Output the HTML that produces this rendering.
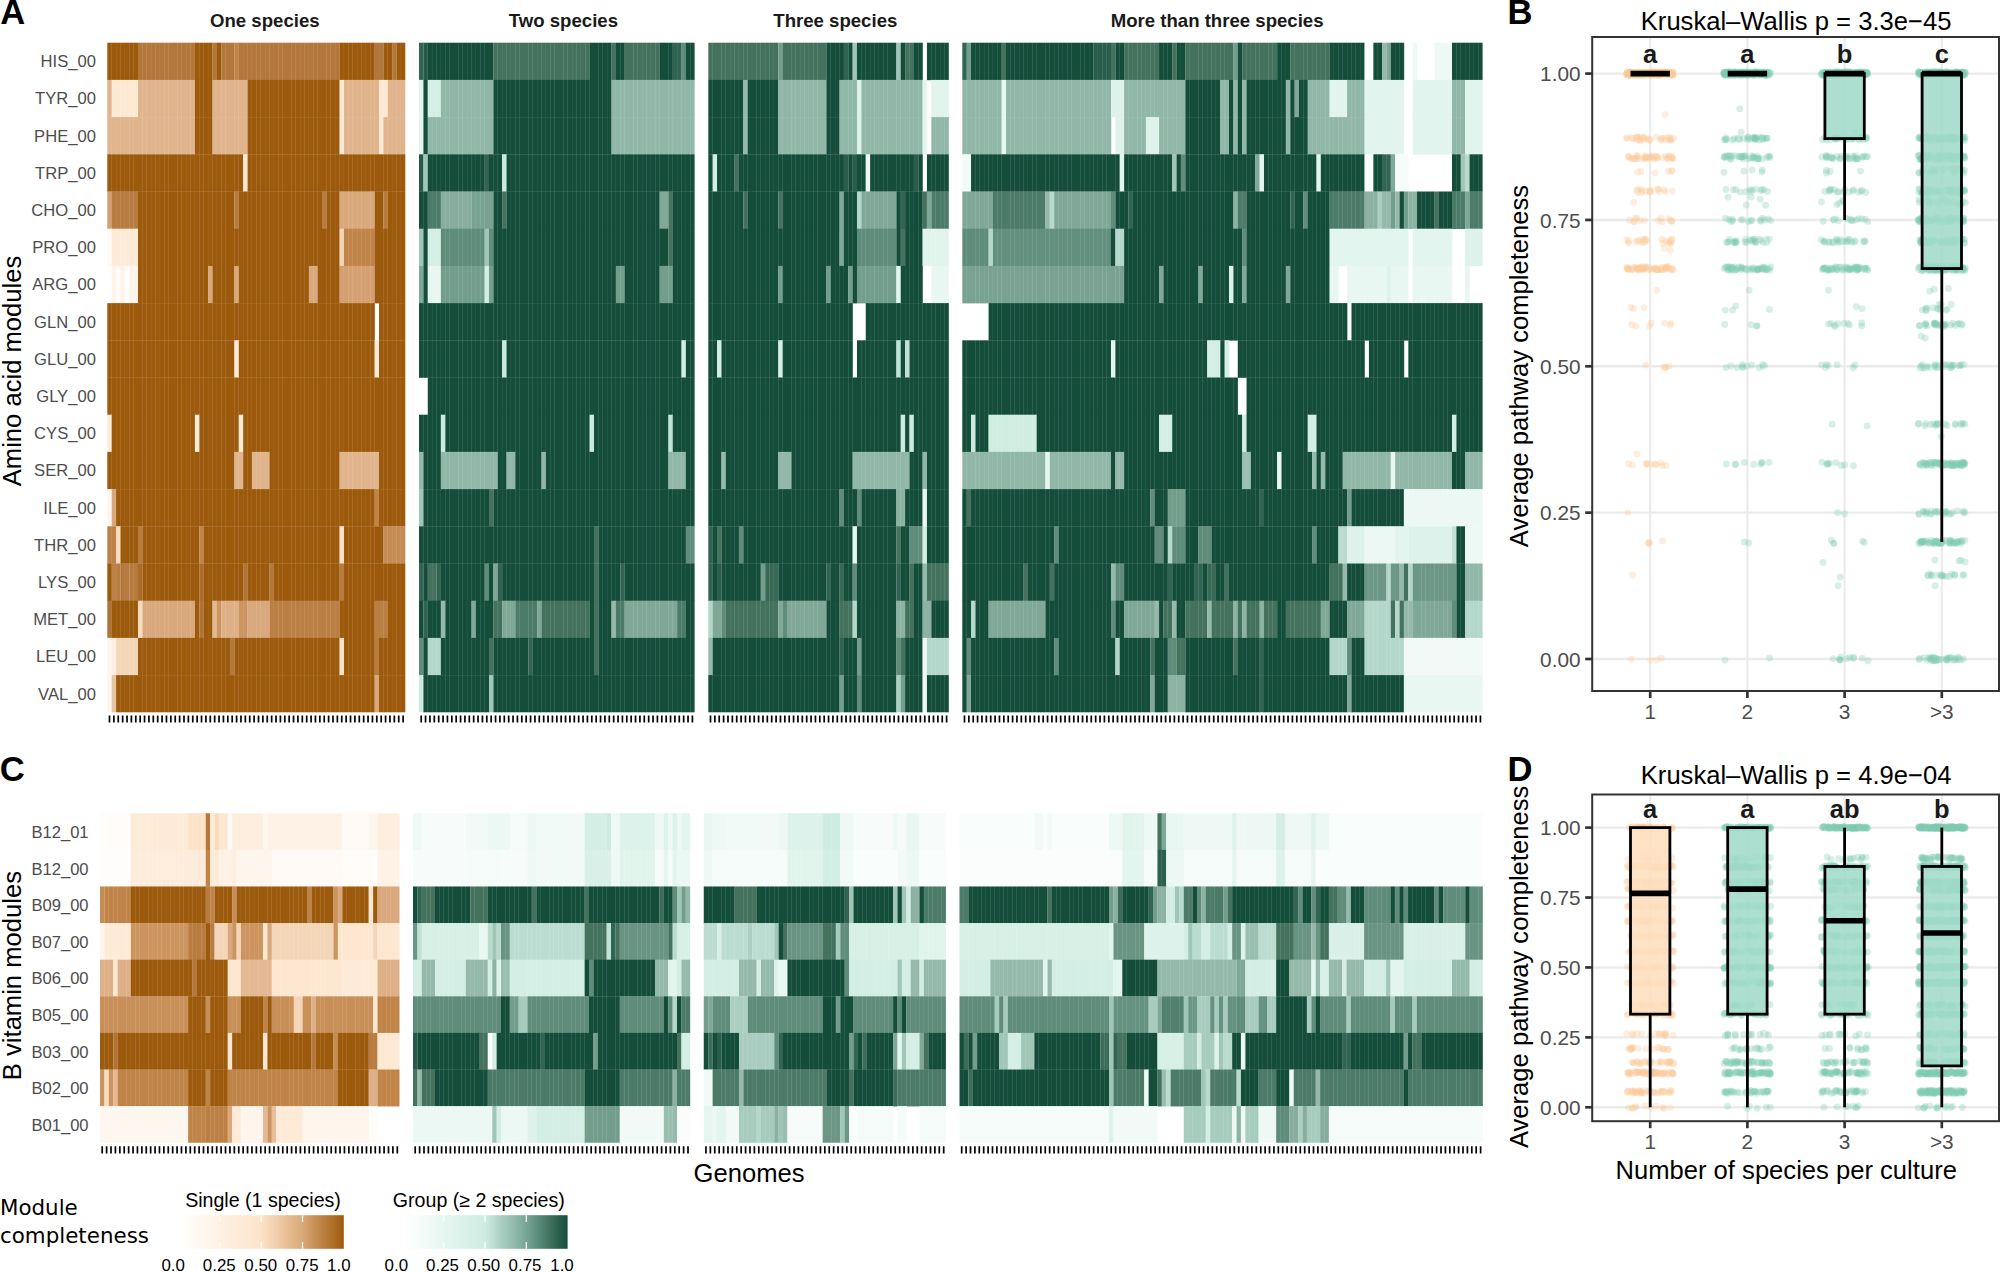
<!DOCTYPE html>
<html><head><meta charset="utf-8"><title>Figure</title>
<style>html,body{margin:0;padding:0;background:#fff;overflow:hidden}svg{display:block}text{font-family:"Liberation Sans",Arial,Helvetica,sans-serif}</style>
</head><body>
<svg width="2000" height="1272" viewBox="0 0 2000 1272">
<rect width="2000" height="1272" fill="#fff"/>
<g shape-rendering="auto">
<rect x="107.3" y="42.7" width="30.98" height="37.5" fill="#9C5A0C"/>
<rect x="137.98" y="42.7" width="57.27" height="37.5" fill="#B4773B"/>
<rect x="194.95" y="42.7" width="17.83" height="37.5" fill="#9C5A0C"/>
<rect x="212.48" y="42.7" width="4.68" height="37.5" fill="#B4773B"/>
<rect x="216.86" y="42.7" width="4.68" height="37.5" fill="#9C5A0C"/>
<rect x="221.24" y="42.7" width="13.45" height="37.5" fill="#B4773B"/>
<rect x="234.39" y="42.7" width="4.68" height="37.5" fill="#C08448"/>
<rect x="238.77" y="42.7" width="101.09" height="37.5" fill="#B4773B"/>
<rect x="339.56" y="42.7" width="35.36" height="37.5" fill="#9C5A0C"/>
<rect x="374.62" y="42.7" width="9.06" height="37.5" fill="#B4773B"/>
<rect x="383.39" y="42.7" width="9.06" height="37.5" fill="#9C5A0C"/>
<rect x="392.15" y="42.7" width="4.68" height="37.5" fill="#B4773B"/>
<rect x="396.54" y="42.7" width="8.76" height="37.5" fill="#9C5A0C"/>
<rect x="107.3" y="79.9" width="4.68" height="37.5" fill="#E0B48C"/>
<rect x="111.68" y="79.9" width="26.59" height="37.5" fill="#FDE9D3"/>
<rect x="137.98" y="79.9" width="57.27" height="37.5" fill="#E0B48C"/>
<rect x="194.95" y="79.9" width="17.83" height="37.5" fill="#9C5A0C"/>
<rect x="212.48" y="79.9" width="35.36" height="37.5" fill="#E0B48C"/>
<rect x="247.54" y="79.9" width="92.33" height="37.5" fill="#9C5A0C"/>
<rect x="339.56" y="79.9" width="4.68" height="37.5" fill="#FDE9D3"/>
<rect x="343.95" y="79.9" width="35.36" height="37.5" fill="#E0B48C"/>
<rect x="379.01" y="79.9" width="9.06" height="37.5" fill="#FDE9D3"/>
<rect x="387.77" y="79.9" width="17.53" height="37.5" fill="#E0B48C"/>
<rect x="107.3" y="117.1" width="87.95" height="37.5" fill="#E0B48C"/>
<rect x="194.95" y="117.1" width="17.83" height="37.5" fill="#9C5A0C"/>
<rect x="212.48" y="117.1" width="35.36" height="37.5" fill="#E0B48C"/>
<rect x="247.54" y="117.1" width="92.33" height="37.5" fill="#9C5A0C"/>
<rect x="339.56" y="117.1" width="4.68" height="37.5" fill="#FDE9D3"/>
<rect x="343.95" y="117.1" width="35.36" height="37.5" fill="#E0B48C"/>
<rect x="379.01" y="117.1" width="4.68" height="37.5" fill="#FDE9D3"/>
<rect x="383.39" y="117.1" width="21.91" height="37.5" fill="#E0B48C"/>
<rect x="107.3" y="154.3" width="136.15" height="37.5" fill="#9C5A0C"/>
<rect x="243.15" y="154.3" width="4.68" height="37.5" fill="#FDE9D3"/>
<rect x="247.54" y="154.3" width="157.76" height="37.5" fill="#9C5A0C"/>
<rect x="107.3" y="191.5" width="4.68" height="37.5" fill="#D4A071"/>
<rect x="111.68" y="191.5" width="26.59" height="37.5" fill="#B87C40"/>
<rect x="137.98" y="191.5" width="96.71" height="37.5" fill="#9C5A0C"/>
<rect x="234.39" y="191.5" width="4.68" height="37.5" fill="#B87C40"/>
<rect x="238.77" y="191.5" width="83.56" height="37.5" fill="#9C5A0C"/>
<rect x="322.04" y="191.5" width="4.68" height="37.5" fill="#B87C40"/>
<rect x="326.42" y="191.5" width="13.45" height="37.5" fill="#9C5A0C"/>
<rect x="339.56" y="191.5" width="35.36" height="37.5" fill="#D9A87C"/>
<rect x="374.62" y="191.5" width="9.06" height="37.5" fill="#9C5A0C"/>
<rect x="383.39" y="191.5" width="4.68" height="37.5" fill="#B87C40"/>
<rect x="387.77" y="191.5" width="17.53" height="37.5" fill="#9C5A0C"/>
<rect x="107.3" y="228.7" width="4.68" height="37.5" fill="#FFFAF5"/>
<rect x="111.68" y="228.7" width="26.59" height="37.5" fill="#FDEBD8"/>
<rect x="137.98" y="228.7" width="201.89" height="37.5" fill="#9C5A0C"/>
<rect x="339.56" y="228.7" width="4.68" height="37.5" fill="#F3D5B8"/>
<rect x="343.95" y="228.7" width="30.98" height="37.5" fill="#C08448"/>
<rect x="374.62" y="228.7" width="30.68" height="37.5" fill="#9C5A0C"/>
<rect x="111.68" y="265.9" width="4.68" height="37.5" fill="#FEF4EB"/>
<rect x="116.06" y="265.9" width="4.68" height="37.5" fill="#FFFDFB"/>
<rect x="120.45" y="265.9" width="4.68" height="37.5" fill="#FEF4EB"/>
<rect x="124.83" y="265.9" width="4.68" height="37.5" fill="#FFFDFB"/>
<rect x="129.21" y="265.9" width="9.06" height="37.5" fill="#FEF4EB"/>
<rect x="137.98" y="265.9" width="70.42" height="37.5" fill="#9C5A0C"/>
<rect x="208.09" y="265.9" width="4.68" height="37.5" fill="#D9A87C"/>
<rect x="212.48" y="265.9" width="22.21" height="37.5" fill="#9C5A0C"/>
<rect x="234.39" y="265.9" width="4.68" height="37.5" fill="#D9A87C"/>
<rect x="238.77" y="265.9" width="70.42" height="37.5" fill="#9C5A0C"/>
<rect x="308.89" y="265.9" width="9.06" height="37.5" fill="#D9A87C"/>
<rect x="317.65" y="265.9" width="22.21" height="37.5" fill="#9C5A0C"/>
<rect x="339.56" y="265.9" width="35.36" height="37.5" fill="#D4A071"/>
<rect x="374.62" y="265.9" width="30.68" height="37.5" fill="#9C5A0C"/>
<rect x="107.3" y="303.1" width="267.62" height="37.5" fill="#9C5A0C"/>
<rect x="379.01" y="303.1" width="26.29" height="37.5" fill="#9C5A0C"/>
<rect x="107.3" y="340.3" width="127.39" height="37.5" fill="#9C5A0C"/>
<rect x="234.39" y="340.3" width="4.68" height="37.5" fill="#FDEBD8"/>
<rect x="238.77" y="340.3" width="136.15" height="37.5" fill="#9C5A0C"/>
<rect x="374.62" y="340.3" width="4.68" height="37.5" fill="#FDEBD8"/>
<rect x="379.01" y="340.3" width="26.29" height="37.5" fill="#9C5A0C"/>
<rect x="107.3" y="377.5" width="298" height="37.5" fill="#9C5A0C"/>
<rect x="107.3" y="414.7" width="4.68" height="37.5" fill="#FDEBD8"/>
<rect x="111.68" y="414.7" width="83.56" height="37.5" fill="#9C5A0C"/>
<rect x="194.95" y="414.7" width="4.68" height="37.5" fill="#FDEBD8"/>
<rect x="199.33" y="414.7" width="39.74" height="37.5" fill="#9C5A0C"/>
<rect x="238.77" y="414.7" width="4.68" height="37.5" fill="#FDEBD8"/>
<rect x="243.15" y="414.7" width="162.15" height="37.5" fill="#9C5A0C"/>
<rect x="107.3" y="451.9" width="127.39" height="37.5" fill="#9C5A0C"/>
<rect x="234.39" y="451.9" width="9.06" height="37.5" fill="#E0B48C"/>
<rect x="243.15" y="451.9" width="9.06" height="37.5" fill="#9C5A0C"/>
<rect x="251.92" y="451.9" width="17.83" height="37.5" fill="#E0B48C"/>
<rect x="269.45" y="451.9" width="70.42" height="37.5" fill="#9C5A0C"/>
<rect x="339.56" y="451.9" width="39.74" height="37.5" fill="#E0B48C"/>
<rect x="379.01" y="451.9" width="26.29" height="37.5" fill="#9C5A0C"/>
<rect x="107.3" y="489.1" width="4.68" height="37.5" fill="#FEF5EC"/>
<rect x="111.68" y="489.1" width="4.68" height="37.5" fill="#D9A87C"/>
<rect x="116.06" y="489.1" width="258.86" height="37.5" fill="#9C5A0C"/>
<rect x="374.62" y="489.1" width="4.68" height="37.5" fill="#C08448"/>
<rect x="379.01" y="489.1" width="26.29" height="37.5" fill="#9C5A0C"/>
<rect x="107.3" y="526.3" width="9.06" height="37.5" fill="#BD8145"/>
<rect x="116.06" y="526.3" width="4.68" height="37.5" fill="#F8DCC0"/>
<rect x="120.45" y="526.3" width="17.83" height="37.5" fill="#9C5A0C"/>
<rect x="137.98" y="526.3" width="4.68" height="37.5" fill="#B87C40"/>
<rect x="142.36" y="526.3" width="57.27" height="37.5" fill="#9C5A0C"/>
<rect x="199.33" y="526.3" width="4.68" height="37.5" fill="#C08448"/>
<rect x="203.71" y="526.3" width="136.15" height="37.5" fill="#9C5A0C"/>
<rect x="339.56" y="526.3" width="4.68" height="37.5" fill="#FCE3C8"/>
<rect x="343.95" y="526.3" width="39.74" height="37.5" fill="#9C5A0C"/>
<rect x="383.39" y="526.3" width="21.91" height="37.5" fill="#C68C55"/>
<rect x="107.3" y="563.5" width="4.68" height="37.5" fill="#9C5A0C"/>
<rect x="111.68" y="563.5" width="4.68" height="37.5" fill="#BD8145"/>
<rect x="116.06" y="563.5" width="4.68" height="37.5" fill="#B87C40"/>
<rect x="120.45" y="563.5" width="4.68" height="37.5" fill="#B5783C"/>
<rect x="124.83" y="563.5" width="4.68" height="37.5" fill="#B87C40"/>
<rect x="129.21" y="563.5" width="9.06" height="37.5" fill="#B67A3E"/>
<rect x="137.98" y="563.5" width="4.68" height="37.5" fill="#AB6C2A"/>
<rect x="142.36" y="563.5" width="57.27" height="37.5" fill="#9C5A0C"/>
<rect x="199.33" y="563.5" width="4.68" height="37.5" fill="#AB6C2A"/>
<rect x="203.71" y="563.5" width="39.74" height="37.5" fill="#9C5A0C"/>
<rect x="243.15" y="563.5" width="4.68" height="37.5" fill="#B17335"/>
<rect x="247.54" y="563.5" width="22.21" height="37.5" fill="#9C5A0C"/>
<rect x="269.45" y="563.5" width="4.68" height="37.5" fill="#B5783C"/>
<rect x="273.83" y="563.5" width="66.04" height="37.5" fill="#9C5A0C"/>
<rect x="339.56" y="563.5" width="4.68" height="37.5" fill="#B87C40"/>
<rect x="343.95" y="563.5" width="61.35" height="37.5" fill="#9C5A0C"/>
<rect x="107.3" y="600.7" width="4.68" height="37.5" fill="#B17335"/>
<rect x="111.68" y="600.7" width="26.59" height="37.5" fill="#9C5A0C"/>
<rect x="137.98" y="600.7" width="4.68" height="37.5" fill="#F8DCC0"/>
<rect x="142.36" y="600.7" width="52.89" height="37.5" fill="#D9A87C"/>
<rect x="194.95" y="600.7" width="4.68" height="37.5" fill="#9C5A0C"/>
<rect x="199.33" y="600.7" width="4.68" height="37.5" fill="#B17335"/>
<rect x="203.71" y="600.7" width="9.06" height="37.5" fill="#9C5A0C"/>
<rect x="212.48" y="600.7" width="4.68" height="37.5" fill="#E3B892"/>
<rect x="216.86" y="600.7" width="4.68" height="37.5" fill="#CC9560"/>
<rect x="221.24" y="600.7" width="17.83" height="37.5" fill="#DEB087"/>
<rect x="238.77" y="600.7" width="9.06" height="37.5" fill="#CC9560"/>
<rect x="247.54" y="600.7" width="22.21" height="37.5" fill="#D9A87C"/>
<rect x="269.45" y="600.7" width="70.42" height="37.5" fill="#BB7F43"/>
<rect x="339.56" y="600.7" width="35.36" height="37.5" fill="#9C5A0C"/>
<rect x="374.62" y="600.7" width="13.45" height="37.5" fill="#BB7F43"/>
<rect x="387.77" y="600.7" width="17.53" height="37.5" fill="#9C5A0C"/>
<rect x="107.3" y="637.9" width="4.68" height="37.5" fill="#FEF5EC"/>
<rect x="111.68" y="637.9" width="4.68" height="37.5" fill="#FEEEDF"/>
<rect x="116.06" y="637.9" width="22.21" height="37.5" fill="#F3D5B8"/>
<rect x="137.98" y="637.9" width="92.33" height="37.5" fill="#9C5A0C"/>
<rect x="230.01" y="637.9" width="4.68" height="37.5" fill="#B5783C"/>
<rect x="234.39" y="637.9" width="105.48" height="37.5" fill="#9C5A0C"/>
<rect x="339.56" y="637.9" width="4.68" height="37.5" fill="#FCE3C8"/>
<rect x="343.95" y="637.9" width="30.98" height="37.5" fill="#9C5A0C"/>
<rect x="374.62" y="637.9" width="4.68" height="37.5" fill="#B87C40"/>
<rect x="379.01" y="637.9" width="26.29" height="37.5" fill="#9C5A0C"/>
<rect x="107.3" y="675.1" width="4.68" height="37.2" fill="#FEF5EC"/>
<rect x="111.68" y="675.1" width="4.68" height="37.2" fill="#E8C4A0"/>
<rect x="116.06" y="675.1" width="258.86" height="37.2" fill="#9C5A0C"/>
<rect x="374.62" y="675.1" width="4.68" height="37.2" fill="#D9A87C"/>
<rect x="379.01" y="675.1" width="26.29" height="37.2" fill="#9C5A0C"/>
<rect x="419" y="42.7" width="4.67" height="37.5" fill="#316452"/>
<rect x="423.37" y="42.7" width="4.67" height="37.5" fill="#255A48"/>
<rect x="427.75" y="42.7" width="65.92" height="37.5" fill="#154D3B"/>
<rect x="493.37" y="42.7" width="96.54" height="37.5" fill="#44725F"/>
<rect x="589.61" y="42.7" width="22.17" height="37.5" fill="#154D3B"/>
<rect x="611.48" y="42.7" width="4.67" height="37.5" fill="#44725F"/>
<rect x="615.86" y="42.7" width="9.05" height="37.5" fill="#154D3B"/>
<rect x="624.61" y="42.7" width="35.3" height="37.5" fill="#44725F"/>
<rect x="659.6" y="42.7" width="13.42" height="37.5" fill="#154D3B"/>
<rect x="672.73" y="42.7" width="9.05" height="37.5" fill="#316452"/>
<rect x="681.48" y="42.7" width="4.67" height="37.5" fill="#5F8C7B"/>
<rect x="685.85" y="42.7" width="8.75" height="37.5" fill="#154D3B"/>
<rect x="419" y="79.9" width="4.67" height="37.5" fill="#E2F5EE"/>
<rect x="423.37" y="79.9" width="4.67" height="37.5" fill="#154D3B"/>
<rect x="427.75" y="79.9" width="13.42" height="37.5" fill="#D3EEE4"/>
<rect x="440.87" y="79.9" width="52.8" height="37.5" fill="#91B7A8"/>
<rect x="493.37" y="79.9" width="118.41" height="37.5" fill="#154D3B"/>
<rect x="611.48" y="79.9" width="83.12" height="37.5" fill="#91B7A8"/>
<rect x="419" y="117.1" width="4.67" height="37.5" fill="#E2F5EE"/>
<rect x="423.37" y="117.1" width="4.67" height="37.5" fill="#154D3B"/>
<rect x="427.75" y="117.1" width="65.92" height="37.5" fill="#91B7A8"/>
<rect x="493.37" y="117.1" width="118.41" height="37.5" fill="#154D3B"/>
<rect x="611.48" y="117.1" width="83.12" height="37.5" fill="#91B7A8"/>
<rect x="419" y="154.3" width="4.67" height="37.5" fill="#255A48"/>
<rect x="423.37" y="154.3" width="4.67" height="37.5" fill="#A0C6B8"/>
<rect x="427.75" y="154.3" width="57.17" height="37.5" fill="#154D3B"/>
<rect x="484.62" y="154.3" width="4.67" height="37.5" fill="#316452"/>
<rect x="488.99" y="154.3" width="13.42" height="37.5" fill="#154D3B"/>
<rect x="502.12" y="154.3" width="4.67" height="37.5" fill="#CCEBE0"/>
<rect x="506.49" y="154.3" width="188.11" height="37.5" fill="#154D3B"/>
<rect x="419" y="191.5" width="9.05" height="37.5" fill="#154D3B"/>
<rect x="427.75" y="191.5" width="13.42" height="37.5" fill="#4D7B69"/>
<rect x="440.87" y="191.5" width="30.92" height="37.5" fill="#86AD9D"/>
<rect x="471.5" y="191.5" width="22.17" height="37.5" fill="#7AA292"/>
<rect x="493.37" y="191.5" width="9.05" height="37.5" fill="#154D3B"/>
<rect x="502.12" y="191.5" width="4.67" height="37.5" fill="#44725F"/>
<rect x="506.49" y="191.5" width="153.41" height="37.5" fill="#154D3B"/>
<rect x="659.6" y="191.5" width="9.05" height="37.5" fill="#80A898"/>
<rect x="668.35" y="191.5" width="4.67" height="37.5" fill="#44725F"/>
<rect x="672.73" y="191.5" width="21.87" height="37.5" fill="#154D3B"/>
<rect x="419" y="228.7" width="4.67" height="37.5" fill="#A0C6B8"/>
<rect x="423.37" y="228.7" width="4.67" height="37.5" fill="#154D3B"/>
<rect x="427.75" y="228.7" width="13.42" height="37.5" fill="#D3EEE4"/>
<rect x="440.87" y="228.7" width="44.05" height="37.5" fill="#5F8C7B"/>
<rect x="484.62" y="228.7" width="4.67" height="37.5" fill="#A0C6B8"/>
<rect x="488.99" y="228.7" width="4.67" height="37.5" fill="#5F8C7B"/>
<rect x="493.37" y="228.7" width="175.28" height="37.5" fill="#154D3B"/>
<rect x="668.35" y="228.7" width="4.67" height="37.5" fill="#44725F"/>
<rect x="672.73" y="228.7" width="21.87" height="37.5" fill="#154D3B"/>
<rect x="419" y="265.9" width="4.67" height="37.5" fill="#80A898"/>
<rect x="423.37" y="265.9" width="4.67" height="37.5" fill="#154D3B"/>
<rect x="427.75" y="265.9" width="13.42" height="37.5" fill="#E8F7F1"/>
<rect x="440.87" y="265.9" width="44.05" height="37.5" fill="#739D8C"/>
<rect x="484.62" y="265.9" width="4.67" height="37.5" fill="#D3EEE4"/>
<rect x="488.99" y="265.9" width="4.67" height="37.5" fill="#739D8C"/>
<rect x="493.37" y="265.9" width="122.79" height="37.5" fill="#154D3B"/>
<rect x="615.86" y="265.9" width="9.05" height="37.5" fill="#739D8C"/>
<rect x="624.61" y="265.9" width="35.3" height="37.5" fill="#154D3B"/>
<rect x="659.6" y="265.9" width="13.42" height="37.5" fill="#739D8C"/>
<rect x="672.73" y="265.9" width="21.87" height="37.5" fill="#154D3B"/>
<rect x="419" y="303.1" width="275.6" height="37.5" fill="#154D3B"/>
<rect x="419" y="340.3" width="83.42" height="37.5" fill="#154D3B"/>
<rect x="502.12" y="340.3" width="4.67" height="37.5" fill="#CCEBE0"/>
<rect x="506.49" y="340.3" width="175.28" height="37.5" fill="#154D3B"/>
<rect x="681.48" y="340.3" width="4.67" height="37.5" fill="#D3EEE4"/>
<rect x="685.85" y="340.3" width="8.75" height="37.5" fill="#154D3B"/>
<rect x="427.75" y="377.5" width="266.85" height="37.5" fill="#154D3B"/>
<rect x="419" y="414.7" width="22.17" height="37.5" fill="#154D3B"/>
<rect x="440.87" y="414.7" width="4.67" height="37.5" fill="#CCEBE0"/>
<rect x="445.25" y="414.7" width="144.66" height="37.5" fill="#154D3B"/>
<rect x="589.61" y="414.7" width="4.67" height="37.5" fill="#CCEBE0"/>
<rect x="593.98" y="414.7" width="74.67" height="37.5" fill="#154D3B"/>
<rect x="668.35" y="414.7" width="4.67" height="37.5" fill="#C0E1D5"/>
<rect x="672.73" y="414.7" width="21.87" height="37.5" fill="#154D3B"/>
<rect x="419" y="451.9" width="4.67" height="37.5" fill="#95BAAC"/>
<rect x="423.37" y="451.9" width="17.8" height="37.5" fill="#154D3B"/>
<rect x="440.87" y="451.9" width="57.17" height="37.5" fill="#91B7A8"/>
<rect x="497.74" y="451.9" width="9.05" height="37.5" fill="#154D3B"/>
<rect x="506.49" y="451.9" width="9.05" height="37.5" fill="#91B7A8"/>
<rect x="515.24" y="451.9" width="26.55" height="37.5" fill="#154D3B"/>
<rect x="541.49" y="451.9" width="4.67" height="37.5" fill="#91B7A8"/>
<rect x="545.86" y="451.9" width="122.79" height="37.5" fill="#154D3B"/>
<rect x="668.35" y="451.9" width="17.8" height="37.5" fill="#91B7A8"/>
<rect x="685.85" y="451.9" width="8.75" height="37.5" fill="#154D3B"/>
<rect x="419" y="489.1" width="4.67" height="37.5" fill="#A0C6B8"/>
<rect x="423.37" y="489.1" width="65.92" height="37.5" fill="#154D3B"/>
<rect x="488.99" y="489.1" width="4.67" height="37.5" fill="#44725F"/>
<rect x="493.37" y="489.1" width="201.23" height="37.5" fill="#154D3B"/>
<rect x="419" y="526.3" width="175.28" height="37.5" fill="#154D3B"/>
<rect x="593.98" y="526.3" width="4.67" height="37.5" fill="#44725F"/>
<rect x="598.36" y="526.3" width="87.79" height="37.5" fill="#154D3B"/>
<rect x="685.85" y="526.3" width="8.75" height="37.5" fill="#5F8C7B"/>
<rect x="419" y="563.5" width="4.67" height="37.5" fill="#316452"/>
<rect x="423.37" y="563.5" width="4.67" height="37.5" fill="#154D3B"/>
<rect x="427.75" y="563.5" width="9.05" height="37.5" fill="#44725F"/>
<rect x="436.5" y="563.5" width="4.67" height="37.5" fill="#316452"/>
<rect x="440.87" y="563.5" width="44.05" height="37.5" fill="#154D3B"/>
<rect x="484.62" y="563.5" width="4.67" height="37.5" fill="#5F8C7B"/>
<rect x="488.99" y="563.5" width="4.67" height="37.5" fill="#154D3B"/>
<rect x="493.37" y="563.5" width="4.67" height="37.5" fill="#80A898"/>
<rect x="497.74" y="563.5" width="4.67" height="37.5" fill="#316452"/>
<rect x="502.12" y="563.5" width="92.17" height="37.5" fill="#154D3B"/>
<rect x="593.98" y="563.5" width="4.67" height="37.5" fill="#44725F"/>
<rect x="598.36" y="563.5" width="22.17" height="37.5" fill="#154D3B"/>
<rect x="620.23" y="563.5" width="4.67" height="37.5" fill="#316452"/>
<rect x="624.61" y="563.5" width="69.99" height="37.5" fill="#154D3B"/>
<rect x="419" y="600.7" width="4.67" height="37.5" fill="#154D3B"/>
<rect x="423.37" y="600.7" width="4.67" height="37.5" fill="#316452"/>
<rect x="427.75" y="600.7" width="13.42" height="37.5" fill="#154D3B"/>
<rect x="440.87" y="600.7" width="4.67" height="37.5" fill="#95BAAC"/>
<rect x="445.25" y="600.7" width="26.55" height="37.5" fill="#154D3B"/>
<rect x="471.5" y="600.7" width="4.67" height="37.5" fill="#80A898"/>
<rect x="475.87" y="600.7" width="17.8" height="37.5" fill="#154D3B"/>
<rect x="493.37" y="600.7" width="9.05" height="37.5" fill="#44725F"/>
<rect x="502.12" y="600.7" width="13.42" height="37.5" fill="#80A898"/>
<rect x="515.24" y="600.7" width="22.17" height="37.5" fill="#4D7B69"/>
<rect x="537.11" y="600.7" width="4.67" height="37.5" fill="#80A898"/>
<rect x="541.49" y="600.7" width="48.42" height="37.5" fill="#44725F"/>
<rect x="589.61" y="600.7" width="4.67" height="37.5" fill="#154D3B"/>
<rect x="593.98" y="600.7" width="4.67" height="37.5" fill="#44725F"/>
<rect x="598.36" y="600.7" width="13.42" height="37.5" fill="#154D3B"/>
<rect x="611.48" y="600.7" width="4.67" height="37.5" fill="#95BAAC"/>
<rect x="615.86" y="600.7" width="9.05" height="37.5" fill="#4D7B69"/>
<rect x="624.61" y="600.7" width="52.8" height="37.5" fill="#80A898"/>
<rect x="677.1" y="600.7" width="9.05" height="37.5" fill="#4D7B69"/>
<rect x="685.85" y="600.7" width="8.75" height="37.5" fill="#154D3B"/>
<rect x="419" y="637.9" width="4.67" height="37.5" fill="#5F8C7B"/>
<rect x="423.37" y="637.9" width="4.67" height="37.5" fill="#154D3B"/>
<rect x="427.75" y="637.9" width="13.42" height="37.5" fill="#B3D7CA"/>
<rect x="440.87" y="637.9" width="48.42" height="37.5" fill="#154D3B"/>
<rect x="488.99" y="637.9" width="4.67" height="37.5" fill="#44725F"/>
<rect x="493.37" y="637.9" width="35.3" height="37.5" fill="#154D3B"/>
<rect x="528.37" y="637.9" width="4.67" height="37.5" fill="#316452"/>
<rect x="532.74" y="637.9" width="61.54" height="37.5" fill="#154D3B"/>
<rect x="593.98" y="637.9" width="4.67" height="37.5" fill="#44725F"/>
<rect x="598.36" y="637.9" width="96.24" height="37.5" fill="#154D3B"/>
<rect x="419" y="675.1" width="4.67" height="37.2" fill="#CCEBE0"/>
<rect x="423.37" y="675.1" width="65.92" height="37.2" fill="#154D3B"/>
<rect x="488.99" y="675.1" width="4.67" height="37.2" fill="#A0C6B8"/>
<rect x="493.37" y="675.1" width="201.23" height="37.2" fill="#154D3B"/>
<rect x="708.3" y="42.7" width="70.26" height="37.5" fill="#44725F"/>
<rect x="778.26" y="42.7" width="4.67" height="37.5" fill="#739D8C"/>
<rect x="782.64" y="42.7" width="44.03" height="37.5" fill="#44725F"/>
<rect x="826.36" y="42.7" width="17.79" height="37.5" fill="#154D3B"/>
<rect x="843.85" y="42.7" width="4.67" height="37.5" fill="#316452"/>
<rect x="848.23" y="42.7" width="4.67" height="37.5" fill="#154D3B"/>
<rect x="852.6" y="42.7" width="4.67" height="37.5" fill="#A0C6B8"/>
<rect x="856.97" y="42.7" width="39.65" height="37.5" fill="#154D3B"/>
<rect x="896.33" y="42.7" width="4.67" height="37.5" fill="#A0C6B8"/>
<rect x="900.7" y="42.7" width="4.67" height="37.5" fill="#154D3B"/>
<rect x="905.07" y="42.7" width="9.05" height="37.5" fill="#44725F"/>
<rect x="913.82" y="42.7" width="9.05" height="37.5" fill="#154D3B"/>
<rect x="926.94" y="42.7" width="21.86" height="37.5" fill="#154D3B"/>
<rect x="708.3" y="79.9" width="35.28" height="37.5" fill="#154D3B"/>
<rect x="743.28" y="79.9" width="4.67" height="37.5" fill="#95BAAC"/>
<rect x="747.65" y="79.9" width="30.91" height="37.5" fill="#154D3B"/>
<rect x="778.26" y="79.9" width="48.4" height="37.5" fill="#91B7A8"/>
<rect x="826.36" y="79.9" width="13.42" height="37.5" fill="#154D3B"/>
<rect x="839.48" y="79.9" width="17.79" height="37.5" fill="#91B7A8"/>
<rect x="856.97" y="79.9" width="4.67" height="37.5" fill="#DCF2EA"/>
<rect x="861.35" y="79.9" width="61.52" height="37.5" fill="#91B7A8"/>
<rect x="922.56" y="79.9" width="4.67" height="37.5" fill="#E2F5EE"/>
<rect x="931.31" y="79.9" width="17.49" height="37.5" fill="#E0F4EC"/>
<rect x="708.3" y="117.1" width="35.28" height="37.5" fill="#154D3B"/>
<rect x="743.28" y="117.1" width="4.67" height="37.5" fill="#95BAAC"/>
<rect x="747.65" y="117.1" width="30.91" height="37.5" fill="#154D3B"/>
<rect x="778.26" y="117.1" width="48.4" height="37.5" fill="#91B7A8"/>
<rect x="826.36" y="117.1" width="13.42" height="37.5" fill="#154D3B"/>
<rect x="839.48" y="117.1" width="17.79" height="37.5" fill="#91B7A8"/>
<rect x="856.97" y="117.1" width="4.67" height="37.5" fill="#DCF2EA"/>
<rect x="861.35" y="117.1" width="61.52" height="37.5" fill="#91B7A8"/>
<rect x="922.56" y="117.1" width="4.67" height="37.5" fill="#E2F5EE"/>
<rect x="931.31" y="117.1" width="17.49" height="37.5" fill="#91B7A8"/>
<rect x="708.3" y="154.3" width="4.67" height="37.5" fill="#154D3B"/>
<rect x="712.67" y="154.3" width="4.67" height="37.5" fill="#D3EEE4"/>
<rect x="717.05" y="154.3" width="17.79" height="37.5" fill="#154D3B"/>
<rect x="734.54" y="154.3" width="4.67" height="37.5" fill="#44725F"/>
<rect x="738.91" y="154.3" width="105.25" height="37.5" fill="#154D3B"/>
<rect x="843.85" y="154.3" width="4.67" height="37.5" fill="#2A5E4C"/>
<rect x="848.23" y="154.3" width="4.67" height="37.5" fill="#154D3B"/>
<rect x="852.6" y="154.3" width="4.67" height="37.5" fill="#2A5E4C"/>
<rect x="856.97" y="154.3" width="9.05" height="37.5" fill="#154D3B"/>
<rect x="865.72" y="154.3" width="4.67" height="37.5" fill="#EEF9F5"/>
<rect x="870.09" y="154.3" width="44.03" height="37.5" fill="#154D3B"/>
<rect x="913.82" y="154.3" width="4.67" height="37.5" fill="#2A5E4C"/>
<rect x="918.19" y="154.3" width="4.67" height="37.5" fill="#154D3B"/>
<rect x="926.94" y="154.3" width="21.86" height="37.5" fill="#154D3B"/>
<rect x="708.3" y="191.5" width="35.28" height="37.5" fill="#154D3B"/>
<rect x="743.28" y="191.5" width="4.67" height="37.5" fill="#44725F"/>
<rect x="747.65" y="191.5" width="30.91" height="37.5" fill="#154D3B"/>
<rect x="778.26" y="191.5" width="4.67" height="37.5" fill="#44725F"/>
<rect x="782.64" y="191.5" width="57.15" height="37.5" fill="#154D3B"/>
<rect x="839.48" y="191.5" width="4.67" height="37.5" fill="#80A898"/>
<rect x="843.85" y="191.5" width="13.42" height="37.5" fill="#154D3B"/>
<rect x="856.97" y="191.5" width="4.67" height="37.5" fill="#B3D7CA"/>
<rect x="861.35" y="191.5" width="35.28" height="37.5" fill="#80A898"/>
<rect x="896.33" y="191.5" width="4.67" height="37.5" fill="#154D3B"/>
<rect x="900.7" y="191.5" width="4.67" height="37.5" fill="#316452"/>
<rect x="905.07" y="191.5" width="17.79" height="37.5" fill="#154D3B"/>
<rect x="922.56" y="191.5" width="4.67" height="37.5" fill="#44725F"/>
<rect x="926.94" y="191.5" width="4.67" height="37.5" fill="#80A898"/>
<rect x="931.31" y="191.5" width="17.49" height="37.5" fill="#4D7B69"/>
<rect x="708.3" y="228.7" width="131.48" height="37.5" fill="#154D3B"/>
<rect x="839.48" y="228.7" width="4.67" height="37.5" fill="#80A898"/>
<rect x="843.85" y="228.7" width="13.42" height="37.5" fill="#154D3B"/>
<rect x="856.97" y="228.7" width="39.65" height="37.5" fill="#5F8C7B"/>
<rect x="896.33" y="228.7" width="4.67" height="37.5" fill="#154D3B"/>
<rect x="900.7" y="228.7" width="4.67" height="37.5" fill="#44725F"/>
<rect x="905.07" y="228.7" width="17.79" height="37.5" fill="#154D3B"/>
<rect x="922.56" y="228.7" width="26.24" height="37.5" fill="#E0F4EC"/>
<rect x="708.3" y="265.9" width="70.26" height="37.5" fill="#154D3B"/>
<rect x="778.26" y="265.9" width="4.67" height="37.5" fill="#739D8C"/>
<rect x="782.64" y="265.9" width="44.03" height="37.5" fill="#154D3B"/>
<rect x="826.36" y="265.9" width="4.67" height="37.5" fill="#739D8C"/>
<rect x="830.74" y="265.9" width="17.79" height="37.5" fill="#154D3B"/>
<rect x="848.23" y="265.9" width="4.67" height="37.5" fill="#739D8C"/>
<rect x="852.6" y="265.9" width="4.67" height="37.5" fill="#154D3B"/>
<rect x="856.97" y="265.9" width="39.65" height="37.5" fill="#739D8C"/>
<rect x="896.33" y="265.9" width="4.67" height="37.5" fill="#E2F5EE"/>
<rect x="900.7" y="265.9" width="22.16" height="37.5" fill="#154D3B"/>
<rect x="931.31" y="265.9" width="17.49" height="37.5" fill="#E8F7F1"/>
<rect x="708.3" y="303.1" width="144.6" height="37.5" fill="#154D3B"/>
<rect x="865.72" y="303.1" width="83.08" height="37.5" fill="#154D3B"/>
<rect x="708.3" y="340.3" width="9.05" height="37.5" fill="#154D3B"/>
<rect x="717.05" y="340.3" width="4.67" height="37.5" fill="#D3EEE4"/>
<rect x="721.42" y="340.3" width="57.15" height="37.5" fill="#154D3B"/>
<rect x="778.26" y="340.3" width="4.67" height="37.5" fill="#D3EEE4"/>
<rect x="782.64" y="340.3" width="70.26" height="37.5" fill="#154D3B"/>
<rect x="856.97" y="340.3" width="39.65" height="37.5" fill="#154D3B"/>
<rect x="896.33" y="340.3" width="4.67" height="37.5" fill="#C0E1D5"/>
<rect x="900.7" y="340.3" width="4.67" height="37.5" fill="#154D3B"/>
<rect x="905.07" y="340.3" width="4.67" height="37.5" fill="#C0E1D5"/>
<rect x="909.45" y="340.3" width="39.35" height="37.5" fill="#154D3B"/>
<rect x="708.3" y="377.5" width="240.5" height="37.5" fill="#154D3B"/>
<rect x="708.3" y="414.7" width="192.7" height="37.5" fill="#154D3B"/>
<rect x="900.7" y="414.7" width="4.67" height="37.5" fill="#CCEBE0"/>
<rect x="905.07" y="414.7" width="4.67" height="37.5" fill="#154D3B"/>
<rect x="909.45" y="414.7" width="4.67" height="37.5" fill="#CCEBE0"/>
<rect x="913.82" y="414.7" width="34.98" height="37.5" fill="#154D3B"/>
<rect x="708.3" y="451.9" width="13.42" height="37.5" fill="#154D3B"/>
<rect x="721.42" y="451.9" width="4.67" height="37.5" fill="#95BAAC"/>
<rect x="725.79" y="451.9" width="52.77" height="37.5" fill="#154D3B"/>
<rect x="778.26" y="451.9" width="13.42" height="37.5" fill="#91B7A8"/>
<rect x="791.38" y="451.9" width="61.52" height="37.5" fill="#154D3B"/>
<rect x="852.6" y="451.9" width="57.15" height="37.5" fill="#91B7A8"/>
<rect x="909.45" y="451.9" width="13.42" height="37.5" fill="#154D3B"/>
<rect x="922.56" y="451.9" width="4.67" height="37.5" fill="#91B7A8"/>
<rect x="926.94" y="451.9" width="21.86" height="37.5" fill="#154D3B"/>
<rect x="708.3" y="489.1" width="131.48" height="37.5" fill="#154D3B"/>
<rect x="839.48" y="489.1" width="4.67" height="37.5" fill="#5F8C7B"/>
<rect x="843.85" y="489.1" width="13.42" height="37.5" fill="#154D3B"/>
<rect x="856.97" y="489.1" width="4.67" height="37.5" fill="#5F8C7B"/>
<rect x="861.35" y="489.1" width="35.28" height="37.5" fill="#154D3B"/>
<rect x="896.33" y="489.1" width="9.05" height="37.5" fill="#8BB2A3"/>
<rect x="905.07" y="489.1" width="17.79" height="37.5" fill="#154D3B"/>
<rect x="922.56" y="489.1" width="4.67" height="37.5" fill="#E8F7F1"/>
<rect x="926.94" y="489.1" width="21.86" height="37.5" fill="#154D3B"/>
<rect x="708.3" y="526.3" width="4.67" height="37.5" fill="#316452"/>
<rect x="712.67" y="526.3" width="4.67" height="37.5" fill="#154D3B"/>
<rect x="717.05" y="526.3" width="4.67" height="37.5" fill="#44725F"/>
<rect x="721.42" y="526.3" width="17.79" height="37.5" fill="#154D3B"/>
<rect x="738.91" y="526.3" width="4.67" height="37.5" fill="#5F8C7B"/>
<rect x="743.28" y="526.3" width="109.62" height="37.5" fill="#154D3B"/>
<rect x="852.6" y="526.3" width="4.67" height="37.5" fill="#E8F7F1"/>
<rect x="856.97" y="526.3" width="39.65" height="37.5" fill="#154D3B"/>
<rect x="896.33" y="526.3" width="4.67" height="37.5" fill="#44725F"/>
<rect x="900.7" y="526.3" width="9.05" height="37.5" fill="#154D3B"/>
<rect x="909.45" y="526.3" width="13.42" height="37.5" fill="#5F8C7B"/>
<rect x="922.56" y="526.3" width="4.67" height="37.5" fill="#D3EEE4"/>
<rect x="926.94" y="526.3" width="21.86" height="37.5" fill="#154D3B"/>
<rect x="708.3" y="563.5" width="4.67" height="37.5" fill="#316452"/>
<rect x="712.67" y="563.5" width="4.67" height="37.5" fill="#154D3B"/>
<rect x="717.05" y="563.5" width="4.67" height="37.5" fill="#2A5E4C"/>
<rect x="721.42" y="563.5" width="39.65" height="37.5" fill="#154D3B"/>
<rect x="760.77" y="563.5" width="4.67" height="37.5" fill="#739D8C"/>
<rect x="765.15" y="563.5" width="13.42" height="37.5" fill="#396A57"/>
<rect x="778.26" y="563.5" width="48.4" height="37.5" fill="#154D3B"/>
<rect x="826.36" y="563.5" width="4.67" height="37.5" fill="#316452"/>
<rect x="830.74" y="563.5" width="9.05" height="37.5" fill="#154D3B"/>
<rect x="839.48" y="563.5" width="4.67" height="37.5" fill="#396A57"/>
<rect x="843.85" y="563.5" width="9.05" height="37.5" fill="#154D3B"/>
<rect x="852.6" y="563.5" width="4.67" height="37.5" fill="#5F8C7B"/>
<rect x="856.97" y="563.5" width="39.65" height="37.5" fill="#154D3B"/>
<rect x="896.33" y="563.5" width="4.67" height="37.5" fill="#316452"/>
<rect x="900.7" y="563.5" width="9.05" height="37.5" fill="#154D3B"/>
<rect x="909.45" y="563.5" width="4.67" height="37.5" fill="#44725F"/>
<rect x="913.82" y="563.5" width="9.05" height="37.5" fill="#154D3B"/>
<rect x="922.56" y="563.5" width="4.67" height="37.5" fill="#95BAAC"/>
<rect x="926.94" y="563.5" width="21.86" height="37.5" fill="#44725F"/>
<rect x="708.3" y="600.7" width="4.67" height="37.5" fill="#B3D7CA"/>
<rect x="712.67" y="600.7" width="9.05" height="37.5" fill="#80A898"/>
<rect x="721.42" y="600.7" width="4.67" height="37.5" fill="#5F8C7B"/>
<rect x="725.79" y="600.7" width="52.77" height="37.5" fill="#44725F"/>
<rect x="778.26" y="600.7" width="4.67" height="37.5" fill="#80A898"/>
<rect x="782.64" y="600.7" width="4.67" height="37.5" fill="#5F8C7B"/>
<rect x="787.01" y="600.7" width="39.65" height="37.5" fill="#80A898"/>
<rect x="826.36" y="600.7" width="13.42" height="37.5" fill="#154D3B"/>
<rect x="839.48" y="600.7" width="13.42" height="37.5" fill="#44725F"/>
<rect x="852.6" y="600.7" width="4.67" height="37.5" fill="#B3D7CA"/>
<rect x="856.97" y="600.7" width="39.65" height="37.5" fill="#154D3B"/>
<rect x="896.33" y="600.7" width="9.05" height="37.5" fill="#8BB2A3"/>
<rect x="905.07" y="600.7" width="9.05" height="37.5" fill="#44725F"/>
<rect x="913.82" y="600.7" width="9.05" height="37.5" fill="#154D3B"/>
<rect x="922.56" y="600.7" width="9.05" height="37.5" fill="#8BB2A3"/>
<rect x="931.31" y="600.7" width="17.49" height="37.5" fill="#154D3B"/>
<rect x="708.3" y="637.9" width="4.67" height="37.5" fill="#95BAAC"/>
<rect x="712.67" y="637.9" width="127.11" height="37.5" fill="#154D3B"/>
<rect x="839.48" y="637.9" width="4.67" height="37.5" fill="#316452"/>
<rect x="843.85" y="637.9" width="13.42" height="37.5" fill="#154D3B"/>
<rect x="856.97" y="637.9" width="4.67" height="37.5" fill="#739D8C"/>
<rect x="861.35" y="637.9" width="35.28" height="37.5" fill="#154D3B"/>
<rect x="896.33" y="637.9" width="4.67" height="37.5" fill="#5F8C7B"/>
<rect x="900.7" y="637.9" width="4.67" height="37.5" fill="#44725F"/>
<rect x="905.07" y="637.9" width="17.79" height="37.5" fill="#154D3B"/>
<rect x="922.56" y="637.9" width="4.67" height="37.5" fill="#EEF9F5"/>
<rect x="926.94" y="637.9" width="21.86" height="37.5" fill="#B3D7CA"/>
<rect x="708.3" y="675.1" width="131.48" height="37.2" fill="#154D3B"/>
<rect x="839.48" y="675.1" width="4.67" height="37.2" fill="#739D8C"/>
<rect x="843.85" y="675.1" width="13.42" height="37.2" fill="#154D3B"/>
<rect x="856.97" y="675.1" width="4.67" height="37.2" fill="#5F8C7B"/>
<rect x="861.35" y="675.1" width="35.28" height="37.2" fill="#154D3B"/>
<rect x="896.33" y="675.1" width="4.67" height="37.2" fill="#ABD0C2"/>
<rect x="900.7" y="675.1" width="4.67" height="37.2" fill="#739D8C"/>
<rect x="905.07" y="675.1" width="17.79" height="37.2" fill="#154D3B"/>
<rect x="922.56" y="675.1" width="4.67" height="37.2" fill="#EEF9F5"/>
<rect x="926.94" y="675.1" width="21.86" height="37.2" fill="#154D3B"/>
<rect x="962.3" y="42.7" width="4.67" height="37.5" fill="#316452"/>
<rect x="966.67" y="42.7" width="4.67" height="37.5" fill="#739D8C"/>
<rect x="971.04" y="42.7" width="30.91" height="37.5" fill="#154D3B"/>
<rect x="1001.65" y="42.7" width="4.67" height="37.5" fill="#44725F"/>
<rect x="1006.02" y="42.7" width="87.75" height="37.5" fill="#154D3B"/>
<rect x="1093.47" y="42.7" width="17.79" height="37.5" fill="#2A5E4C"/>
<rect x="1110.96" y="42.7" width="4.67" height="37.5" fill="#44725F"/>
<rect x="1115.33" y="42.7" width="9.04" height="37.5" fill="#154D3B"/>
<rect x="1124.07" y="42.7" width="35.28" height="37.5" fill="#44725F"/>
<rect x="1159.05" y="42.7" width="13.42" height="37.5" fill="#154D3B"/>
<rect x="1172.17" y="42.7" width="4.67" height="37.5" fill="#44725F"/>
<rect x="1176.54" y="42.7" width="9.04" height="37.5" fill="#154D3B"/>
<rect x="1185.29" y="42.7" width="48.39" height="37.5" fill="#44725F"/>
<rect x="1233.38" y="42.7" width="4.67" height="37.5" fill="#739D8C"/>
<rect x="1237.75" y="42.7" width="4.67" height="37.5" fill="#154D3B"/>
<rect x="1242.13" y="42.7" width="35.28" height="37.5" fill="#44725F"/>
<rect x="1277.1" y="42.7" width="13.42" height="37.5" fill="#154D3B"/>
<rect x="1290.22" y="42.7" width="39.65" height="37.5" fill="#44725F"/>
<rect x="1329.57" y="42.7" width="35.28" height="37.5" fill="#154D3B"/>
<rect x="1364.55" y="42.7" width="9.04" height="37.5" fill="#F9FDFB"/>
<rect x="1373.29" y="42.7" width="9.04" height="37.5" fill="#154D3B"/>
<rect x="1382.04" y="42.7" width="4.67" height="37.5" fill="#95BAAC"/>
<rect x="1386.41" y="42.7" width="4.67" height="37.5" fill="#80A898"/>
<rect x="1390.78" y="42.7" width="13.42" height="37.5" fill="#154D3B"/>
<rect x="1412.64" y="42.7" width="4.67" height="37.5" fill="#EEF9F5"/>
<rect x="1434.51" y="42.7" width="17.79" height="37.5" fill="#EEF9F5"/>
<rect x="1451.99" y="42.7" width="30.61" height="37.5" fill="#154D3B"/>
<rect x="962.3" y="79.9" width="39.65" height="37.5" fill="#91B7A8"/>
<rect x="1001.65" y="79.9" width="4.67" height="37.5" fill="#E8F7F1"/>
<rect x="1006.02" y="79.9" width="105.23" height="37.5" fill="#91B7A8"/>
<rect x="1110.96" y="79.9" width="13.42" height="37.5" fill="#DCF2EA"/>
<rect x="1124.07" y="79.9" width="61.51" height="37.5" fill="#91B7A8"/>
<rect x="1185.29" y="79.9" width="35.28" height="37.5" fill="#154D3B"/>
<rect x="1220.26" y="79.9" width="9.04" height="37.5" fill="#91B7A8"/>
<rect x="1229.01" y="79.9" width="4.67" height="37.5" fill="#154D3B"/>
<rect x="1233.38" y="79.9" width="4.67" height="37.5" fill="#91B7A8"/>
<rect x="1237.75" y="79.9" width="4.67" height="37.5" fill="#154D3B"/>
<rect x="1242.13" y="79.9" width="4.67" height="37.5" fill="#91B7A8"/>
<rect x="1246.5" y="79.9" width="39.65" height="37.5" fill="#154D3B"/>
<rect x="1285.85" y="79.9" width="4.67" height="37.5" fill="#91B7A8"/>
<rect x="1290.22" y="79.9" width="4.67" height="37.5" fill="#154D3B"/>
<rect x="1294.59" y="79.9" width="4.67" height="37.5" fill="#80A898"/>
<rect x="1298.96" y="79.9" width="9.04" height="37.5" fill="#154D3B"/>
<rect x="1307.71" y="79.9" width="22.16" height="37.5" fill="#91B7A8"/>
<rect x="1329.57" y="79.9" width="17.79" height="37.5" fill="#E1F4ED"/>
<rect x="1347.06" y="79.9" width="17.79" height="37.5" fill="#91B7A8"/>
<rect x="1364.55" y="79.9" width="39.65" height="37.5" fill="#E1F4ED"/>
<rect x="1412.64" y="79.9" width="39.65" height="37.5" fill="#E1F4ED"/>
<rect x="1451.99" y="79.9" width="13.42" height="37.5" fill="#91B7A8"/>
<rect x="1465.11" y="79.9" width="17.49" height="37.5" fill="#E1F4ED"/>
<rect x="962.3" y="117.1" width="39.65" height="37.5" fill="#91B7A8"/>
<rect x="1001.65" y="117.1" width="4.67" height="37.5" fill="#E8F7F1"/>
<rect x="1006.02" y="117.1" width="105.23" height="37.5" fill="#91B7A8"/>
<rect x="1115.33" y="117.1" width="9.04" height="37.5" fill="#DCF2EA"/>
<rect x="1124.07" y="117.1" width="22.16" height="37.5" fill="#91B7A8"/>
<rect x="1145.94" y="117.1" width="13.42" height="37.5" fill="#DCF2EA"/>
<rect x="1159.05" y="117.1" width="26.53" height="37.5" fill="#91B7A8"/>
<rect x="1185.29" y="117.1" width="35.28" height="37.5" fill="#154D3B"/>
<rect x="1220.26" y="117.1" width="9.04" height="37.5" fill="#91B7A8"/>
<rect x="1229.01" y="117.1" width="4.67" height="37.5" fill="#154D3B"/>
<rect x="1233.38" y="117.1" width="4.67" height="37.5" fill="#91B7A8"/>
<rect x="1237.75" y="117.1" width="4.67" height="37.5" fill="#154D3B"/>
<rect x="1242.13" y="117.1" width="4.67" height="37.5" fill="#91B7A8"/>
<rect x="1246.5" y="117.1" width="39.65" height="37.5" fill="#154D3B"/>
<rect x="1285.85" y="117.1" width="4.67" height="37.5" fill="#91B7A8"/>
<rect x="1290.22" y="117.1" width="17.79" height="37.5" fill="#154D3B"/>
<rect x="1307.71" y="117.1" width="57.14" height="37.5" fill="#91B7A8"/>
<rect x="1364.55" y="117.1" width="39.65" height="37.5" fill="#E1F4ED"/>
<rect x="1412.64" y="117.1" width="39.65" height="37.5" fill="#E1F4ED"/>
<rect x="1451.99" y="117.1" width="13.42" height="37.5" fill="#91B7A8"/>
<rect x="1465.11" y="117.1" width="17.49" height="37.5" fill="#E1F4ED"/>
<rect x="962.3" y="154.3" width="9.04" height="37.5" fill="#F1FAF7"/>
<rect x="971.04" y="154.3" width="148.96" height="37.5" fill="#154D3B"/>
<rect x="1119.7" y="154.3" width="4.67" height="37.5" fill="#E2F5EE"/>
<rect x="1124.07" y="154.3" width="48.39" height="37.5" fill="#154D3B"/>
<rect x="1172.17" y="154.3" width="4.67" height="37.5" fill="#A0C6B8"/>
<rect x="1176.54" y="154.3" width="4.67" height="37.5" fill="#154D3B"/>
<rect x="1180.91" y="154.3" width="4.67" height="37.5" fill="#5F8C7B"/>
<rect x="1185.29" y="154.3" width="70.26" height="37.5" fill="#154D3B"/>
<rect x="1255.24" y="154.3" width="4.67" height="37.5" fill="#80A898"/>
<rect x="1259.61" y="154.3" width="4.67" height="37.5" fill="#E2F5EE"/>
<rect x="1263.99" y="154.3" width="52.77" height="37.5" fill="#154D3B"/>
<rect x="1316.45" y="154.3" width="4.67" height="37.5" fill="#E2F5EE"/>
<rect x="1320.83" y="154.3" width="44.02" height="37.5" fill="#154D3B"/>
<rect x="1364.55" y="154.3" width="9.04" height="37.5" fill="#F9FDFB"/>
<rect x="1373.29" y="154.3" width="9.04" height="37.5" fill="#154D3B"/>
<rect x="1382.04" y="154.3" width="9.04" height="37.5" fill="#316452"/>
<rect x="1390.78" y="154.3" width="4.67" height="37.5" fill="#80A898"/>
<rect x="1395.15" y="154.3" width="13.42" height="37.5" fill="#F5FBF9"/>
<rect x="1451.99" y="154.3" width="9.04" height="37.5" fill="#154D3B"/>
<rect x="1460.74" y="154.3" width="4.67" height="37.5" fill="#A0C6B8"/>
<rect x="1465.11" y="154.3" width="4.67" height="37.5" fill="#B8DBCE"/>
<rect x="1469.48" y="154.3" width="13.12" height="37.5" fill="#154D3B"/>
<rect x="962.3" y="191.5" width="30.91" height="37.5" fill="#80A898"/>
<rect x="992.91" y="191.5" width="52.77" height="37.5" fill="#4D7B69"/>
<rect x="1045.37" y="191.5" width="4.67" height="37.5" fill="#95BAAC"/>
<rect x="1049.75" y="191.5" width="4.67" height="37.5" fill="#B8DBCE"/>
<rect x="1054.12" y="191.5" width="57.14" height="37.5" fill="#80A898"/>
<rect x="1110.96" y="191.5" width="4.67" height="37.5" fill="#5F8C7B"/>
<rect x="1115.33" y="191.5" width="13.42" height="37.5" fill="#154D3B"/>
<rect x="1128.45" y="191.5" width="4.67" height="37.5" fill="#316452"/>
<rect x="1132.82" y="191.5" width="100.86" height="37.5" fill="#154D3B"/>
<rect x="1233.38" y="191.5" width="4.67" height="37.5" fill="#8BB2A3"/>
<rect x="1237.75" y="191.5" width="9.04" height="37.5" fill="#4D7B69"/>
<rect x="1246.5" y="191.5" width="44.02" height="37.5" fill="#154D3B"/>
<rect x="1290.22" y="191.5" width="4.67" height="37.5" fill="#316452"/>
<rect x="1294.59" y="191.5" width="9.04" height="37.5" fill="#154D3B"/>
<rect x="1303.34" y="191.5" width="4.67" height="37.5" fill="#5F8C7B"/>
<rect x="1307.71" y="191.5" width="22.16" height="37.5" fill="#154D3B"/>
<rect x="1329.57" y="191.5" width="35.28" height="37.5" fill="#4D7B69"/>
<rect x="1364.55" y="191.5" width="13.42" height="37.5" fill="#8BB2A3"/>
<rect x="1377.67" y="191.5" width="4.67" height="37.5" fill="#ABD0C2"/>
<rect x="1382.04" y="191.5" width="9.04" height="37.5" fill="#95BAAC"/>
<rect x="1390.78" y="191.5" width="4.67" height="37.5" fill="#739D8C"/>
<rect x="1395.15" y="191.5" width="4.67" height="37.5" fill="#95BAAC"/>
<rect x="1399.53" y="191.5" width="4.67" height="37.5" fill="#154D3B"/>
<rect x="1403.9" y="191.5" width="4.67" height="37.5" fill="#739D8C"/>
<rect x="1408.27" y="191.5" width="9.04" height="37.5" fill="#8BB2A3"/>
<rect x="1417.02" y="191.5" width="17.79" height="37.5" fill="#154D3B"/>
<rect x="1434.51" y="191.5" width="4.67" height="37.5" fill="#44725F"/>
<rect x="1438.88" y="191.5" width="13.42" height="37.5" fill="#154D3B"/>
<rect x="1451.99" y="191.5" width="13.42" height="37.5" fill="#4D7B69"/>
<rect x="1465.11" y="191.5" width="4.67" height="37.5" fill="#80A898"/>
<rect x="1469.48" y="191.5" width="13.12" height="37.5" fill="#4D7B69"/>
<rect x="962.3" y="228.7" width="26.53" height="37.5" fill="#5F8C7B"/>
<rect x="988.53" y="228.7" width="4.67" height="37.5" fill="#B3D7CA"/>
<rect x="992.91" y="228.7" width="118.35" height="37.5" fill="#628F7E"/>
<rect x="1110.96" y="228.7" width="4.67" height="37.5" fill="#154D3B"/>
<rect x="1115.33" y="228.7" width="9.04" height="37.5" fill="#B3D7CA"/>
<rect x="1124.07" y="228.7" width="118.35" height="37.5" fill="#154D3B"/>
<rect x="1242.13" y="228.7" width="4.67" height="37.5" fill="#5F8C7B"/>
<rect x="1246.5" y="228.7" width="83.37" height="37.5" fill="#154D3B"/>
<rect x="1329.57" y="228.7" width="79" height="37.5" fill="#E2F5EE"/>
<rect x="1412.64" y="228.7" width="39.65" height="37.5" fill="#E2F5EE"/>
<rect x="1465.11" y="228.7" width="17.49" height="37.5" fill="#DCF2EA"/>
<rect x="962.3" y="265.9" width="162.07" height="37.5" fill="#7AA292"/>
<rect x="1124.07" y="265.9" width="35.28" height="37.5" fill="#154D3B"/>
<rect x="1159.05" y="265.9" width="4.67" height="37.5" fill="#80A898"/>
<rect x="1163.42" y="265.9" width="35.28" height="37.5" fill="#154D3B"/>
<rect x="1198.4" y="265.9" width="4.67" height="37.5" fill="#80A898"/>
<rect x="1202.77" y="265.9" width="26.53" height="37.5" fill="#154D3B"/>
<rect x="1229.01" y="265.9" width="4.67" height="37.5" fill="#DCF2EA"/>
<rect x="1233.38" y="265.9" width="9.04" height="37.5" fill="#154D3B"/>
<rect x="1242.13" y="265.9" width="4.67" height="37.5" fill="#80A898"/>
<rect x="1246.5" y="265.9" width="39.65" height="37.5" fill="#154D3B"/>
<rect x="1285.85" y="265.9" width="4.67" height="37.5" fill="#80A898"/>
<rect x="1290.22" y="265.9" width="39.65" height="37.5" fill="#154D3B"/>
<rect x="1329.57" y="265.9" width="9.04" height="37.5" fill="#E8F7F1"/>
<rect x="1347.06" y="265.9" width="39.65" height="37.5" fill="#E8F7F1"/>
<rect x="1386.41" y="265.9" width="4.67" height="37.5" fill="#DCF2EA"/>
<rect x="1390.78" y="265.9" width="17.79" height="37.5" fill="#E8F7F1"/>
<rect x="1412.64" y="265.9" width="39.65" height="37.5" fill="#E8F7F1"/>
<rect x="1465.11" y="265.9" width="4.67" height="37.5" fill="#E8F7F1"/>
<rect x="988.53" y="303.1" width="358.83" height="37.5" fill="#154D3B"/>
<rect x="1351.43" y="303.1" width="131.17" height="37.5" fill="#154D3B"/>
<rect x="962.3" y="340.3" width="148.96" height="37.5" fill="#154D3B"/>
<rect x="1110.96" y="340.3" width="4.67" height="37.5" fill="#E2F5EE"/>
<rect x="1115.33" y="340.3" width="92.12" height="37.5" fill="#154D3B"/>
<rect x="1207.15" y="340.3" width="13.42" height="37.5" fill="#D3EEE4"/>
<rect x="1220.26" y="340.3" width="4.67" height="37.5" fill="#154D3B"/>
<rect x="1224.64" y="340.3" width="4.67" height="37.5" fill="#D3EEE4"/>
<rect x="1237.75" y="340.3" width="127.1" height="37.5" fill="#154D3B"/>
<rect x="1368.92" y="340.3" width="35.28" height="37.5" fill="#154D3B"/>
<rect x="1408.27" y="340.3" width="74.33" height="37.5" fill="#154D3B"/>
<rect x="962.3" y="377.5" width="275.75" height="37.5" fill="#154D3B"/>
<rect x="1246.5" y="377.5" width="236.1" height="37.5" fill="#154D3B"/>
<rect x="962.3" y="414.7" width="9.04" height="37.5" fill="#154D3B"/>
<rect x="971.04" y="414.7" width="4.67" height="37.5" fill="#CCEBE0"/>
<rect x="975.42" y="414.7" width="13.42" height="37.5" fill="#154D3B"/>
<rect x="988.53" y="414.7" width="48.39" height="37.5" fill="#D0EDE2"/>
<rect x="1036.63" y="414.7" width="122.72" height="37.5" fill="#154D3B"/>
<rect x="1159.05" y="414.7" width="13.42" height="37.5" fill="#D3EEE4"/>
<rect x="1172.17" y="414.7" width="70.26" height="37.5" fill="#154D3B"/>
<rect x="1242.13" y="414.7" width="4.67" height="37.5" fill="#D3EEE4"/>
<rect x="1246.5" y="414.7" width="61.51" height="37.5" fill="#154D3B"/>
<rect x="1307.71" y="414.7" width="9.04" height="37.5" fill="#D3EEE4"/>
<rect x="1316.45" y="414.7" width="135.84" height="37.5" fill="#154D3B"/>
<rect x="1451.99" y="414.7" width="4.67" height="37.5" fill="#D3EEE4"/>
<rect x="1456.37" y="414.7" width="26.23" height="37.5" fill="#154D3B"/>
<rect x="962.3" y="451.9" width="83.37" height="37.5" fill="#91B7A8"/>
<rect x="1045.37" y="451.9" width="4.67" height="37.5" fill="#E8F7F1"/>
<rect x="1049.75" y="451.9" width="61.51" height="37.5" fill="#91B7A8"/>
<rect x="1110.96" y="451.9" width="4.67" height="37.5" fill="#154D3B"/>
<rect x="1115.33" y="451.9" width="9.04" height="37.5" fill="#95BAAC"/>
<rect x="1124.07" y="451.9" width="118.35" height="37.5" fill="#154D3B"/>
<rect x="1242.13" y="451.9" width="9.04" height="37.5" fill="#9ABFB1"/>
<rect x="1250.87" y="451.9" width="26.53" height="37.5" fill="#154D3B"/>
<rect x="1277.1" y="451.9" width="4.67" height="37.5" fill="#E8F7F1"/>
<rect x="1281.48" y="451.9" width="30.91" height="37.5" fill="#154D3B"/>
<rect x="1312.08" y="451.9" width="4.67" height="37.5" fill="#95BAAC"/>
<rect x="1316.45" y="451.9" width="4.67" height="37.5" fill="#154D3B"/>
<rect x="1320.83" y="451.9" width="4.67" height="37.5" fill="#95BAAC"/>
<rect x="1325.2" y="451.9" width="17.79" height="37.5" fill="#154D3B"/>
<rect x="1342.69" y="451.9" width="48.39" height="37.5" fill="#91B7A8"/>
<rect x="1390.78" y="451.9" width="4.67" height="37.5" fill="#E8F7F1"/>
<rect x="1395.15" y="451.9" width="57.14" height="37.5" fill="#91B7A8"/>
<rect x="1451.99" y="451.9" width="13.42" height="37.5" fill="#154D3B"/>
<rect x="1465.11" y="451.9" width="17.49" height="37.5" fill="#91B7A8"/>
<rect x="962.3" y="489.1" width="4.67" height="37.5" fill="#154D3B"/>
<rect x="966.67" y="489.1" width="4.67" height="37.5" fill="#44725F"/>
<rect x="971.04" y="489.1" width="179.56" height="37.5" fill="#154D3B"/>
<rect x="1150.31" y="489.1" width="4.67" height="37.5" fill="#5F8C7B"/>
<rect x="1154.68" y="489.1" width="13.42" height="37.5" fill="#154D3B"/>
<rect x="1167.8" y="489.1" width="17.79" height="37.5" fill="#739D8C"/>
<rect x="1185.29" y="489.1" width="74.63" height="37.5" fill="#154D3B"/>
<rect x="1259.61" y="489.1" width="4.67" height="37.5" fill="#316452"/>
<rect x="1263.99" y="489.1" width="83.37" height="37.5" fill="#154D3B"/>
<rect x="1347.06" y="489.1" width="4.67" height="37.5" fill="#739D8C"/>
<rect x="1351.43" y="489.1" width="52.77" height="37.5" fill="#154D3B"/>
<rect x="1403.9" y="489.1" width="78.7" height="37.5" fill="#ECF8F3"/>
<rect x="962.3" y="526.3" width="92.12" height="37.5" fill="#154D3B"/>
<rect x="1054.12" y="526.3" width="4.67" height="37.5" fill="#5F8C7B"/>
<rect x="1058.49" y="526.3" width="96.49" height="37.5" fill="#154D3B"/>
<rect x="1154.68" y="526.3" width="9.04" height="37.5" fill="#5F8C7B"/>
<rect x="1163.42" y="526.3" width="4.67" height="37.5" fill="#154D3B"/>
<rect x="1167.8" y="526.3" width="4.67" height="37.5" fill="#B3D7CA"/>
<rect x="1172.17" y="526.3" width="13.42" height="37.5" fill="#5F8C7B"/>
<rect x="1185.29" y="526.3" width="13.42" height="37.5" fill="#154D3B"/>
<rect x="1198.4" y="526.3" width="13.42" height="37.5" fill="#5F8C7B"/>
<rect x="1211.52" y="526.3" width="100.86" height="37.5" fill="#154D3B"/>
<rect x="1312.08" y="526.3" width="4.67" height="37.5" fill="#5F8C7B"/>
<rect x="1316.45" y="526.3" width="22.16" height="37.5" fill="#154D3B"/>
<rect x="1338.32" y="526.3" width="9.04" height="37.5" fill="#B8DBCE"/>
<rect x="1347.06" y="526.3" width="17.79" height="37.5" fill="#DCF2EA"/>
<rect x="1364.55" y="526.3" width="30.91" height="37.5" fill="#ECF8F3"/>
<rect x="1395.15" y="526.3" width="13.42" height="37.5" fill="#E2F5EE"/>
<rect x="1408.27" y="526.3" width="44.02" height="37.5" fill="#DCF2EA"/>
<rect x="1451.99" y="526.3" width="4.67" height="37.5" fill="#C0E1D5"/>
<rect x="1456.37" y="526.3" width="9.04" height="37.5" fill="#154D3B"/>
<rect x="1465.11" y="526.3" width="17.49" height="37.5" fill="#EEF9F5"/>
<rect x="962.3" y="563.5" width="61.51" height="37.5" fill="#154D3B"/>
<rect x="1023.51" y="563.5" width="4.67" height="37.5" fill="#44725F"/>
<rect x="1027.88" y="563.5" width="22.16" height="37.5" fill="#154D3B"/>
<rect x="1049.75" y="563.5" width="4.67" height="37.5" fill="#44725F"/>
<rect x="1054.12" y="563.5" width="57.14" height="37.5" fill="#154D3B"/>
<rect x="1110.96" y="563.5" width="4.67" height="37.5" fill="#95BAAC"/>
<rect x="1115.33" y="563.5" width="9.04" height="37.5" fill="#5F8C7B"/>
<rect x="1124.07" y="563.5" width="44.02" height="37.5" fill="#154D3B"/>
<rect x="1167.8" y="563.5" width="4.67" height="37.5" fill="#316452"/>
<rect x="1172.17" y="563.5" width="22.16" height="37.5" fill="#154D3B"/>
<rect x="1194.03" y="563.5" width="9.04" height="37.5" fill="#316452"/>
<rect x="1202.77" y="563.5" width="4.67" height="37.5" fill="#154D3B"/>
<rect x="1207.15" y="563.5" width="9.04" height="37.5" fill="#396A57"/>
<rect x="1215.89" y="563.5" width="9.04" height="37.5" fill="#154D3B"/>
<rect x="1224.64" y="563.5" width="4.67" height="37.5" fill="#44725F"/>
<rect x="1229.01" y="563.5" width="100.86" height="37.5" fill="#154D3B"/>
<rect x="1329.57" y="563.5" width="13.42" height="37.5" fill="#44725F"/>
<rect x="1342.69" y="563.5" width="4.67" height="37.5" fill="#95BAAC"/>
<rect x="1347.06" y="563.5" width="17.79" height="37.5" fill="#154D3B"/>
<rect x="1364.55" y="563.5" width="22.16" height="37.5" fill="#6C9786"/>
<rect x="1386.41" y="563.5" width="4.67" height="37.5" fill="#B3D7CA"/>
<rect x="1390.78" y="563.5" width="9.04" height="37.5" fill="#6C9786"/>
<rect x="1399.53" y="563.5" width="4.67" height="37.5" fill="#95BAAC"/>
<rect x="1403.9" y="563.5" width="4.67" height="37.5" fill="#44725F"/>
<rect x="1408.27" y="563.5" width="4.67" height="37.5" fill="#B3D7CA"/>
<rect x="1412.64" y="563.5" width="44.02" height="37.5" fill="#6C9786"/>
<rect x="1456.37" y="563.5" width="9.04" height="37.5" fill="#154D3B"/>
<rect x="1465.11" y="563.5" width="17.49" height="37.5" fill="#91B7A8"/>
<rect x="962.3" y="600.7" width="9.04" height="37.5" fill="#154D3B"/>
<rect x="971.04" y="600.7" width="4.67" height="37.5" fill="#B3D7CA"/>
<rect x="975.42" y="600.7" width="13.42" height="37.5" fill="#154D3B"/>
<rect x="988.53" y="600.7" width="57.14" height="37.5" fill="#80A898"/>
<rect x="1045.37" y="600.7" width="65.88" height="37.5" fill="#154D3B"/>
<rect x="1110.96" y="600.7" width="4.67" height="37.5" fill="#5F8C7B"/>
<rect x="1115.33" y="600.7" width="9.04" height="37.5" fill="#154D3B"/>
<rect x="1124.07" y="600.7" width="30.91" height="37.5" fill="#80A898"/>
<rect x="1154.68" y="600.7" width="4.67" height="37.5" fill="#95BAAC"/>
<rect x="1159.05" y="600.7" width="4.67" height="37.5" fill="#154D3B"/>
<rect x="1163.42" y="600.7" width="9.04" height="37.5" fill="#44725F"/>
<rect x="1172.17" y="600.7" width="4.67" height="37.5" fill="#95BAAC"/>
<rect x="1176.54" y="600.7" width="9.04" height="37.5" fill="#154D3B"/>
<rect x="1185.29" y="600.7" width="22.16" height="37.5" fill="#44725F"/>
<rect x="1207.15" y="600.7" width="4.67" height="37.5" fill="#95BAAC"/>
<rect x="1211.52" y="600.7" width="22.16" height="37.5" fill="#44725F"/>
<rect x="1233.38" y="600.7" width="4.67" height="37.5" fill="#8BB2A3"/>
<rect x="1237.75" y="600.7" width="4.67" height="37.5" fill="#44725F"/>
<rect x="1242.13" y="600.7" width="4.67" height="37.5" fill="#8BB2A3"/>
<rect x="1246.5" y="600.7" width="13.42" height="37.5" fill="#44725F"/>
<rect x="1259.61" y="600.7" width="4.67" height="37.5" fill="#8BB2A3"/>
<rect x="1263.99" y="600.7" width="13.42" height="37.5" fill="#44725F"/>
<rect x="1277.1" y="600.7" width="9.04" height="37.5" fill="#154D3B"/>
<rect x="1285.85" y="600.7" width="35.28" height="37.5" fill="#44725F"/>
<rect x="1320.83" y="600.7" width="9.04" height="37.5" fill="#80A898"/>
<rect x="1329.57" y="600.7" width="17.79" height="37.5" fill="#154D3B"/>
<rect x="1347.06" y="600.7" width="17.79" height="37.5" fill="#80A898"/>
<rect x="1364.55" y="600.7" width="26.53" height="37.5" fill="#B3D7CA"/>
<rect x="1390.78" y="600.7" width="4.67" height="37.5" fill="#44725F"/>
<rect x="1395.15" y="600.7" width="4.67" height="37.5" fill="#B3D7CA"/>
<rect x="1399.53" y="600.7" width="4.67" height="37.5" fill="#44725F"/>
<rect x="1403.9" y="600.7" width="9.04" height="37.5" fill="#95BAAC"/>
<rect x="1412.64" y="600.7" width="39.65" height="37.5" fill="#80A898"/>
<rect x="1451.99" y="600.7" width="4.67" height="37.5" fill="#5F8C7B"/>
<rect x="1456.37" y="600.7" width="9.04" height="37.5" fill="#154D3B"/>
<rect x="1465.11" y="600.7" width="17.49" height="37.5" fill="#B3D7CA"/>
<rect x="962.3" y="637.9" width="4.67" height="37.5" fill="#154D3B"/>
<rect x="966.67" y="637.9" width="4.67" height="37.5" fill="#5F8C7B"/>
<rect x="971.04" y="637.9" width="83.37" height="37.5" fill="#154D3B"/>
<rect x="1054.12" y="637.9" width="4.67" height="37.5" fill="#5F8C7B"/>
<rect x="1058.49" y="637.9" width="57.14" height="37.5" fill="#154D3B"/>
<rect x="1115.33" y="637.9" width="4.67" height="37.5" fill="#B3D7CA"/>
<rect x="1119.7" y="637.9" width="30.91" height="37.5" fill="#154D3B"/>
<rect x="1150.31" y="637.9" width="4.67" height="37.5" fill="#44725F"/>
<rect x="1154.68" y="637.9" width="13.42" height="37.5" fill="#154D3B"/>
<rect x="1167.8" y="637.9" width="9.04" height="37.5" fill="#5F8C7B"/>
<rect x="1176.54" y="637.9" width="9.04" height="37.5" fill="#44725F"/>
<rect x="1185.29" y="637.9" width="48.39" height="37.5" fill="#154D3B"/>
<rect x="1233.38" y="637.9" width="4.67" height="37.5" fill="#44725F"/>
<rect x="1237.75" y="637.9" width="22.16" height="37.5" fill="#154D3B"/>
<rect x="1259.61" y="637.9" width="4.67" height="37.5" fill="#316452"/>
<rect x="1263.99" y="637.9" width="65.88" height="37.5" fill="#154D3B"/>
<rect x="1329.57" y="637.9" width="17.79" height="37.5" fill="#B3D7CA"/>
<rect x="1347.06" y="637.9" width="4.67" height="37.5" fill="#5F8C7B"/>
<rect x="1351.43" y="637.9" width="13.42" height="37.5" fill="#154D3B"/>
<rect x="1364.55" y="637.9" width="39.65" height="37.5" fill="#B3D7CA"/>
<rect x="1403.9" y="637.9" width="78.7" height="37.5" fill="#F2FAF7"/>
<rect x="962.3" y="675.1" width="4.67" height="37.2" fill="#154D3B"/>
<rect x="966.67" y="675.1" width="4.67" height="37.2" fill="#80A898"/>
<rect x="971.04" y="675.1" width="179.56" height="37.2" fill="#154D3B"/>
<rect x="1150.31" y="675.1" width="4.67" height="37.2" fill="#80A898"/>
<rect x="1154.68" y="675.1" width="13.42" height="37.2" fill="#154D3B"/>
<rect x="1167.8" y="675.1" width="17.79" height="37.2" fill="#8BB2A3"/>
<rect x="1185.29" y="675.1" width="74.63" height="37.2" fill="#154D3B"/>
<rect x="1259.61" y="675.1" width="4.67" height="37.2" fill="#316452"/>
<rect x="1263.99" y="675.1" width="83.37" height="37.2" fill="#154D3B"/>
<rect x="1347.06" y="675.1" width="4.67" height="37.2" fill="#80A898"/>
<rect x="1351.43" y="675.1" width="52.77" height="37.2" fill="#154D3B"/>
<rect x="1403.9" y="675.1" width="78.7" height="37.2" fill="#E8F7F1"/>
<rect x="100" y="813.25" width="31.13" height="36.91" fill="#FFFCF9"/>
<rect x="130.83" y="813.25" width="57.56" height="36.91" fill="#FDEBD8"/>
<rect x="188.09" y="813.25" width="17.92" height="36.91" fill="#FCE3C8"/>
<rect x="205.71" y="813.25" width="4.7" height="36.91" fill="#B5783C"/>
<rect x="210.11" y="813.25" width="4.7" height="36.91" fill="#FDEBD8"/>
<rect x="214.51" y="813.25" width="4.7" height="36.91" fill="#F8DCC0"/>
<rect x="218.92" y="813.25" width="9.11" height="36.91" fill="#FDE7D0"/>
<rect x="227.73" y="813.25" width="4.7" height="36.91" fill="#FFFAF5"/>
<rect x="232.13" y="813.25" width="31.13" height="36.91" fill="#FEEEDF"/>
<rect x="262.96" y="813.25" width="4.7" height="36.91" fill="#FEF5EC"/>
<rect x="267.37" y="813.25" width="75.17" height="36.91" fill="#FEF2E6"/>
<rect x="342.24" y="813.25" width="26.73" height="36.91" fill="#FFFAF5"/>
<rect x="368.67" y="813.25" width="9.11" height="36.91" fill="#FEF5EC"/>
<rect x="377.48" y="813.25" width="22.02" height="36.91" fill="#FEEEDF"/>
<rect x="100" y="849.86" width="31.13" height="36.91" fill="#FFFDFB"/>
<rect x="130.83" y="849.86" width="75.17" height="36.91" fill="#FDECDB"/>
<rect x="205.71" y="849.86" width="4.7" height="36.91" fill="#C08448"/>
<rect x="210.11" y="849.86" width="9.11" height="36.91" fill="#FDEBD8"/>
<rect x="218.92" y="849.86" width="13.51" height="36.91" fill="#FEF2E6"/>
<rect x="232.13" y="849.86" width="4.7" height="36.91" fill="#FEEEDF"/>
<rect x="236.54" y="849.86" width="35.54" height="36.91" fill="#FEF5EC"/>
<rect x="271.77" y="849.86" width="70.77" height="36.91" fill="#FFFAF5"/>
<rect x="342.24" y="849.86" width="35.54" height="36.91" fill="#FFFCF9"/>
<rect x="377.48" y="849.86" width="22.02" height="36.91" fill="#FEF2E6"/>
<rect x="100" y="886.47" width="4.7" height="36.91" fill="#C68C55"/>
<rect x="104.4" y="886.47" width="26.73" height="36.91" fill="#C08448"/>
<rect x="130.83" y="886.47" width="75.17" height="36.91" fill="#9C5A0C"/>
<rect x="205.71" y="886.47" width="4.7" height="36.91" fill="#B87C40"/>
<rect x="210.11" y="886.47" width="4.7" height="36.91" fill="#C08448"/>
<rect x="214.51" y="886.47" width="17.92" height="36.91" fill="#9C5A0C"/>
<rect x="232.13" y="886.47" width="4.7" height="36.91" fill="#C68C55"/>
<rect x="236.54" y="886.47" width="70.77" height="36.91" fill="#9C5A0C"/>
<rect x="307.01" y="886.47" width="4.7" height="36.91" fill="#C08448"/>
<rect x="311.41" y="886.47" width="22.32" height="36.91" fill="#9C5A0C"/>
<rect x="333.43" y="886.47" width="4.7" height="36.91" fill="#CC9560"/>
<rect x="337.84" y="886.47" width="4.7" height="36.91" fill="#D9A87C"/>
<rect x="342.24" y="886.47" width="26.73" height="36.91" fill="#9C5A0C"/>
<rect x="368.67" y="886.47" width="4.7" height="36.91" fill="#FDE7D0"/>
<rect x="373.07" y="886.47" width="4.7" height="36.91" fill="#9C5A0C"/>
<rect x="377.48" y="886.47" width="22.02" height="36.91" fill="#D9A87C"/>
<rect x="100" y="923.08" width="4.7" height="36.91" fill="#FEF5EC"/>
<rect x="104.4" y="923.08" width="26.73" height="36.91" fill="#FDEBD8"/>
<rect x="130.83" y="923.08" width="57.56" height="36.91" fill="#CC9560"/>
<rect x="188.09" y="923.08" width="17.92" height="36.91" fill="#B87C40"/>
<rect x="205.71" y="923.08" width="4.7" height="36.91" fill="#9C5A0C"/>
<rect x="210.11" y="923.08" width="4.7" height="36.91" fill="#B87C40"/>
<rect x="214.51" y="923.08" width="13.51" height="36.91" fill="#F3D5B8"/>
<rect x="227.73" y="923.08" width="4.7" height="36.91" fill="#D9A87C"/>
<rect x="232.13" y="923.08" width="4.7" height="36.91" fill="#CC9560"/>
<rect x="236.54" y="923.08" width="4.7" height="36.91" fill="#F3D5B8"/>
<rect x="240.94" y="923.08" width="22.32" height="36.91" fill="#CC9560"/>
<rect x="262.96" y="923.08" width="4.7" height="36.91" fill="#FDE7D0"/>
<rect x="267.37" y="923.08" width="4.7" height="36.91" fill="#D9A87C"/>
<rect x="271.77" y="923.08" width="61.96" height="36.91" fill="#F3D5B8"/>
<rect x="333.43" y="923.08" width="4.7" height="36.91" fill="#CC9560"/>
<rect x="337.84" y="923.08" width="35.54" height="36.91" fill="#FDE7D0"/>
<rect x="373.07" y="923.08" width="4.7" height="36.91" fill="#F3D5B8"/>
<rect x="377.48" y="923.08" width="22.02" height="36.91" fill="#FDE7D0"/>
<rect x="100" y="959.69" width="13.51" height="36.91" fill="#DEB087"/>
<rect x="113.21" y="959.69" width="4.7" height="36.91" fill="#FDE7D0"/>
<rect x="117.62" y="959.69" width="13.51" height="36.91" fill="#DEB087"/>
<rect x="130.83" y="959.69" width="61.96" height="36.91" fill="#9C5A0C"/>
<rect x="192.49" y="959.69" width="4.7" height="36.91" fill="#B5783C"/>
<rect x="196.9" y="959.69" width="31.13" height="36.91" fill="#9C5A0C"/>
<rect x="227.73" y="959.69" width="13.51" height="36.91" fill="#FDE7D0"/>
<rect x="240.94" y="959.69" width="31.13" height="36.91" fill="#E3B892"/>
<rect x="271.77" y="959.69" width="70.77" height="36.91" fill="#FDE7D0"/>
<rect x="342.24" y="959.69" width="35.54" height="36.91" fill="#FDEBD8"/>
<rect x="377.48" y="959.69" width="22.02" height="36.91" fill="#DEB087"/>
<rect x="100" y="996.3" width="88.39" height="36.91" fill="#C88F59"/>
<rect x="188.09" y="996.3" width="17.92" height="36.91" fill="#9C5A0C"/>
<rect x="205.71" y="996.3" width="4.7" height="36.91" fill="#C88F59"/>
<rect x="210.11" y="996.3" width="17.92" height="36.91" fill="#9C5A0C"/>
<rect x="227.73" y="996.3" width="13.51" height="36.91" fill="#C88F59"/>
<rect x="240.94" y="996.3" width="22.32" height="36.91" fill="#9C5A0C"/>
<rect x="262.96" y="996.3" width="4.7" height="36.91" fill="#C08448"/>
<rect x="267.37" y="996.3" width="4.7" height="36.91" fill="#9C5A0C"/>
<rect x="271.77" y="996.3" width="22.32" height="36.91" fill="#C88F59"/>
<rect x="293.79" y="996.3" width="9.11" height="36.91" fill="#F3D5B8"/>
<rect x="302.6" y="996.3" width="9.11" height="36.91" fill="#C88F59"/>
<rect x="311.41" y="996.3" width="4.7" height="36.91" fill="#DEB087"/>
<rect x="315.82" y="996.3" width="57.56" height="36.91" fill="#C88F59"/>
<rect x="373.07" y="996.3" width="4.7" height="36.91" fill="#FDE7D0"/>
<rect x="377.48" y="996.3" width="22.02" height="36.91" fill="#C08448"/>
<rect x="100" y="1032.91" width="13.51" height="36.91" fill="#9C5A0C"/>
<rect x="113.21" y="1032.91" width="4.7" height="36.91" fill="#B17335"/>
<rect x="117.62" y="1032.91" width="110.41" height="36.91" fill="#9C5A0C"/>
<rect x="227.73" y="1032.91" width="4.7" height="36.91" fill="#FDE7D0"/>
<rect x="232.13" y="1032.91" width="31.13" height="36.91" fill="#9C5A0C"/>
<rect x="262.96" y="1032.91" width="4.7" height="36.91" fill="#FDE7D0"/>
<rect x="267.37" y="1032.91" width="44.34" height="36.91" fill="#9C5A0C"/>
<rect x="311.41" y="1032.91" width="4.7" height="36.91" fill="#B5783C"/>
<rect x="315.82" y="1032.91" width="17.92" height="36.91" fill="#9C5A0C"/>
<rect x="333.43" y="1032.91" width="4.7" height="36.91" fill="#C68C55"/>
<rect x="337.84" y="1032.91" width="31.13" height="36.91" fill="#9C5A0C"/>
<rect x="368.67" y="1032.91" width="9.11" height="36.91" fill="#B87C40"/>
<rect x="377.48" y="1032.91" width="22.02" height="36.91" fill="#FDE9D3"/>
<rect x="100" y="1069.52" width="4.7" height="36.91" fill="#CC9560"/>
<rect x="104.4" y="1069.52" width="4.7" height="36.91" fill="#F8DCC0"/>
<rect x="108.81" y="1069.52" width="4.7" height="36.91" fill="#CC9560"/>
<rect x="113.21" y="1069.52" width="4.7" height="36.91" fill="#E3B892"/>
<rect x="117.62" y="1069.52" width="70.77" height="36.91" fill="#C08448"/>
<rect x="188.09" y="1069.52" width="17.92" height="36.91" fill="#9C5A0C"/>
<rect x="205.71" y="1069.52" width="4.7" height="36.91" fill="#C08448"/>
<rect x="210.11" y="1069.52" width="17.92" height="36.91" fill="#9C5A0C"/>
<rect x="227.73" y="1069.52" width="110.41" height="36.91" fill="#C08448"/>
<rect x="337.84" y="1069.52" width="31.13" height="36.91" fill="#9C5A0C"/>
<rect x="368.67" y="1069.52" width="9.11" height="36.91" fill="#DEB087"/>
<rect x="377.48" y="1069.52" width="22.02" height="36.91" fill="#C08448"/>
<rect x="100" y="1106.13" width="88.39" height="36.61" fill="#FEF7F0"/>
<rect x="188.09" y="1106.13" width="17.92" height="36.61" fill="#C08448"/>
<rect x="205.71" y="1106.13" width="4.7" height="36.61" fill="#BB7F43"/>
<rect x="210.11" y="1106.13" width="17.92" height="36.61" fill="#BD8145"/>
<rect x="227.73" y="1106.13" width="4.7" height="36.61" fill="#D9A87C"/>
<rect x="232.13" y="1106.13" width="9.11" height="36.61" fill="#FDEBD8"/>
<rect x="240.94" y="1106.13" width="22.32" height="36.61" fill="#FEF5EC"/>
<rect x="262.96" y="1106.13" width="4.7" height="36.61" fill="#E3B892"/>
<rect x="267.37" y="1106.13" width="4.7" height="36.61" fill="#CC9560"/>
<rect x="271.77" y="1106.13" width="4.7" height="36.61" fill="#E6BF9A"/>
<rect x="276.18" y="1106.13" width="26.73" height="36.61" fill="#FDEBD8"/>
<rect x="302.6" y="1106.13" width="66.37" height="36.61" fill="#FEF5EC"/>
<rect x="368.67" y="1106.13" width="9.11" height="36.61" fill="#FFFCF9"/>
<rect x="413" y="813.25" width="9.1" height="36.91" fill="#EEF9F5"/>
<rect x="421.8" y="813.25" width="44.3" height="36.91" fill="#F7FCFA"/>
<rect x="465.8" y="813.25" width="22.3" height="36.91" fill="#F1FAF7"/>
<rect x="487.8" y="813.25" width="22.3" height="36.91" fill="#ECF8F3"/>
<rect x="509.8" y="813.25" width="17.9" height="36.91" fill="#F4FBF8"/>
<rect x="527.4" y="813.25" width="9.1" height="36.91" fill="#ECF8F3"/>
<rect x="536.2" y="813.25" width="48.7" height="36.91" fill="#F1FAF7"/>
<rect x="584.6" y="813.25" width="22.3" height="36.91" fill="#D3EEE4"/>
<rect x="606.6" y="813.25" width="4.7" height="36.91" fill="#CCEBE0"/>
<rect x="611" y="813.25" width="9.1" height="36.91" fill="#EEF9F5"/>
<rect x="619.8" y="813.25" width="35.5" height="36.91" fill="#DCF2EA"/>
<rect x="655" y="813.25" width="9.1" height="36.91" fill="#EEF9F5"/>
<rect x="663.8" y="813.25" width="4.7" height="36.91" fill="#DCF2EA"/>
<rect x="668.2" y="813.25" width="4.7" height="36.91" fill="#EEF9F5"/>
<rect x="672.6" y="813.25" width="4.7" height="36.91" fill="#DCF2EA"/>
<rect x="677" y="813.25" width="4.7" height="36.91" fill="#EEF9F5"/>
<rect x="681.4" y="813.25" width="8.8" height="36.91" fill="#E2F5EE"/>
<rect x="413" y="849.86" width="53.1" height="36.91" fill="#F7FCFA"/>
<rect x="465.8" y="849.86" width="35.5" height="36.91" fill="#F4FBF8"/>
<rect x="501" y="849.86" width="26.7" height="36.91" fill="#F7FCFA"/>
<rect x="527.4" y="849.86" width="9.1" height="36.91" fill="#EEF9F5"/>
<rect x="536.2" y="849.86" width="48.7" height="36.91" fill="#F1FAF7"/>
<rect x="584.6" y="849.86" width="26.7" height="36.91" fill="#D8F0E8"/>
<rect x="611" y="849.86" width="9.1" height="36.91" fill="#EEF9F5"/>
<rect x="619.8" y="849.86" width="35.5" height="36.91" fill="#E0F4EC"/>
<rect x="655" y="849.86" width="9.1" height="36.91" fill="#F5FBF9"/>
<rect x="663.8" y="849.86" width="4.7" height="36.91" fill="#E2F5EE"/>
<rect x="668.2" y="849.86" width="4.7" height="36.91" fill="#F5FBF9"/>
<rect x="672.6" y="849.86" width="4.7" height="36.91" fill="#E2F5EE"/>
<rect x="677" y="849.86" width="13.2" height="36.91" fill="#ECF8F3"/>
<rect x="413" y="886.47" width="4.7" height="36.91" fill="#154D3B"/>
<rect x="417.4" y="886.47" width="4.7" height="36.91" fill="#316452"/>
<rect x="421.8" y="886.47" width="13.5" height="36.91" fill="#44725F"/>
<rect x="435" y="886.47" width="35.5" height="36.91" fill="#154D3B"/>
<rect x="470.2" y="886.47" width="17.9" height="36.91" fill="#44725F"/>
<rect x="487.8" y="886.47" width="44.3" height="36.91" fill="#154D3B"/>
<rect x="531.8" y="886.47" width="4.7" height="36.91" fill="#44725F"/>
<rect x="536.2" y="886.47" width="48.7" height="36.91" fill="#154D3B"/>
<rect x="584.6" y="886.47" width="4.7" height="36.91" fill="#44725F"/>
<rect x="589" y="886.47" width="70.7" height="36.91" fill="#154D3B"/>
<rect x="659.4" y="886.47" width="4.7" height="36.91" fill="#3C6C5A"/>
<rect x="663.8" y="886.47" width="9.1" height="36.91" fill="#154D3B"/>
<rect x="672.6" y="886.47" width="4.7" height="36.91" fill="#5F8C7B"/>
<rect x="677" y="886.47" width="4.7" height="36.91" fill="#A0C6B8"/>
<rect x="681.4" y="886.47" width="4.7" height="36.91" fill="#739D8C"/>
<rect x="685.8" y="886.47" width="4.4" height="36.91" fill="#95BAAC"/>
<rect x="413" y="923.08" width="4.7" height="36.91" fill="#6C9786"/>
<rect x="417.4" y="923.08" width="4.7" height="36.91" fill="#C0E1D5"/>
<rect x="421.8" y="923.08" width="57.5" height="36.91" fill="#D7F0E6"/>
<rect x="479" y="923.08" width="9.1" height="36.91" fill="#E8F7F1"/>
<rect x="487.8" y="923.08" width="4.7" height="36.91" fill="#B8DBCE"/>
<rect x="492.2" y="923.08" width="4.7" height="36.91" fill="#A0C6B8"/>
<rect x="496.6" y="923.08" width="4.7" height="36.91" fill="#B8DBCE"/>
<rect x="501" y="923.08" width="9.1" height="36.91" fill="#699484"/>
<rect x="509.8" y="923.08" width="75.1" height="36.91" fill="#BBDDD1"/>
<rect x="584.6" y="923.08" width="22.3" height="36.91" fill="#44725F"/>
<rect x="606.6" y="923.08" width="4.7" height="36.91" fill="#C0E1D5"/>
<rect x="611" y="923.08" width="4.7" height="36.91" fill="#316452"/>
<rect x="615.4" y="923.08" width="4.7" height="36.91" fill="#44725F"/>
<rect x="619.8" y="923.08" width="48.7" height="36.91" fill="#699484"/>
<rect x="668.2" y="923.08" width="4.7" height="36.91" fill="#44725F"/>
<rect x="672.6" y="923.08" width="4.7" height="36.91" fill="#BBDDD1"/>
<rect x="677" y="923.08" width="13.2" height="36.91" fill="#D7F0E6"/>
<rect x="413" y="959.69" width="9.1" height="36.91" fill="#D3EEE4"/>
<rect x="421.8" y="959.69" width="13.5" height="36.91" fill="#95BAAC"/>
<rect x="435" y="959.69" width="31.1" height="36.91" fill="#D3EEE4"/>
<rect x="465.8" y="959.69" width="22.3" height="36.91" fill="#95BAAC"/>
<rect x="487.8" y="959.69" width="4.7" height="36.91" fill="#D3EEE4"/>
<rect x="492.2" y="959.69" width="4.7" height="36.91" fill="#8BB2A3"/>
<rect x="496.6" y="959.69" width="4.7" height="36.91" fill="#DCF2EA"/>
<rect x="501" y="959.69" width="9.1" height="36.91" fill="#9ABFB1"/>
<rect x="509.8" y="959.69" width="75.1" height="36.91" fill="#D3EEE4"/>
<rect x="584.6" y="959.69" width="4.7" height="36.91" fill="#154D3B"/>
<rect x="589" y="959.69" width="4.7" height="36.91" fill="#5F8C7B"/>
<rect x="593.4" y="959.69" width="61.9" height="36.91" fill="#154D3B"/>
<rect x="655" y="959.69" width="13.5" height="36.91" fill="#95BAAC"/>
<rect x="668.2" y="959.69" width="9.1" height="36.91" fill="#E2F5EE"/>
<rect x="677" y="959.69" width="4.7" height="36.91" fill="#D3EEE4"/>
<rect x="681.4" y="959.69" width="8.8" height="36.91" fill="#95BAAC"/>
<rect x="413" y="996.3" width="88.3" height="36.91" fill="#5F8C7B"/>
<rect x="501" y="996.3" width="9.1" height="36.91" fill="#154D3B"/>
<rect x="509.8" y="996.3" width="9.1" height="36.91" fill="#739D8C"/>
<rect x="518.6" y="996.3" width="9.1" height="36.91" fill="#A6CCBE"/>
<rect x="527.4" y="996.3" width="61.9" height="36.91" fill="#5F8C7B"/>
<rect x="589" y="996.3" width="31.1" height="36.91" fill="#154D3B"/>
<rect x="619.8" y="996.3" width="44.3" height="36.91" fill="#5F8C7B"/>
<rect x="663.8" y="996.3" width="4.7" height="36.91" fill="#154D3B"/>
<rect x="668.2" y="996.3" width="4.7" height="36.91" fill="#5F8C7B"/>
<rect x="672.6" y="996.3" width="4.7" height="36.91" fill="#B3D7CA"/>
<rect x="677" y="996.3" width="4.7" height="36.91" fill="#154D3B"/>
<rect x="681.4" y="996.3" width="8.8" height="36.91" fill="#4D7B69"/>
<rect x="413" y="1032.91" width="4.7" height="36.91" fill="#255A48"/>
<rect x="417.4" y="1032.91" width="61.9" height="36.91" fill="#154D3B"/>
<rect x="479" y="1032.91" width="9.1" height="36.91" fill="#44725F"/>
<rect x="487.8" y="1032.91" width="4.7" height="36.91" fill="#FBFDFD"/>
<rect x="492.2" y="1032.91" width="4.7" height="36.91" fill="#D3EEE4"/>
<rect x="496.6" y="1032.91" width="44.3" height="36.91" fill="#154D3B"/>
<rect x="540.6" y="1032.91" width="4.7" height="36.91" fill="#316452"/>
<rect x="545" y="1032.91" width="48.7" height="36.91" fill="#154D3B"/>
<rect x="593.4" y="1032.91" width="4.7" height="36.91" fill="#739D8C"/>
<rect x="597.8" y="1032.91" width="79.5" height="36.91" fill="#154D3B"/>
<rect x="677" y="1032.91" width="4.7" height="36.91" fill="#44725F"/>
<rect x="681.4" y="1032.91" width="8.8" height="36.91" fill="#D3EEE4"/>
<rect x="413" y="1069.52" width="4.7" height="36.91" fill="#44725F"/>
<rect x="417.4" y="1069.52" width="4.7" height="36.91" fill="#95BAAC"/>
<rect x="421.8" y="1069.52" width="13.5" height="36.91" fill="#44725F"/>
<rect x="435" y="1069.52" width="53.1" height="36.91" fill="#154D3B"/>
<rect x="487.8" y="1069.52" width="97.1" height="36.91" fill="#4D7B69"/>
<rect x="584.6" y="1069.52" width="35.5" height="36.91" fill="#154D3B"/>
<rect x="619.8" y="1069.52" width="53.1" height="36.91" fill="#4D7B69"/>
<rect x="672.6" y="1069.52" width="4.7" height="36.91" fill="#8BB2A3"/>
<rect x="677" y="1069.52" width="13.2" height="36.91" fill="#4D7B69"/>
<rect x="413" y="1106.13" width="79.5" height="36.61" fill="#ECF8F3"/>
<rect x="492.2" y="1106.13" width="4.7" height="36.61" fill="#A0C6B8"/>
<rect x="496.6" y="1106.13" width="4.7" height="36.61" fill="#D3EEE4"/>
<rect x="501" y="1106.13" width="26.7" height="36.61" fill="#ECF8F3"/>
<rect x="527.4" y="1106.13" width="9.1" height="36.61" fill="#DCF2EA"/>
<rect x="536.2" y="1106.13" width="48.7" height="36.61" fill="#D3EEE4"/>
<rect x="584.6" y="1106.13" width="35.5" height="36.61" fill="#739D8C"/>
<rect x="619.8" y="1106.13" width="44.3" height="36.61" fill="#F1FAF7"/>
<rect x="663.8" y="1106.13" width="9.1" height="36.61" fill="#9ABFB1"/>
<rect x="672.6" y="1106.13" width="4.7" height="36.61" fill="#95BAAC"/>
<rect x="677" y="1106.13" width="13.2" height="36.61" fill="#FBFDFD"/>
<rect x="703.75" y="813.25" width="9.11" height="36.91" fill="#E8F7F1"/>
<rect x="712.56" y="813.25" width="13.51" height="36.91" fill="#EEF9F5"/>
<rect x="725.76" y="813.25" width="53.13" height="36.91" fill="#F1FAF7"/>
<rect x="778.6" y="813.25" width="9.11" height="36.91" fill="#ECF8F3"/>
<rect x="787.4" y="813.25" width="35.52" height="36.91" fill="#DCF2EA"/>
<rect x="822.62" y="813.25" width="17.91" height="36.91" fill="#CFECE2"/>
<rect x="840.23" y="813.25" width="13.51" height="36.91" fill="#EEF9F5"/>
<rect x="853.44" y="813.25" width="39.92" height="36.91" fill="#F7FCFA"/>
<rect x="893.07" y="813.25" width="4.7" height="36.91" fill="#EEF9F5"/>
<rect x="897.47" y="813.25" width="9.11" height="36.91" fill="#F4FBF8"/>
<rect x="906.28" y="813.25" width="13.51" height="36.91" fill="#E8F7F1"/>
<rect x="919.48" y="813.25" width="26.42" height="36.91" fill="#F7FCFA"/>
<rect x="703.75" y="849.86" width="9.11" height="36.91" fill="#EEF9F5"/>
<rect x="712.56" y="849.86" width="75.15" height="36.91" fill="#F5FBF9"/>
<rect x="787.4" y="849.86" width="35.52" height="36.91" fill="#E0F4EC"/>
<rect x="822.62" y="849.86" width="17.91" height="36.91" fill="#D3EEE4"/>
<rect x="840.23" y="849.86" width="13.51" height="36.91" fill="#F1FAF7"/>
<rect x="853.44" y="849.86" width="44.33" height="36.91" fill="#F9FDFB"/>
<rect x="897.47" y="849.86" width="9.11" height="36.91" fill="#F1FAF7"/>
<rect x="906.28" y="849.86" width="13.51" height="36.91" fill="#ECF8F3"/>
<rect x="919.48" y="849.86" width="26.42" height="36.91" fill="#F9FDFB"/>
<rect x="703.75" y="886.47" width="31.12" height="36.91" fill="#154D3B"/>
<rect x="734.57" y="886.47" width="22.31" height="36.91" fill="#44725F"/>
<rect x="756.58" y="886.47" width="88.35" height="36.91" fill="#154D3B"/>
<rect x="844.64" y="886.47" width="4.7" height="36.91" fill="#316452"/>
<rect x="849.04" y="886.47" width="4.7" height="36.91" fill="#A0C6B8"/>
<rect x="853.44" y="886.47" width="39.92" height="36.91" fill="#154D3B"/>
<rect x="893.07" y="886.47" width="4.7" height="36.91" fill="#A0C6B8"/>
<rect x="897.47" y="886.47" width="4.7" height="36.91" fill="#154D3B"/>
<rect x="901.87" y="886.47" width="4.7" height="36.91" fill="#A0C6B8"/>
<rect x="906.28" y="886.47" width="4.7" height="36.91" fill="#D3EEE4"/>
<rect x="910.68" y="886.47" width="9.11" height="36.91" fill="#8BB2A3"/>
<rect x="919.48" y="886.47" width="4.7" height="36.91" fill="#154D3B"/>
<rect x="923.89" y="886.47" width="22.01" height="36.91" fill="#4D7B69"/>
<rect x="703.75" y="923.08" width="13.51" height="36.91" fill="#BBDDD1"/>
<rect x="716.96" y="923.08" width="4.7" height="36.91" fill="#D7F0E6"/>
<rect x="721.36" y="923.08" width="26.72" height="36.91" fill="#BBDDD1"/>
<rect x="747.78" y="923.08" width="4.7" height="36.91" fill="#ABD0C2"/>
<rect x="752.18" y="923.08" width="22.31" height="36.91" fill="#BBDDD1"/>
<rect x="774.19" y="923.08" width="4.7" height="36.91" fill="#A0C6B8"/>
<rect x="778.6" y="923.08" width="4.7" height="36.91" fill="#154D3B"/>
<rect x="783" y="923.08" width="4.7" height="36.91" fill="#44725F"/>
<rect x="787.4" y="923.08" width="35.52" height="36.91" fill="#699484"/>
<rect x="822.62" y="923.08" width="13.51" height="36.91" fill="#44725F"/>
<rect x="835.83" y="923.08" width="4.7" height="36.91" fill="#A6CCBE"/>
<rect x="840.23" y="923.08" width="9.11" height="36.91" fill="#5F8C7B"/>
<rect x="849.04" y="923.08" width="70.74" height="36.91" fill="#D7F0E6"/>
<rect x="919.48" y="923.08" width="26.42" height="36.91" fill="#E0F4EC"/>
<rect x="703.75" y="959.69" width="35.52" height="36.91" fill="#D3EEE4"/>
<rect x="738.97" y="959.69" width="17.91" height="36.91" fill="#95BAAC"/>
<rect x="756.58" y="959.69" width="4.7" height="36.91" fill="#D3EEE4"/>
<rect x="760.99" y="959.69" width="13.51" height="36.91" fill="#95BAAC"/>
<rect x="774.19" y="959.69" width="4.7" height="36.91" fill="#DCF2EA"/>
<rect x="778.6" y="959.69" width="9.11" height="36.91" fill="#E8F7F1"/>
<rect x="787.4" y="959.69" width="57.54" height="36.91" fill="#154D3B"/>
<rect x="844.64" y="959.69" width="4.7" height="36.91" fill="#5F8C7B"/>
<rect x="849.04" y="959.69" width="48.73" height="36.91" fill="#D3EEE4"/>
<rect x="897.47" y="959.69" width="4.7" height="36.91" fill="#A0C6B8"/>
<rect x="901.87" y="959.69" width="9.11" height="36.91" fill="#D3EEE4"/>
<rect x="910.68" y="959.69" width="9.11" height="36.91" fill="#95BAAC"/>
<rect x="919.48" y="959.69" width="4.7" height="36.91" fill="#D3EEE4"/>
<rect x="923.89" y="959.69" width="22.01" height="36.91" fill="#95BAAC"/>
<rect x="703.75" y="996.3" width="4.7" height="36.91" fill="#739D8C"/>
<rect x="708.15" y="996.3" width="4.7" height="36.91" fill="#80A898"/>
<rect x="712.56" y="996.3" width="17.91" height="36.91" fill="#5F8C7B"/>
<rect x="730.17" y="996.3" width="17.91" height="36.91" fill="#ABD0C2"/>
<rect x="747.78" y="996.3" width="75.15" height="36.91" fill="#5F8C7B"/>
<rect x="822.62" y="996.3" width="13.51" height="36.91" fill="#154D3B"/>
<rect x="835.83" y="996.3" width="4.7" height="36.91" fill="#739D8C"/>
<rect x="840.23" y="996.3" width="13.51" height="36.91" fill="#154D3B"/>
<rect x="853.44" y="996.3" width="39.92" height="36.91" fill="#5F8C7B"/>
<rect x="893.07" y="996.3" width="4.7" height="36.91" fill="#154D3B"/>
<rect x="897.47" y="996.3" width="4.7" height="36.91" fill="#5F8C7B"/>
<rect x="901.87" y="996.3" width="4.7" height="36.91" fill="#154D3B"/>
<rect x="906.28" y="996.3" width="39.62" height="36.91" fill="#5F8C7B"/>
<rect x="703.75" y="1032.91" width="4.7" height="36.91" fill="#154D3B"/>
<rect x="708.15" y="1032.91" width="4.7" height="36.91" fill="#3C6C5A"/>
<rect x="712.56" y="1032.91" width="4.7" height="36.91" fill="#154D3B"/>
<rect x="716.96" y="1032.91" width="4.7" height="36.91" fill="#2A5E4C"/>
<rect x="721.36" y="1032.91" width="17.91" height="36.91" fill="#154D3B"/>
<rect x="738.97" y="1032.91" width="35.52" height="36.91" fill="#A8CDC0"/>
<rect x="774.19" y="1032.91" width="4.7" height="36.91" fill="#5F8C7B"/>
<rect x="778.6" y="1032.91" width="4.7" height="36.91" fill="#316452"/>
<rect x="783" y="1032.91" width="66.34" height="36.91" fill="#154D3B"/>
<rect x="849.04" y="1032.91" width="4.7" height="36.91" fill="#739D8C"/>
<rect x="853.44" y="1032.91" width="4.7" height="36.91" fill="#316452"/>
<rect x="857.85" y="1032.91" width="4.7" height="36.91" fill="#154D3B"/>
<rect x="862.25" y="1032.91" width="4.7" height="36.91" fill="#3C6C5A"/>
<rect x="866.65" y="1032.91" width="26.72" height="36.91" fill="#154D3B"/>
<rect x="893.07" y="1032.91" width="4.7" height="36.91" fill="#80A898"/>
<rect x="897.47" y="1032.91" width="4.7" height="36.91" fill="#E2F5EE"/>
<rect x="901.87" y="1032.91" width="4.7" height="36.91" fill="#A0C6B8"/>
<rect x="906.28" y="1032.91" width="13.51" height="36.91" fill="#D3EEE4"/>
<rect x="919.48" y="1032.91" width="4.7" height="36.91" fill="#80A898"/>
<rect x="923.89" y="1032.91" width="4.7" height="36.91" fill="#44725F"/>
<rect x="928.29" y="1032.91" width="17.61" height="36.91" fill="#154D3B"/>
<rect x="703.75" y="1069.52" width="9.11" height="36.91" fill="#F1FAF7"/>
<rect x="712.56" y="1069.52" width="26.72" height="36.91" fill="#4D7B69"/>
<rect x="738.97" y="1069.52" width="4.7" height="36.91" fill="#95BAAC"/>
<rect x="743.37" y="1069.52" width="83.95" height="36.91" fill="#4D7B69"/>
<rect x="827.03" y="1069.52" width="22.31" height="36.91" fill="#154D3B"/>
<rect x="849.04" y="1069.52" width="4.7" height="36.91" fill="#44725F"/>
<rect x="853.44" y="1069.52" width="39.92" height="36.91" fill="#154D3B"/>
<rect x="893.07" y="1069.52" width="4.7" height="36.91" fill="#3C6C5A"/>
<rect x="897.47" y="1069.52" width="48.43" height="36.91" fill="#4D7B69"/>
<rect x="703.75" y="1106.13" width="9.11" height="36.61" fill="#E4F6EF"/>
<rect x="712.56" y="1106.13" width="4.7" height="36.61" fill="#ECF8F3"/>
<rect x="716.96" y="1106.13" width="9.11" height="36.61" fill="#E2F5EE"/>
<rect x="725.76" y="1106.13" width="13.51" height="36.61" fill="#F1FAF7"/>
<rect x="738.97" y="1106.13" width="17.91" height="36.61" fill="#A6CCBE"/>
<rect x="756.58" y="1106.13" width="4.7" height="36.61" fill="#B5D8CC"/>
<rect x="760.99" y="1106.13" width="13.51" height="36.61" fill="#A6CCBE"/>
<rect x="774.19" y="1106.13" width="4.7" height="36.61" fill="#8BB2A3"/>
<rect x="778.6" y="1106.13" width="4.7" height="36.61" fill="#A0C6B8"/>
<rect x="783" y="1106.13" width="4.7" height="36.61" fill="#9ABFB1"/>
<rect x="787.4" y="1106.13" width="35.52" height="36.61" fill="#F5FBF9"/>
<rect x="822.62" y="1106.13" width="17.91" height="36.61" fill="#6C9786"/>
<rect x="840.23" y="1106.13" width="4.7" height="36.61" fill="#A0C6B8"/>
<rect x="844.64" y="1106.13" width="4.7" height="36.61" fill="#6C9786"/>
<rect x="849.04" y="1106.13" width="9.11" height="36.61" fill="#F9FDFB"/>
<rect x="857.85" y="1106.13" width="35.52" height="36.61" fill="#F4FBF8"/>
<rect x="897.47" y="1106.13" width="9.11" height="36.61" fill="#F4FBF8"/>
<rect x="919.48" y="1106.13" width="26.42" height="36.61" fill="#F4FBF8"/>
<rect x="959.5" y="813.25" width="75.06" height="36.91" fill="#F9FDFB"/>
<rect x="1034.26" y="813.25" width="9.09" height="36.91" fill="#F1FAF7"/>
<rect x="1043.05" y="813.25" width="4.7" height="36.91" fill="#F9FDFB"/>
<rect x="1047.45" y="813.25" width="4.7" height="36.91" fill="#F1FAF7"/>
<rect x="1051.85" y="813.25" width="57.47" height="36.91" fill="#F9FDFB"/>
<rect x="1109.01" y="813.25" width="13.49" height="36.91" fill="#EEF9F5"/>
<rect x="1122.21" y="813.25" width="22.29" height="36.91" fill="#E0F4EC"/>
<rect x="1144.19" y="813.25" width="13.49" height="36.91" fill="#EEF9F5"/>
<rect x="1157.39" y="813.25" width="4.7" height="36.91" fill="#44725F"/>
<rect x="1161.78" y="813.25" width="4.7" height="36.91" fill="#80A898"/>
<rect x="1166.18" y="813.25" width="17.89" height="36.91" fill="#E8F7F1"/>
<rect x="1183.77" y="813.25" width="48.67" height="36.91" fill="#EEF9F5"/>
<rect x="1232.14" y="813.25" width="4.7" height="36.91" fill="#DCF2EA"/>
<rect x="1236.54" y="813.25" width="9.09" height="36.91" fill="#EEF9F5"/>
<rect x="1245.34" y="813.25" width="31.08" height="36.91" fill="#ECF8F3"/>
<rect x="1276.12" y="813.25" width="9.09" height="36.91" fill="#D3EEE4"/>
<rect x="1284.91" y="813.25" width="26.68" height="36.91" fill="#EEF9F5"/>
<rect x="1311.3" y="813.25" width="4.7" height="36.91" fill="#DCF2EA"/>
<rect x="1315.7" y="813.25" width="13.49" height="36.91" fill="#ECF8F3"/>
<rect x="1328.89" y="813.25" width="153.91" height="36.91" fill="#F9FDFB"/>
<rect x="959.5" y="849.86" width="163.01" height="36.91" fill="#FBFDFD"/>
<rect x="1122.21" y="849.86" width="22.29" height="36.91" fill="#E2F5EE"/>
<rect x="1144.19" y="849.86" width="13.49" height="36.91" fill="#F5FBF9"/>
<rect x="1157.39" y="849.86" width="9.09" height="36.91" fill="#2C604E"/>
<rect x="1166.18" y="849.86" width="17.89" height="36.91" fill="#ECF8F3"/>
<rect x="1183.77" y="849.86" width="48.67" height="36.91" fill="#F5FBF9"/>
<rect x="1232.14" y="849.86" width="4.7" height="36.91" fill="#E2F5EE"/>
<rect x="1236.54" y="849.86" width="39.88" height="36.91" fill="#F5FBF9"/>
<rect x="1276.12" y="849.86" width="9.09" height="36.91" fill="#DCF2EA"/>
<rect x="1284.91" y="849.86" width="26.68" height="36.91" fill="#F5FBF9"/>
<rect x="1311.3" y="849.86" width="4.7" height="36.91" fill="#E2F5EE"/>
<rect x="1315.7" y="849.86" width="167.1" height="36.91" fill="#F9FDFB"/>
<rect x="959.5" y="886.47" width="9.09" height="36.91" fill="#4D7B69"/>
<rect x="968.29" y="886.47" width="79.45" height="36.91" fill="#154D3B"/>
<rect x="1047.45" y="886.47" width="4.7" height="36.91" fill="#44725F"/>
<rect x="1051.85" y="886.47" width="57.47" height="36.91" fill="#154D3B"/>
<rect x="1109.01" y="886.47" width="4.7" height="36.91" fill="#739D8C"/>
<rect x="1113.41" y="886.47" width="4.7" height="36.91" fill="#8BB2A3"/>
<rect x="1117.81" y="886.47" width="4.7" height="36.91" fill="#3C6C5A"/>
<rect x="1122.21" y="886.47" width="26.68" height="36.91" fill="#154D3B"/>
<rect x="1148.59" y="886.47" width="4.7" height="36.91" fill="#316452"/>
<rect x="1152.99" y="886.47" width="4.7" height="36.91" fill="#739D8C"/>
<rect x="1157.39" y="886.47" width="9.09" height="36.91" fill="#8BB2A3"/>
<rect x="1166.18" y="886.47" width="9.09" height="36.91" fill="#D3EEE4"/>
<rect x="1174.98" y="886.47" width="4.7" height="36.91" fill="#A0C6B8"/>
<rect x="1179.37" y="886.47" width="4.7" height="36.91" fill="#B8DBCE"/>
<rect x="1183.77" y="886.47" width="9.09" height="36.91" fill="#4D7B69"/>
<rect x="1192.57" y="886.47" width="4.7" height="36.91" fill="#154D3B"/>
<rect x="1196.96" y="886.47" width="4.7" height="36.91" fill="#5F8C7B"/>
<rect x="1201.36" y="886.47" width="4.7" height="36.91" fill="#8BB2A3"/>
<rect x="1205.76" y="886.47" width="17.89" height="36.91" fill="#4D7B69"/>
<rect x="1223.35" y="886.47" width="4.7" height="36.91" fill="#739D8C"/>
<rect x="1227.75" y="886.47" width="4.7" height="36.91" fill="#44725F"/>
<rect x="1232.14" y="886.47" width="61.86" height="36.91" fill="#154D3B"/>
<rect x="1293.71" y="886.47" width="4.7" height="36.91" fill="#316452"/>
<rect x="1298.11" y="886.47" width="4.7" height="36.91" fill="#5F8C7B"/>
<rect x="1302.5" y="886.47" width="9.09" height="36.91" fill="#154D3B"/>
<rect x="1311.3" y="886.47" width="4.7" height="36.91" fill="#5F8C7B"/>
<rect x="1315.7" y="886.47" width="4.7" height="36.91" fill="#316452"/>
<rect x="1320.09" y="886.47" width="9.09" height="36.91" fill="#154D3B"/>
<rect x="1328.89" y="886.47" width="9.09" height="36.91" fill="#44725F"/>
<rect x="1337.68" y="886.47" width="9.09" height="36.91" fill="#5F8C7B"/>
<rect x="1346.48" y="886.47" width="4.7" height="36.91" fill="#95BAAC"/>
<rect x="1350.88" y="886.47" width="13.49" height="36.91" fill="#154D3B"/>
<rect x="1364.07" y="886.47" width="26.68" height="36.91" fill="#5F8C7B"/>
<rect x="1390.45" y="886.47" width="4.7" height="36.91" fill="#154D3B"/>
<rect x="1394.85" y="886.47" width="4.7" height="36.91" fill="#5F8C7B"/>
<rect x="1399.25" y="886.47" width="4.7" height="36.91" fill="#154D3B"/>
<rect x="1403.65" y="886.47" width="4.7" height="36.91" fill="#5F8C7B"/>
<rect x="1408.04" y="886.47" width="26.68" height="36.91" fill="#154D3B"/>
<rect x="1434.43" y="886.47" width="4.7" height="36.91" fill="#5F8C7B"/>
<rect x="1438.83" y="886.47" width="4.7" height="36.91" fill="#154D3B"/>
<rect x="1443.22" y="886.47" width="22.29" height="36.91" fill="#5F8C7B"/>
<rect x="1465.21" y="886.47" width="4.7" height="36.91" fill="#154D3B"/>
<rect x="1469.61" y="886.47" width="13.19" height="36.91" fill="#5F8C7B"/>
<rect x="959.5" y="923.08" width="149.81" height="36.91" fill="#D7F0E6"/>
<rect x="1109.01" y="923.08" width="4.7" height="36.91" fill="#E2F5EE"/>
<rect x="1113.41" y="923.08" width="31.08" height="36.91" fill="#699484"/>
<rect x="1144.19" y="923.08" width="39.88" height="36.91" fill="#DCF2EA"/>
<rect x="1183.77" y="923.08" width="4.7" height="36.91" fill="#D3EEE4"/>
<rect x="1188.17" y="923.08" width="4.7" height="36.91" fill="#A0C6B8"/>
<rect x="1192.57" y="923.08" width="9.09" height="36.91" fill="#BBDDD1"/>
<rect x="1201.36" y="923.08" width="9.09" height="36.91" fill="#D3EEE4"/>
<rect x="1210.16" y="923.08" width="17.89" height="36.91" fill="#BBDDD1"/>
<rect x="1227.75" y="923.08" width="4.7" height="36.91" fill="#D3EEE4"/>
<rect x="1232.14" y="923.08" width="9.09" height="36.91" fill="#699484"/>
<rect x="1240.94" y="923.08" width="4.7" height="36.91" fill="#DCF2EA"/>
<rect x="1245.34" y="923.08" width="13.49" height="36.91" fill="#9ABFB1"/>
<rect x="1258.53" y="923.08" width="17.89" height="36.91" fill="#BBDDD1"/>
<rect x="1276.12" y="923.08" width="17.89" height="36.91" fill="#44725F"/>
<rect x="1293.71" y="923.08" width="17.89" height="36.91" fill="#699484"/>
<rect x="1311.3" y="923.08" width="4.7" height="36.91" fill="#95BAAC"/>
<rect x="1315.7" y="923.08" width="4.7" height="36.91" fill="#699484"/>
<rect x="1320.09" y="923.08" width="9.09" height="36.91" fill="#44725F"/>
<rect x="1328.89" y="923.08" width="35.48" height="36.91" fill="#D8F0E8"/>
<rect x="1364.07" y="923.08" width="39.88" height="36.91" fill="#699484"/>
<rect x="1403.65" y="923.08" width="61.86" height="36.91" fill="#D8F0E8"/>
<rect x="1465.21" y="923.08" width="17.59" height="36.91" fill="#699484"/>
<rect x="959.5" y="959.69" width="31.08" height="36.91" fill="#D3EEE4"/>
<rect x="990.28" y="959.69" width="53.07" height="36.91" fill="#95BAAC"/>
<rect x="1043.05" y="959.69" width="4.7" height="36.91" fill="#E2F5EE"/>
<rect x="1047.45" y="959.69" width="4.7" height="36.91" fill="#95BAAC"/>
<rect x="1051.85" y="959.69" width="61.86" height="36.91" fill="#D3EEE4"/>
<rect x="1113.41" y="959.69" width="9.09" height="36.91" fill="#E2F5EE"/>
<rect x="1122.21" y="959.69" width="35.48" height="36.91" fill="#154D3B"/>
<rect x="1157.39" y="959.69" width="79.45" height="36.91" fill="#95BAAC"/>
<rect x="1236.54" y="959.69" width="9.09" height="36.91" fill="#80A898"/>
<rect x="1245.34" y="959.69" width="31.08" height="36.91" fill="#D3EEE4"/>
<rect x="1276.12" y="959.69" width="13.49" height="36.91" fill="#154D3B"/>
<rect x="1289.31" y="959.69" width="22.29" height="36.91" fill="#95BAAC"/>
<rect x="1311.3" y="959.69" width="4.7" height="36.91" fill="#E2F5EE"/>
<rect x="1315.7" y="959.69" width="4.7" height="36.91" fill="#95BAAC"/>
<rect x="1320.09" y="959.69" width="9.09" height="36.91" fill="#D8F0E8"/>
<rect x="1328.89" y="959.69" width="13.49" height="36.91" fill="#95BAAC"/>
<rect x="1342.08" y="959.69" width="4.7" height="36.91" fill="#D3EEE4"/>
<rect x="1346.48" y="959.69" width="17.89" height="36.91" fill="#95BAAC"/>
<rect x="1364.07" y="959.69" width="22.29" height="36.91" fill="#D3EEE4"/>
<rect x="1386.06" y="959.69" width="4.7" height="36.91" fill="#A0C6B8"/>
<rect x="1390.45" y="959.69" width="13.49" height="36.91" fill="#E2F5EE"/>
<rect x="1403.65" y="959.69" width="48.67" height="36.91" fill="#D3EEE4"/>
<rect x="1452.02" y="959.69" width="17.89" height="36.91" fill="#95BAAC"/>
<rect x="1469.61" y="959.69" width="13.19" height="36.91" fill="#D3EEE4"/>
<rect x="959.5" y="996.3" width="35.48" height="36.91" fill="#5F8C7B"/>
<rect x="994.68" y="996.3" width="4.7" height="36.91" fill="#A6CCBE"/>
<rect x="999.08" y="996.3" width="4.7" height="36.91" fill="#5F8C7B"/>
<rect x="1003.47" y="996.3" width="4.7" height="36.91" fill="#A6CCBE"/>
<rect x="1007.87" y="996.3" width="101.44" height="36.91" fill="#5F8C7B"/>
<rect x="1109.01" y="996.3" width="4.7" height="36.91" fill="#A0C6B8"/>
<rect x="1113.41" y="996.3" width="35.48" height="36.91" fill="#669281"/>
<rect x="1148.59" y="996.3" width="9.09" height="36.91" fill="#A8CDC0"/>
<rect x="1157.39" y="996.3" width="4.7" height="36.91" fill="#80A898"/>
<rect x="1161.78" y="996.3" width="22.29" height="36.91" fill="#53816F"/>
<rect x="1183.77" y="996.3" width="4.7" height="36.91" fill="#A0C6B8"/>
<rect x="1188.17" y="996.3" width="9.09" height="36.91" fill="#6C9786"/>
<rect x="1196.96" y="996.3" width="13.49" height="36.91" fill="#A8CDC0"/>
<rect x="1210.16" y="996.3" width="4.7" height="36.91" fill="#669281"/>
<rect x="1214.55" y="996.3" width="4.7" height="36.91" fill="#A8CDC0"/>
<rect x="1218.95" y="996.3" width="4.7" height="36.91" fill="#669281"/>
<rect x="1223.35" y="996.3" width="4.7" height="36.91" fill="#A8CDC0"/>
<rect x="1227.75" y="996.3" width="9.09" height="36.91" fill="#669281"/>
<rect x="1236.54" y="996.3" width="9.09" height="36.91" fill="#5F8C7B"/>
<rect x="1245.34" y="996.3" width="13.49" height="36.91" fill="#A8CDC0"/>
<rect x="1258.53" y="996.3" width="9.09" height="36.91" fill="#669281"/>
<rect x="1267.32" y="996.3" width="9.09" height="36.91" fill="#A8CDC0"/>
<rect x="1276.12" y="996.3" width="31.08" height="36.91" fill="#154D3B"/>
<rect x="1306.9" y="996.3" width="4.7" height="36.91" fill="#A8CDC0"/>
<rect x="1311.3" y="996.3" width="4.7" height="36.91" fill="#5F8C7B"/>
<rect x="1315.7" y="996.3" width="4.7" height="36.91" fill="#154D3B"/>
<rect x="1320.09" y="996.3" width="26.68" height="36.91" fill="#5F8C7B"/>
<rect x="1346.48" y="996.3" width="4.7" height="36.91" fill="#A6CCBE"/>
<rect x="1350.88" y="996.3" width="39.88" height="36.91" fill="#5F8C7B"/>
<rect x="1390.45" y="996.3" width="4.7" height="36.91" fill="#A6CCBE"/>
<rect x="1394.85" y="996.3" width="17.89" height="36.91" fill="#5F8C7B"/>
<rect x="1412.44" y="996.3" width="4.7" height="36.91" fill="#A6CCBE"/>
<rect x="1416.84" y="996.3" width="65.96" height="36.91" fill="#5F8C7B"/>
<rect x="959.5" y="1032.91" width="4.7" height="36.91" fill="#154D3B"/>
<rect x="963.9" y="1032.91" width="4.7" height="36.91" fill="#3C6C5A"/>
<rect x="968.29" y="1032.91" width="4.7" height="36.91" fill="#154D3B"/>
<rect x="972.69" y="1032.91" width="4.7" height="36.91" fill="#739D8C"/>
<rect x="977.09" y="1032.91" width="22.29" height="36.91" fill="#154D3B"/>
<rect x="999.08" y="1032.91" width="9.09" height="36.91" fill="#A0C6B8"/>
<rect x="1007.87" y="1032.91" width="13.49" height="36.91" fill="#D3EEE4"/>
<rect x="1021.06" y="1032.91" width="13.49" height="36.91" fill="#A0C6B8"/>
<rect x="1034.26" y="1032.91" width="66.26" height="36.91" fill="#154D3B"/>
<rect x="1100.22" y="1032.91" width="9.09" height="36.91" fill="#3C6C5A"/>
<rect x="1109.01" y="1032.91" width="4.7" height="36.91" fill="#A0C6B8"/>
<rect x="1113.41" y="1032.91" width="4.7" height="36.91" fill="#316452"/>
<rect x="1117.81" y="1032.91" width="9.09" height="36.91" fill="#44725F"/>
<rect x="1126.6" y="1032.91" width="31.08" height="36.91" fill="#154D3B"/>
<rect x="1157.39" y="1032.91" width="26.68" height="36.91" fill="#D7F0E6"/>
<rect x="1183.77" y="1032.91" width="13.49" height="36.91" fill="#A6CCBE"/>
<rect x="1196.96" y="1032.91" width="4.7" height="36.91" fill="#D3EEE4"/>
<rect x="1201.36" y="1032.91" width="13.49" height="36.91" fill="#A6CCBE"/>
<rect x="1214.55" y="1032.91" width="4.7" height="36.91" fill="#DCF2EA"/>
<rect x="1218.95" y="1032.91" width="4.7" height="36.91" fill="#A0C6B8"/>
<rect x="1223.35" y="1032.91" width="9.09" height="36.91" fill="#B8DBCE"/>
<rect x="1232.14" y="1032.91" width="9.09" height="36.91" fill="#154D3B"/>
<rect x="1240.94" y="1032.91" width="4.7" height="36.91" fill="#E8F7F1"/>
<rect x="1245.34" y="1032.91" width="97.04" height="36.91" fill="#154D3B"/>
<rect x="1342.08" y="1032.91" width="9.09" height="36.91" fill="#316452"/>
<rect x="1350.88" y="1032.91" width="53.07" height="36.91" fill="#154D3B"/>
<rect x="1403.65" y="1032.91" width="4.7" height="36.91" fill="#739D8C"/>
<rect x="1408.04" y="1032.91" width="4.7" height="36.91" fill="#154D3B"/>
<rect x="1412.44" y="1032.91" width="9.09" height="36.91" fill="#44725F"/>
<rect x="1421.24" y="1032.91" width="61.56" height="36.91" fill="#154D3B"/>
<rect x="959.5" y="1069.52" width="9.09" height="36.91" fill="#154D3B"/>
<rect x="968.29" y="1069.52" width="4.7" height="36.91" fill="#3C6C5A"/>
<rect x="972.69" y="1069.52" width="136.62" height="36.91" fill="#154D3B"/>
<rect x="1109.01" y="1069.52" width="4.7" height="36.91" fill="#A0C6B8"/>
<rect x="1113.41" y="1069.52" width="31.08" height="36.91" fill="#4D7B69"/>
<rect x="1144.19" y="1069.52" width="4.7" height="36.91" fill="#EEF9F5"/>
<rect x="1148.59" y="1069.52" width="9.09" height="36.91" fill="#154D3B"/>
<rect x="1157.39" y="1069.52" width="4.7" height="36.91" fill="#44725F"/>
<rect x="1161.78" y="1069.52" width="4.7" height="36.91" fill="#9ABFB1"/>
<rect x="1166.18" y="1069.52" width="4.7" height="36.91" fill="#B8DBCE"/>
<rect x="1170.58" y="1069.52" width="31.08" height="36.91" fill="#4D7B69"/>
<rect x="1201.36" y="1069.52" width="4.7" height="36.91" fill="#A0C6B8"/>
<rect x="1205.76" y="1069.52" width="4.7" height="36.91" fill="#B8DBCE"/>
<rect x="1210.16" y="1069.52" width="26.68" height="36.91" fill="#4D7B69"/>
<rect x="1236.54" y="1069.52" width="4.7" height="36.91" fill="#B8DBCE"/>
<rect x="1240.94" y="1069.52" width="17.89" height="36.91" fill="#154D3B"/>
<rect x="1258.53" y="1069.52" width="17.89" height="36.91" fill="#4D7B69"/>
<rect x="1276.12" y="1069.52" width="13.49" height="36.91" fill="#154D3B"/>
<rect x="1289.31" y="1069.52" width="4.7" height="36.91" fill="#EEF9F5"/>
<rect x="1293.71" y="1069.52" width="22.29" height="36.91" fill="#4D7B69"/>
<rect x="1315.7" y="1069.52" width="4.7" height="36.91" fill="#95BAAC"/>
<rect x="1320.09" y="1069.52" width="83.85" height="36.91" fill="#4D7B69"/>
<rect x="1403.65" y="1069.52" width="4.7" height="36.91" fill="#154D3B"/>
<rect x="1408.04" y="1069.52" width="74.76" height="36.91" fill="#4D7B69"/>
<rect x="959.5" y="1106.13" width="149.81" height="36.61" fill="#F4FBF8"/>
<rect x="1109.01" y="1106.13" width="4.7" height="36.61" fill="#DCF2EA"/>
<rect x="1113.41" y="1106.13" width="44.27" height="36.61" fill="#F2FAF7"/>
<rect x="1183.77" y="1106.13" width="22.29" height="36.61" fill="#A6CCBE"/>
<rect x="1205.76" y="1106.13" width="4.7" height="36.61" fill="#D3EEE4"/>
<rect x="1210.16" y="1106.13" width="22.29" height="36.61" fill="#A6CCBE"/>
<rect x="1232.14" y="1106.13" width="4.7" height="36.61" fill="#ECF8F3"/>
<rect x="1236.54" y="1106.13" width="4.7" height="36.61" fill="#8BB2A3"/>
<rect x="1240.94" y="1106.13" width="4.7" height="36.61" fill="#EEF9F5"/>
<rect x="1245.34" y="1106.13" width="13.49" height="36.61" fill="#A6CCBE"/>
<rect x="1258.53" y="1106.13" width="17.89" height="36.61" fill="#EEF9F5"/>
<rect x="1276.12" y="1106.13" width="13.49" height="36.61" fill="#5F8C7B"/>
<rect x="1289.31" y="1106.13" width="9.09" height="36.61" fill="#86AD9D"/>
<rect x="1298.11" y="1106.13" width="4.7" height="36.61" fill="#ABD0C2"/>
<rect x="1302.5" y="1106.13" width="4.7" height="36.61" fill="#86AD9D"/>
<rect x="1306.9" y="1106.13" width="13.49" height="36.61" fill="#A6CCBE"/>
<rect x="1320.09" y="1106.13" width="9.09" height="36.61" fill="#86AD9D"/>
<rect x="1328.89" y="1106.13" width="153.91" height="36.61" fill="#F5FBF9"/>
</g>
<path d="M116 42.7v669.6M124 42.7v669.6M151 42.7v669.6M159 42.7v669.6M186 42.7v669.6M194 42.7v669.6M208 42.7v669.6M216 42.7v669.6M243 42.7v669.6M251 42.7v669.6M265 42.7v669.6M273 42.7v669.6M300 42.7v669.6M308 42.7v669.6M335 42.7v669.6M343 42.7v669.6M357 42.7v669.6M365 42.7v669.6M392 42.7v669.6M400 42.7v669.6M432 42.7v669.6M440 42.7v669.6M467 42.7v669.6M475 42.7v669.6M502 42.7v669.6M510 42.7v669.6M537 42.7v669.6M545 42.7v669.6M572 42.7v669.6M580 42.7v669.6M607 42.7v669.6M615 42.7v669.6M642 42.7v669.6M650 42.7v669.6M677 42.7v669.6M685 42.7v669.6M730 42.7v669.6M738 42.7v669.6M765 42.7v669.6M773 42.7v669.6M800 42.7v669.6M808 42.7v669.6M835 42.7v669.6M843 42.7v669.6M870 42.7v669.6M878 42.7v669.6M905 42.7v669.6M913 42.7v669.6M926 42.7v669.6M940 42.7v669.6M984 42.7v669.6M992 42.7v669.6M1019 42.7v669.6M1027 42.7v669.6M1054 42.7v669.6M1062 42.7v669.6M1089 42.7v669.6M1097 42.7v669.6M1124 42.7v669.6M1132 42.7v669.6M1145 42.7v669.6M1172 42.7v669.6M1180 42.7v669.6M1207 42.7v669.6M1215 42.7v669.6M1242 42.7v669.6M1250 42.7v669.6M1277 42.7v669.6M1285 42.7v669.6M1312 42.7v669.6M1320 42.7v669.6M1333 42.7v669.6M1347 42.7v669.6M1360 42.7v669.6M1368 42.7v669.6M1395 42.7v669.6M1403 42.7v669.6M1430 42.7v669.6M1438 42.7v669.6M1465 42.7v669.6M1473 42.7v669.6" stroke="#fff" stroke-opacity="0.05" stroke-width="1" transform="translate(0.5 0)" fill="none"/>
<path d="M111 42.7v669.6M120 42.7v669.6M129 42.7v669.6M133 42.7v669.6M142 42.7v669.6M146 42.7v669.6M155 42.7v669.6M164 42.7v669.6M168 42.7v669.6M177 42.7v669.6M181 42.7v669.6M190 42.7v669.6M199 42.7v669.6M203 42.7v669.6M212 42.7v669.6M221 42.7v669.6M225 42.7v669.6M234 42.7v669.6M238 42.7v669.6M247 42.7v669.6M256 42.7v669.6M260 42.7v669.6M269 42.7v669.6M278 42.7v669.6M282 42.7v669.6M291 42.7v669.6M295 42.7v669.6M304 42.7v669.6M313 42.7v669.6M317 42.7v669.6M326 42.7v669.6M330 42.7v669.6M339 42.7v669.6M348 42.7v669.6M352 42.7v669.6M361 42.7v669.6M370 42.7v669.6M374 42.7v669.6M383 42.7v669.6M387 42.7v669.6M396 42.7v669.6M423 42.7v669.6M427 42.7v669.6M436 42.7v669.6M445 42.7v669.6M449 42.7v669.6M458 42.7v669.6M462 42.7v669.6M471 42.7v669.6M480 42.7v669.6M484 42.7v669.6M493 42.7v669.6M497 42.7v669.6M506 42.7v669.6M515 42.7v669.6M519 42.7v669.6M528 42.7v669.6M532 42.7v669.6M541 42.7v669.6M550 42.7v669.6M554 42.7v669.6M563 42.7v669.6M567 42.7v669.6M576 42.7v669.6M585 42.7v669.6M589 42.7v669.6M598 42.7v669.6M602 42.7v669.6M611 42.7v669.6M620 42.7v669.6M624 42.7v669.6M633 42.7v669.6M637 42.7v669.6M646 42.7v669.6M655 42.7v669.6M659 42.7v669.6M668 42.7v669.6M672 42.7v669.6M681 42.7v669.6M690 42.7v669.6M712 42.7v669.6M721 42.7v669.6M725 42.7v669.6M734 42.7v669.6M743 42.7v669.6M747 42.7v669.6M756 42.7v669.6M760 42.7v669.6M769 42.7v669.6M778 42.7v669.6M782 42.7v669.6M791 42.7v669.6M795 42.7v669.6M804 42.7v669.6M813 42.7v669.6M817 42.7v669.6M826 42.7v669.6M830 42.7v669.6M839 42.7v669.6M848 42.7v669.6M852 42.7v669.6M861 42.7v669.6M865 42.7v669.6M874 42.7v669.6M883 42.7v669.6M887 42.7v669.6M896 42.7v669.6M900 42.7v669.6M909 42.7v669.6M918 42.7v669.6M922 42.7v669.6M931 42.7v669.6M935 42.7v669.6M944 42.7v669.6M966 42.7v669.6M975 42.7v669.6M979 42.7v669.6M988 42.7v669.6M997 42.7v669.6M1001 42.7v669.6M1010 42.7v669.6M1014 42.7v669.6M1023 42.7v669.6M1032 42.7v669.6M1036 42.7v669.6M1045 42.7v669.6M1049 42.7v669.6M1058 42.7v669.6M1067 42.7v669.6M1071 42.7v669.6M1080 42.7v669.6M1084 42.7v669.6M1093 42.7v669.6M1102 42.7v669.6M1106 42.7v669.6M1115 42.7v669.6M1119 42.7v669.6M1128 42.7v669.6M1137 42.7v669.6M1141 42.7v669.6M1150 42.7v669.6M1154 42.7v669.6M1163 42.7v669.6M1167 42.7v669.6M1176 42.7v669.6M1185 42.7v669.6M1189 42.7v669.6M1198 42.7v669.6M1202 42.7v669.6M1211 42.7v669.6M1220 42.7v669.6M1224 42.7v669.6M1233 42.7v669.6M1237 42.7v669.6M1246 42.7v669.6M1255 42.7v669.6M1259 42.7v669.6M1268 42.7v669.6M1272 42.7v669.6M1281 42.7v669.6M1290 42.7v669.6M1294 42.7v669.6M1303 42.7v669.6M1307 42.7v669.6M1316 42.7v669.6M1325 42.7v669.6M1329 42.7v669.6M1338 42.7v669.6M1342 42.7v669.6M1351 42.7v669.6M1355 42.7v669.6M1364 42.7v669.6M1373 42.7v669.6M1377 42.7v669.6M1386 42.7v669.6M1390 42.7v669.6M1399 42.7v669.6M1408 42.7v669.6M1412 42.7v669.6M1421 42.7v669.6M1425 42.7v669.6M1434 42.7v669.6M1443 42.7v669.6M1447 42.7v669.6M1456 42.7v669.6M1460 42.7v669.6M1469 42.7v669.6M1478 42.7v669.6" stroke="#fff" stroke-opacity="0.1" stroke-width="1" transform="translate(0.5 0)" fill="none"/>
<path d="M130 813.25v329.49M152 813.25v329.49M166 813.25v329.49M174 813.25v329.49M188 813.25v329.49M196 813.25v329.49M210 813.25v329.49M218 813.25v329.49M232 813.25v329.49M240 813.25v329.49M254 813.25v329.49M276 813.25v329.49M337 813.25v329.49M359 813.25v329.49M373 813.25v329.49M381 813.25v329.49M395 813.25v329.49M708 813.25v329.49M730 813.25v329.49M752 813.25v329.49M813 813.25v329.49M835 813.25v329.49M857 813.25v329.49M871 813.25v329.49M879 813.25v329.49M893 813.25v329.49M901 813.25v329.49M915 813.25v329.49M923 813.25v329.49M937 813.25v329.49M963 813.25v329.49M977 813.25v329.49M985 813.25v329.49M999 813.25v329.49M1007 813.25v329.49M1021 813.25v329.49M1029 813.25v329.49M1051 813.25v329.49M1073 813.25v329.49M1095 813.25v329.49M1166 813.25v329.49M1188 813.25v329.49M1210 813.25v329.49M1232 813.25v329.49M1240 813.25v329.49M1254 813.25v329.49M1262 813.25v329.49M1276 813.25v329.49M1284 813.25v329.49M1298 813.25v329.49M1306 813.25v329.49M1320 813.25v329.49M1328 813.25v329.49M1342 813.25v329.49M1350 813.25v329.49M1364 813.25v329.49M1372 813.25v329.49M1386 813.25v329.49M1394 813.25v329.49M1416 813.25v329.49M1438 813.25v329.49" stroke="#fff" stroke-opacity="0.05" stroke-width="1" transform="translate(0.5 0)" fill="none"/>
<path d="M104 813.25v329.49M108 813.25v329.49M113 813.25v329.49M117 813.25v329.49M126 813.25v329.49M135 813.25v329.49M139 813.25v329.49M148 813.25v329.49M157 813.25v329.49M161 813.25v329.49M170 813.25v329.49M179 813.25v329.49M183 813.25v329.49M192 813.25v329.49M201 813.25v329.49M205 813.25v329.49M214 813.25v329.49M223 813.25v329.49M227 813.25v329.49M236 813.25v329.49M245 813.25v329.49M249 813.25v329.49M258 813.25v329.49M267 813.25v329.49M271 813.25v329.49M280 813.25v329.49M289 813.25v329.49M293 813.25v329.49M298 813.25v329.49M302 813.25v329.49M311 813.25v329.49M315 813.25v329.49M320 813.25v329.49M324 813.25v329.49M333 813.25v329.49M342 813.25v329.49M346 813.25v329.49M355 813.25v329.49M364 813.25v329.49M368 813.25v329.49M377 813.25v329.49M386 813.25v329.49M390 813.25v329.49M417 813.25v329.49M421 813.25v329.49M426 813.25v329.49M430 813.25v329.49M439 813.25v329.49M443 813.25v329.49M448 813.25v329.49M452 813.25v329.49M461 813.25v329.49M465 813.25v329.49M470 813.25v329.49M474 813.25v329.49M483 813.25v329.49M487 813.25v329.49M492 813.25v329.49M496 813.25v329.49M505 813.25v329.49M509 813.25v329.49M514 813.25v329.49M518 813.25v329.49M527 813.25v329.49M531 813.25v329.49M536 813.25v329.49M540 813.25v329.49M549 813.25v329.49M553 813.25v329.49M558 813.25v329.49M562 813.25v329.49M571 813.25v329.49M575 813.25v329.49M580 813.25v329.49M584 813.25v329.49M593 813.25v329.49M597 813.25v329.49M602 813.25v329.49M606 813.25v329.49M615 813.25v329.49M619 813.25v329.49M624 813.25v329.49M628 813.25v329.49M637 813.25v329.49M641 813.25v329.49M646 813.25v329.49M650 813.25v329.49M659 813.25v329.49M663 813.25v329.49M668 813.25v329.49M672 813.25v329.49M681 813.25v329.49M685 813.25v329.49M712 813.25v329.49M721 813.25v329.49M725 813.25v329.49M734 813.25v329.49M743 813.25v329.49M747 813.25v329.49M756 813.25v329.49M765 813.25v329.49M769 813.25v329.49M774 813.25v329.49M778 813.25v329.49M787 813.25v329.49M791 813.25v329.49M796 813.25v329.49M800 813.25v329.49M809 813.25v329.49M818 813.25v329.49M822 813.25v329.49M831 813.25v329.49M840 813.25v329.49M844 813.25v329.49M853 813.25v329.49M862 813.25v329.49M866 813.25v329.49M875 813.25v329.49M884 813.25v329.49M888 813.25v329.49M897 813.25v329.49M906 813.25v329.49M910 813.25v329.49M919 813.25v329.49M928 813.25v329.49M932 813.25v329.49M941 813.25v329.49M968 813.25v329.49M972 813.25v329.49M981 813.25v329.49M990 813.25v329.49M994 813.25v329.49M1003 813.25v329.49M1012 813.25v329.49M1016 813.25v329.49M1025 813.25v329.49M1034 813.25v329.49M1038 813.25v329.49M1047 813.25v329.49M1056 813.25v329.49M1060 813.25v329.49M1069 813.25v329.49M1078 813.25v329.49M1082 813.25v329.49M1091 813.25v329.49M1100 813.25v329.49M1104 813.25v329.49M1113 813.25v329.49M1117 813.25v329.49M1122 813.25v329.49M1126 813.25v329.49M1135 813.25v329.49M1139 813.25v329.49M1144 813.25v329.49M1148 813.25v329.49M1157 813.25v329.49M1161 813.25v329.49M1170 813.25v329.49M1179 813.25v329.49M1183 813.25v329.49M1192 813.25v329.49M1201 813.25v329.49M1205 813.25v329.49M1214 813.25v329.49M1223 813.25v329.49M1227 813.25v329.49M1236 813.25v329.49M1245 813.25v329.49M1249 813.25v329.49M1258 813.25v329.49M1267 813.25v329.49M1271 813.25v329.49M1280 813.25v329.49M1289 813.25v329.49M1293 813.25v329.49M1302 813.25v329.49M1311 813.25v329.49M1315 813.25v329.49M1324 813.25v329.49M1333 813.25v329.49M1337 813.25v329.49M1346 813.25v329.49M1355 813.25v329.49M1359 813.25v329.49M1368 813.25v329.49M1377 813.25v329.49M1381 813.25v329.49M1390 813.25v329.49M1399 813.25v329.49M1403 813.25v329.49M1412 813.25v329.49M1421 813.25v329.49M1425 813.25v329.49M1434 813.25v329.49M1443 813.25v329.49M1447 813.25v329.49M1456 813.25v329.49M1460 813.25v329.49M1465 813.25v329.49M1469 813.25v329.49M1478 813.25v329.49" stroke="#fff" stroke-opacity="0.1" stroke-width="1" transform="translate(0.5 0)" fill="none"/>
<path d="M109.49 715.5V722.6M113.87 715.5V722.6M118.26 715.5V722.6M122.64 715.5V722.6M127.02 715.5V722.6M131.4 715.5V722.6M135.79 715.5V722.6M140.17 715.5V722.6M144.55 715.5V722.6M148.93 715.5V722.6M153.31 715.5V722.6M157.7 715.5V722.6M162.08 715.5V722.6M166.46 715.5V722.6M170.84 715.5V722.6M175.23 715.5V722.6M179.61 715.5V722.6M183.99 715.5V722.6M188.37 715.5V722.6M192.76 715.5V722.6M197.14 715.5V722.6M201.52 715.5V722.6M205.9 715.5V722.6M210.29 715.5V722.6M214.67 715.5V722.6M219.05 715.5V722.6M223.43 715.5V722.6M227.81 715.5V722.6M232.2 715.5V722.6M236.58 715.5V722.6M240.96 715.5V722.6M245.34 715.5V722.6M249.73 715.5V722.6M254.11 715.5V722.6M258.49 715.5V722.6M262.87 715.5V722.6M267.26 715.5V722.6M271.64 715.5V722.6M276.02 715.5V722.6M280.4 715.5V722.6M284.79 715.5V722.6M289.17 715.5V722.6M293.55 715.5V722.6M297.93 715.5V722.6M302.31 715.5V722.6M306.7 715.5V722.6M311.08 715.5V722.6M315.46 715.5V722.6M319.84 715.5V722.6M324.23 715.5V722.6M328.61 715.5V722.6M332.99 715.5V722.6M337.37 715.5V722.6M341.76 715.5V722.6M346.14 715.5V722.6M350.52 715.5V722.6M354.9 715.5V722.6M359.29 715.5V722.6M363.67 715.5V722.6M368.05 715.5V722.6M372.43 715.5V722.6M376.81 715.5V722.6M381.2 715.5V722.6M385.58 715.5V722.6M389.96 715.5V722.6M394.34 715.5V722.6M398.73 715.5V722.6M403.11 715.5V722.6M421.19 715.5V722.6M425.56 715.5V722.6M429.94 715.5V722.6M434.31 715.5V722.6M438.69 715.5V722.6M443.06 715.5V722.6M447.43 715.5V722.6M451.81 715.5V722.6M456.18 715.5V722.6M460.56 715.5V722.6M464.93 715.5V722.6M469.31 715.5V722.6M473.68 715.5V722.6M478.06 715.5V722.6M482.43 715.5V722.6M486.81 715.5V722.6M491.18 715.5V722.6M495.56 715.5V722.6M499.93 715.5V722.6M504.3 715.5V722.6M508.68 715.5V722.6M513.05 715.5V722.6M517.43 715.5V722.6M521.8 715.5V722.6M526.18 715.5V722.6M530.55 715.5V722.6M534.93 715.5V722.6M539.3 715.5V722.6M543.68 715.5V722.6M548.05 715.5V722.6M552.43 715.5V722.6M556.8 715.5V722.6M561.17 715.5V722.6M565.55 715.5V722.6M569.92 715.5V722.6M574.3 715.5V722.6M578.67 715.5V722.6M583.05 715.5V722.6M587.42 715.5V722.6M591.8 715.5V722.6M596.17 715.5V722.6M600.55 715.5V722.6M604.92 715.5V722.6M609.3 715.5V722.6M613.67 715.5V722.6M618.04 715.5V722.6M622.42 715.5V722.6M626.79 715.5V722.6M631.17 715.5V722.6M635.54 715.5V722.6M639.92 715.5V722.6M644.29 715.5V722.6M648.67 715.5V722.6M653.04 715.5V722.6M657.42 715.5V722.6M661.79 715.5V722.6M666.17 715.5V722.6M670.54 715.5V722.6M674.91 715.5V722.6M679.29 715.5V722.6M683.66 715.5V722.6M688.04 715.5V722.6M692.41 715.5V722.6M710.49 715.5V722.6M714.86 715.5V722.6M719.23 715.5V722.6M723.6 715.5V722.6M727.98 715.5V722.6M732.35 715.5V722.6M736.72 715.5V722.6M741.1 715.5V722.6M745.47 715.5V722.6M749.84 715.5V722.6M754.21 715.5V722.6M758.59 715.5V722.6M762.96 715.5V722.6M767.33 715.5V722.6M771.7 715.5V722.6M776.08 715.5V722.6M780.45 715.5V722.6M784.82 715.5V722.6M789.2 715.5V722.6M793.57 715.5V722.6M797.94 715.5V722.6M802.31 715.5V722.6M806.69 715.5V722.6M811.06 715.5V722.6M815.43 715.5V722.6M819.8 715.5V722.6M824.18 715.5V722.6M828.55 715.5V722.6M832.92 715.5V722.6M837.3 715.5V722.6M841.67 715.5V722.6M846.04 715.5V722.6M850.41 715.5V722.6M854.79 715.5V722.6M859.16 715.5V722.6M863.53 715.5V722.6M867.9 715.5V722.6M872.28 715.5V722.6M876.65 715.5V722.6M881.02 715.5V722.6M885.4 715.5V722.6M889.77 715.5V722.6M894.14 715.5V722.6M898.51 715.5V722.6M902.89 715.5V722.6M907.26 715.5V722.6M911.63 715.5V722.6M916 715.5V722.6M920.38 715.5V722.6M924.75 715.5V722.6M929.12 715.5V722.6M933.5 715.5V722.6M937.87 715.5V722.6M942.24 715.5V722.6M946.61 715.5V722.6M964.49 715.5V722.6M968.86 715.5V722.6M973.23 715.5V722.6M977.6 715.5V722.6M981.98 715.5V722.6M986.35 715.5V722.6M990.72 715.5V722.6M995.09 715.5V722.6M999.46 715.5V722.6M1003.84 715.5V722.6M1008.21 715.5V722.6M1012.58 715.5V722.6M1016.95 715.5V722.6M1021.33 715.5V722.6M1025.7 715.5V722.6M1030.07 715.5V722.6M1034.44 715.5V722.6M1038.81 715.5V722.6M1043.19 715.5V722.6M1047.56 715.5V722.6M1051.93 715.5V722.6M1056.3 715.5V722.6M1060.68 715.5V722.6M1065.05 715.5V722.6M1069.42 715.5V722.6M1073.79 715.5V722.6M1078.17 715.5V722.6M1082.54 715.5V722.6M1086.91 715.5V722.6M1091.28 715.5V722.6M1095.65 715.5V722.6M1100.03 715.5V722.6M1104.4 715.5V722.6M1108.77 715.5V722.6M1113.14 715.5V722.6M1117.52 715.5V722.6M1121.89 715.5V722.6M1126.26 715.5V722.6M1130.63 715.5V722.6M1135 715.5V722.6M1139.38 715.5V722.6M1143.75 715.5V722.6M1148.12 715.5V722.6M1152.49 715.5V722.6M1156.87 715.5V722.6M1161.24 715.5V722.6M1165.61 715.5V722.6M1169.98 715.5V722.6M1174.36 715.5V722.6M1178.73 715.5V722.6M1183.1 715.5V722.6M1187.47 715.5V722.6M1191.84 715.5V722.6M1196.22 715.5V722.6M1200.59 715.5V722.6M1204.96 715.5V722.6M1209.33 715.5V722.6M1213.71 715.5V722.6M1218.08 715.5V722.6M1222.45 715.5V722.6M1226.82 715.5V722.6M1231.19 715.5V722.6M1235.57 715.5V722.6M1239.94 715.5V722.6M1244.31 715.5V722.6M1248.68 715.5V722.6M1253.06 715.5V722.6M1257.43 715.5V722.6M1261.8 715.5V722.6M1266.17 715.5V722.6M1270.54 715.5V722.6M1274.92 715.5V722.6M1279.29 715.5V722.6M1283.66 715.5V722.6M1288.03 715.5V722.6M1292.41 715.5V722.6M1296.78 715.5V722.6M1301.15 715.5V722.6M1305.52 715.5V722.6M1309.9 715.5V722.6M1314.27 715.5V722.6M1318.64 715.5V722.6M1323.01 715.5V722.6M1327.38 715.5V722.6M1331.76 715.5V722.6M1336.13 715.5V722.6M1340.5 715.5V722.6M1344.87 715.5V722.6M1349.25 715.5V722.6M1353.62 715.5V722.6M1357.99 715.5V722.6M1362.36 715.5V722.6M1366.73 715.5V722.6M1371.11 715.5V722.6M1375.48 715.5V722.6M1379.85 715.5V722.6M1384.22 715.5V722.6M1388.6 715.5V722.6M1392.97 715.5V722.6M1397.34 715.5V722.6M1401.71 715.5V722.6M1406.09 715.5V722.6M1410.46 715.5V722.6M1414.83 715.5V722.6M1419.2 715.5V722.6M1423.57 715.5V722.6M1427.95 715.5V722.6M1432.32 715.5V722.6M1436.69 715.5V722.6M1441.06 715.5V722.6M1445.44 715.5V722.6M1449.81 715.5V722.6M1454.18 715.5V722.6M1458.55 715.5V722.6M1462.92 715.5V722.6M1467.3 715.5V722.6M1471.67 715.5V722.6M1476.04 715.5V722.6M1480.41 715.5V722.6" stroke="#000" stroke-width="1.7" fill="none"/>
<path d="M102.2 1146.3V1153.6M106.61 1146.3V1153.6M111.01 1146.3V1153.6M115.42 1146.3V1153.6M119.82 1146.3V1153.6M124.22 1146.3V1153.6M128.63 1146.3V1153.6M133.03 1146.3V1153.6M137.44 1146.3V1153.6M141.84 1146.3V1153.6M146.25 1146.3V1153.6M150.65 1146.3V1153.6M155.06 1146.3V1153.6M159.46 1146.3V1153.6M163.86 1146.3V1153.6M168.27 1146.3V1153.6M172.67 1146.3V1153.6M177.08 1146.3V1153.6M181.48 1146.3V1153.6M185.89 1146.3V1153.6M190.29 1146.3V1153.6M194.69 1146.3V1153.6M199.1 1146.3V1153.6M203.5 1146.3V1153.6M207.91 1146.3V1153.6M212.31 1146.3V1153.6M216.72 1146.3V1153.6M221.12 1146.3V1153.6M225.53 1146.3V1153.6M229.93 1146.3V1153.6M234.33 1146.3V1153.6M238.74 1146.3V1153.6M243.14 1146.3V1153.6M247.55 1146.3V1153.6M251.95 1146.3V1153.6M256.36 1146.3V1153.6M260.76 1146.3V1153.6M265.17 1146.3V1153.6M269.57 1146.3V1153.6M273.97 1146.3V1153.6M278.38 1146.3V1153.6M282.78 1146.3V1153.6M287.19 1146.3V1153.6M291.59 1146.3V1153.6M296 1146.3V1153.6M300.4 1146.3V1153.6M304.81 1146.3V1153.6M309.21 1146.3V1153.6M313.61 1146.3V1153.6M318.02 1146.3V1153.6M322.42 1146.3V1153.6M326.83 1146.3V1153.6M331.23 1146.3V1153.6M335.64 1146.3V1153.6M340.04 1146.3V1153.6M344.44 1146.3V1153.6M348.85 1146.3V1153.6M353.25 1146.3V1153.6M357.66 1146.3V1153.6M362.06 1146.3V1153.6M366.47 1146.3V1153.6M370.87 1146.3V1153.6M375.28 1146.3V1153.6M379.68 1146.3V1153.6M384.08 1146.3V1153.6M388.49 1146.3V1153.6M392.89 1146.3V1153.6M397.3 1146.3V1153.6M415.2 1146.3V1153.6M419.6 1146.3V1153.6M424 1146.3V1153.6M428.4 1146.3V1153.6M432.8 1146.3V1153.6M437.2 1146.3V1153.6M441.6 1146.3V1153.6M446 1146.3V1153.6M450.4 1146.3V1153.6M454.8 1146.3V1153.6M459.2 1146.3V1153.6M463.6 1146.3V1153.6M468 1146.3V1153.6M472.4 1146.3V1153.6M476.8 1146.3V1153.6M481.2 1146.3V1153.6M485.6 1146.3V1153.6M490 1146.3V1153.6M494.4 1146.3V1153.6M498.8 1146.3V1153.6M503.2 1146.3V1153.6M507.6 1146.3V1153.6M512 1146.3V1153.6M516.4 1146.3V1153.6M520.8 1146.3V1153.6M525.2 1146.3V1153.6M529.6 1146.3V1153.6M534 1146.3V1153.6M538.4 1146.3V1153.6M542.8 1146.3V1153.6M547.2 1146.3V1153.6M551.6 1146.3V1153.6M556 1146.3V1153.6M560.4 1146.3V1153.6M564.8 1146.3V1153.6M569.2 1146.3V1153.6M573.6 1146.3V1153.6M578 1146.3V1153.6M582.4 1146.3V1153.6M586.8 1146.3V1153.6M591.2 1146.3V1153.6M595.6 1146.3V1153.6M600 1146.3V1153.6M604.4 1146.3V1153.6M608.8 1146.3V1153.6M613.2 1146.3V1153.6M617.6 1146.3V1153.6M622 1146.3V1153.6M626.4 1146.3V1153.6M630.8 1146.3V1153.6M635.2 1146.3V1153.6M639.6 1146.3V1153.6M644 1146.3V1153.6M648.4 1146.3V1153.6M652.8 1146.3V1153.6M657.2 1146.3V1153.6M661.6 1146.3V1153.6M666 1146.3V1153.6M670.4 1146.3V1153.6M674.8 1146.3V1153.6M679.2 1146.3V1153.6M683.6 1146.3V1153.6M688 1146.3V1153.6M705.95 1146.3V1153.6M710.35 1146.3V1153.6M714.76 1146.3V1153.6M719.16 1146.3V1153.6M723.56 1146.3V1153.6M727.97 1146.3V1153.6M732.37 1146.3V1153.6M736.77 1146.3V1153.6M741.17 1146.3V1153.6M745.58 1146.3V1153.6M749.98 1146.3V1153.6M754.38 1146.3V1153.6M758.78 1146.3V1153.6M763.19 1146.3V1153.6M767.59 1146.3V1153.6M771.99 1146.3V1153.6M776.39 1146.3V1153.6M780.8 1146.3V1153.6M785.2 1146.3V1153.6M789.6 1146.3V1153.6M794.01 1146.3V1153.6M798.41 1146.3V1153.6M802.81 1146.3V1153.6M807.21 1146.3V1153.6M811.62 1146.3V1153.6M816.02 1146.3V1153.6M820.42 1146.3V1153.6M824.83 1146.3V1153.6M829.23 1146.3V1153.6M833.63 1146.3V1153.6M838.03 1146.3V1153.6M842.44 1146.3V1153.6M846.84 1146.3V1153.6M851.24 1146.3V1153.6M855.64 1146.3V1153.6M860.05 1146.3V1153.6M864.45 1146.3V1153.6M868.85 1146.3V1153.6M873.25 1146.3V1153.6M877.66 1146.3V1153.6M882.06 1146.3V1153.6M886.46 1146.3V1153.6M890.87 1146.3V1153.6M895.27 1146.3V1153.6M899.67 1146.3V1153.6M904.07 1146.3V1153.6M908.48 1146.3V1153.6M912.88 1146.3V1153.6M917.28 1146.3V1153.6M921.68 1146.3V1153.6M926.09 1146.3V1153.6M930.49 1146.3V1153.6M934.89 1146.3V1153.6M939.3 1146.3V1153.6M943.7 1146.3V1153.6M961.7 1146.3V1153.6M966.1 1146.3V1153.6M970.49 1146.3V1153.6M974.89 1146.3V1153.6M979.29 1146.3V1153.6M983.69 1146.3V1153.6M988.08 1146.3V1153.6M992.48 1146.3V1153.6M996.88 1146.3V1153.6M1001.28 1146.3V1153.6M1005.67 1146.3V1153.6M1010.07 1146.3V1153.6M1014.47 1146.3V1153.6M1018.87 1146.3V1153.6M1023.26 1146.3V1153.6M1027.66 1146.3V1153.6M1032.06 1146.3V1153.6M1036.46 1146.3V1153.6M1040.85 1146.3V1153.6M1045.25 1146.3V1153.6M1049.65 1146.3V1153.6M1054.05 1146.3V1153.6M1058.44 1146.3V1153.6M1062.84 1146.3V1153.6M1067.24 1146.3V1153.6M1071.64 1146.3V1153.6M1076.03 1146.3V1153.6M1080.43 1146.3V1153.6M1084.83 1146.3V1153.6M1089.23 1146.3V1153.6M1093.62 1146.3V1153.6M1098.02 1146.3V1153.6M1102.42 1146.3V1153.6M1106.82 1146.3V1153.6M1111.21 1146.3V1153.6M1115.61 1146.3V1153.6M1120.01 1146.3V1153.6M1124.41 1146.3V1153.6M1128.8 1146.3V1153.6M1133.2 1146.3V1153.6M1137.6 1146.3V1153.6M1142 1146.3V1153.6M1146.39 1146.3V1153.6M1150.79 1146.3V1153.6M1155.19 1146.3V1153.6M1159.59 1146.3V1153.6M1163.98 1146.3V1153.6M1168.38 1146.3V1153.6M1172.78 1146.3V1153.6M1177.18 1146.3V1153.6M1181.57 1146.3V1153.6M1185.97 1146.3V1153.6M1190.37 1146.3V1153.6M1194.77 1146.3V1153.6M1199.16 1146.3V1153.6M1203.56 1146.3V1153.6M1207.96 1146.3V1153.6M1212.36 1146.3V1153.6M1216.75 1146.3V1153.6M1221.15 1146.3V1153.6M1225.55 1146.3V1153.6M1229.94 1146.3V1153.6M1234.34 1146.3V1153.6M1238.74 1146.3V1153.6M1243.14 1146.3V1153.6M1247.53 1146.3V1153.6M1251.93 1146.3V1153.6M1256.33 1146.3V1153.6M1260.73 1146.3V1153.6M1265.12 1146.3V1153.6M1269.52 1146.3V1153.6M1273.92 1146.3V1153.6M1278.32 1146.3V1153.6M1282.71 1146.3V1153.6M1287.11 1146.3V1153.6M1291.51 1146.3V1153.6M1295.91 1146.3V1153.6M1300.3 1146.3V1153.6M1304.7 1146.3V1153.6M1309.1 1146.3V1153.6M1313.5 1146.3V1153.6M1317.89 1146.3V1153.6M1322.29 1146.3V1153.6M1326.69 1146.3V1153.6M1331.09 1146.3V1153.6M1335.48 1146.3V1153.6M1339.88 1146.3V1153.6M1344.28 1146.3V1153.6M1348.68 1146.3V1153.6M1353.07 1146.3V1153.6M1357.47 1146.3V1153.6M1361.87 1146.3V1153.6M1366.27 1146.3V1153.6M1370.66 1146.3V1153.6M1375.06 1146.3V1153.6M1379.46 1146.3V1153.6M1383.86 1146.3V1153.6M1388.25 1146.3V1153.6M1392.65 1146.3V1153.6M1397.05 1146.3V1153.6M1401.45 1146.3V1153.6M1405.84 1146.3V1153.6M1410.24 1146.3V1153.6M1414.64 1146.3V1153.6M1419.04 1146.3V1153.6M1423.43 1146.3V1153.6M1427.83 1146.3V1153.6M1432.23 1146.3V1153.6M1436.63 1146.3V1153.6M1441.02 1146.3V1153.6M1445.42 1146.3V1153.6M1449.82 1146.3V1153.6M1454.22 1146.3V1153.6M1458.61 1146.3V1153.6M1463.01 1146.3V1153.6M1467.41 1146.3V1153.6M1471.81 1146.3V1153.6M1476.2 1146.3V1153.6M1480.6 1146.3V1153.6" stroke="#000" stroke-width="1.7" fill="none"/>
<text x="0.2" y="23.8" font-size="34.6" text-anchor="start" font-weight="bold" fill="#000">A</text>
<text x="1507.4" y="23.8" font-size="34.6" text-anchor="start" font-weight="bold" fill="#000">B</text>
<text x="-0.35" y="781" font-size="34.6" text-anchor="start" font-weight="bold" fill="#000">C</text>
<text x="1507.4" y="781" font-size="34.6" text-anchor="start" font-weight="bold" fill="#000">D</text>
<text x="264.8" y="27" font-size="18.6" text-anchor="middle" font-weight="bold" fill="#1a1a1a">One species</text>
<text x="563.4" y="27" font-size="18.6" text-anchor="middle" font-weight="bold" fill="#1a1a1a">Two species</text>
<text x="835.3" y="27" font-size="18.6" text-anchor="middle" font-weight="bold" fill="#1a1a1a">Three species</text>
<text x="1217.1" y="27" font-size="18.6" text-anchor="middle" font-weight="bold" fill="#1a1a1a">More than three species</text>
<text x="95.9" y="67.1" font-size="16.6" text-anchor="end" fill="#4D4D4D">HIS_00</text>
<text x="95.9" y="104.3" font-size="16.6" text-anchor="end" fill="#4D4D4D">TYR_00</text>
<text x="95.9" y="141.5" font-size="16.6" text-anchor="end" fill="#4D4D4D">PHE_00</text>
<text x="95.9" y="178.7" font-size="16.6" text-anchor="end" fill="#4D4D4D">TRP_00</text>
<text x="95.9" y="215.9" font-size="16.6" text-anchor="end" fill="#4D4D4D">CHO_00</text>
<text x="95.9" y="253.1" font-size="16.6" text-anchor="end" fill="#4D4D4D">PRO_00</text>
<text x="95.9" y="290.3" font-size="16.6" text-anchor="end" fill="#4D4D4D">ARG_00</text>
<text x="95.9" y="327.5" font-size="16.6" text-anchor="end" fill="#4D4D4D">GLN_00</text>
<text x="95.9" y="364.7" font-size="16.6" text-anchor="end" fill="#4D4D4D">GLU_00</text>
<text x="95.9" y="401.9" font-size="16.6" text-anchor="end" fill="#4D4D4D">GLY_00</text>
<text x="95.9" y="439.1" font-size="16.6" text-anchor="end" fill="#4D4D4D">CYS_00</text>
<text x="95.9" y="476.3" font-size="16.6" text-anchor="end" fill="#4D4D4D">SER_00</text>
<text x="95.9" y="513.5" font-size="16.6" text-anchor="end" fill="#4D4D4D">ILE_00</text>
<text x="95.9" y="550.7" font-size="16.6" text-anchor="end" fill="#4D4D4D">THR_00</text>
<text x="95.9" y="587.9" font-size="16.6" text-anchor="end" fill="#4D4D4D">LYS_00</text>
<text x="95.9" y="625.1" font-size="16.6" text-anchor="end" fill="#4D4D4D">MET_00</text>
<text x="95.9" y="662.3" font-size="16.6" text-anchor="end" fill="#4D4D4D">LEU_00</text>
<text x="95.9" y="699.5" font-size="16.6" text-anchor="end" fill="#4D4D4D">VAL_00</text>
<text x="88.6" y="837.95" font-size="16.6" text-anchor="end" fill="#4D4D4D">B12_01</text>
<text x="88.6" y="874.56" font-size="16.6" text-anchor="end" fill="#4D4D4D">B12_00</text>
<text x="88.6" y="911.17" font-size="16.6" text-anchor="end" fill="#4D4D4D">B09_00</text>
<text x="88.6" y="947.78" font-size="16.6" text-anchor="end" fill="#4D4D4D">B07_00</text>
<text x="88.6" y="984.39" font-size="16.6" text-anchor="end" fill="#4D4D4D">B06_00</text>
<text x="88.6" y="1021" font-size="16.6" text-anchor="end" fill="#4D4D4D">B05_00</text>
<text x="88.6" y="1057.62" font-size="16.6" text-anchor="end" fill="#4D4D4D">B03_00</text>
<text x="88.6" y="1094.23" font-size="16.6" text-anchor="end" fill="#4D4D4D">B02_00</text>
<text x="88.6" y="1130.84" font-size="16.6" text-anchor="end" fill="#4D4D4D">B01_00</text>
<text x="20.8" y="371" font-size="25.6" text-anchor="middle" fill="#000" transform="rotate(-90 20.8 371)">Amino acid modules</text>
<text x="20.8" y="975.6" font-size="25.6" text-anchor="middle" fill="#000" transform="rotate(-90 20.8 975.6)">B vitamin modules</text>
<text x="749" y="1181.6" font-size="25.6" text-anchor="middle" fill="#000">Genomes</text>
<defs>
<linearGradient id="gb" x1="0" x2="1" y1="0" y2="0"><stop offset="0" stop-color="#FFFFFF"/><stop offset="0.1" stop-color="#FFF9F3"/><stop offset="0.25" stop-color="#FEF1E4"/><stop offset="0.4" stop-color="#FDE9D5"/><stop offset="0.5" stop-color="#FCE3C9"/><stop offset="0.6" stop-color="#F0CCA8"/><stop offset="0.75" stop-color="#D9A877"/><stop offset="0.9" stop-color="#B57937"/><stop offset="1" stop-color="#9C5A0C"/></linearGradient>
<linearGradient id="gg" x1="0" x2="1" y1="0" y2="0"><stop offset="0" stop-color="#FFFFFF"/><stop offset="0.1" stop-color="#F6FCFA"/><stop offset="0.25" stop-color="#E6F6F1"/><stop offset="0.4" stop-color="#D8F1E8"/><stop offset="0.5" stop-color="#CFECE2"/><stop offset="0.6" stop-color="#AACFC2"/><stop offset="0.75" stop-color="#77A595"/><stop offset="0.9" stop-color="#3D6F5D"/><stop offset="1" stop-color="#154D3B"/></linearGradient>
</defs>
<text x="0" y="1215.2" font-size="21.4" text-anchor="start" fill="#000" style="font-family:'DejaVu Sans','Liberation Sans',sans-serif">Module</text>
<text x="0" y="1243" font-size="21.4" text-anchor="start" fill="#000" style="font-family:'DejaVu Sans','Liberation Sans',sans-serif">completeness</text>
<rect x="178.7" y="1215.2" width="165.1" height="33.6" fill="url(#gb)"/>
<path d="M219.97 1215.2v6.7M219.97 1248.8v-6.7" stroke="#fff" stroke-width="1.2"/>
<path d="M261.25 1215.2v6.7M261.25 1248.8v-6.7" stroke="#fff" stroke-width="1.2"/>
<path d="M302.52 1215.2v6.7M302.52 1248.8v-6.7" stroke="#fff" stroke-width="1.2"/>
<text x="263" y="1206.6" font-size="19.6" text-anchor="middle" fill="#000">Single (1 species)</text>
<text x="173.2" y="1271.2" font-size="16.9" text-anchor="middle" fill="#000">0.0</text>
<text x="219.3" y="1271.2" font-size="16.9" text-anchor="middle" fill="#000">0.25</text>
<text x="260.8" y="1271.2" font-size="16.9" text-anchor="middle" fill="#000">0.50</text>
<text x="302.1" y="1271.2" font-size="16.9" text-anchor="middle" fill="#000">0.75</text>
<text x="338.8" y="1271.2" font-size="16.9" text-anchor="middle" fill="#000">1.0</text>
<rect x="402.5" y="1215.2" width="165.1" height="33.6" fill="url(#gg)"/>
<path d="M443.77 1215.2v6.7M443.77 1248.8v-6.7" stroke="#fff" stroke-width="1.2"/>
<path d="M485.05 1215.2v6.7M485.05 1248.8v-6.7" stroke="#fff" stroke-width="1.2"/>
<path d="M526.33 1215.2v6.7M526.33 1248.8v-6.7" stroke="#fff" stroke-width="1.2"/>
<text x="478.8" y="1206.6" font-size="19.6" text-anchor="middle" fill="#000">Group (≥ 2 species)</text>
<text x="396.3" y="1271.2" font-size="16.9" text-anchor="middle" fill="#000">0.0</text>
<text x="442.5" y="1271.2" font-size="16.9" text-anchor="middle" fill="#000">0.25</text>
<text x="483.8" y="1271.2" font-size="16.9" text-anchor="middle" fill="#000">0.50</text>
<text x="525" y="1271.2" font-size="16.9" text-anchor="middle" fill="#000">0.75</text>
<text x="562" y="1271.2" font-size="16.9" text-anchor="middle" fill="#000">1.0</text>
<rect x="1592.2" y="37" width="406.8" height="654" fill="#fff"/>
<path d="M1592.2 659H1999M1592.2 512.65H1999M1592.2 366.3H1999M1592.2 219.95H1999M1592.2 73.6H1999" stroke="#EBEBEB" stroke-width="2.4" fill="none"/>
<path d="M1650.2 37V691M1747.4 37V691M1844.6 37V691M1941.8 37V691" stroke="#EBEBEB" stroke-width="2.1" fill="none"/>
<g stroke="#FBC896" stroke-opacity="0.3" stroke-width="6.9" stroke-linecap="round" fill="none">
<path d="M1641.9 74.8h.01M1672.6 75.2h.01M1648.0 74.3h.01M1667.8 74.3h.01M1634.6 74.9h.01M1635.0 74.5h.01M1645.1 74.0h.01M1643.8 74.9h.01M1667.3 72.9h.01M1628.0 74.4h.01M1630.7 73.0h.01M1633.6 72.5h.01M1638.9 73.9h.01M1660.8 73.4h.01M1648.0 73.5h.01M1634.0 72.8h.01M1652.7 73.8h.01M1633.7 72.1h.01M1639.3 74.9h.01M1635.6 73.7h.01M1630.0 72.8h.01M1641.2 74.1h.01M1660.4 72.3h.01M1654.2 72.2h.01M1657.7 75.1h.01M1661.6 74.3h.01M1665.2 114.6h.01M1626.9 138.6h.01M1643.7 138.8h.01M1660.5 140.2h.01M1634.6 158.5h.01M1646.2 157.2h.01M1628.2 156.6h.01M1648.2 157.1h.01M1640.9 171.5h.01M1642.6 191.0h.01M1658.0 189.1h.01M1657.9 220.4h.01M1635.8 241.7h.01M1641.6 242.1h.01M1665.4 267.6h.01M1631.2 268.5h.01M1633.9 267.2h.01M1672.4 268.2h.01M1627.2 269.1h.01M1641.4 268.3h.01M1656.8 290.2h.01M1670.2 325.1h.01M1628.6 463.8h.01M1662.6 540.9h.01"/>
<path d="M1657.3 75.1h.01M1667.0 74.3h.01M1664.0 72.9h.01M1659.4 73.3h.01M1629.5 72.7h.01M1637.7 73.7h.01M1631.6 73.1h.01M1666.6 71.9h.01M1639.0 74.1h.01M1638.9 72.9h.01M1669.5 72.6h.01M1672.8 73.0h.01M1632.9 72.2h.01M1642.0 73.5h.01M1649.2 72.0h.01M1657.7 74.9h.01M1627.5 74.2h.01M1653.5 72.9h.01M1651.5 74.5h.01M1670.6 75.0h.01M1638.7 74.8h.01M1626.8 74.0h.01M1645.0 74.2h.01M1658.8 72.9h.01M1661.3 74.5h.01M1653.4 75.3h.01M1647.8 139.4h.01M1647.9 139.3h.01M1639.6 140.2h.01M1661.1 138.8h.01M1636.5 155.9h.01M1644.4 157.9h.01M1668.8 157.4h.01M1628.6 156.3h.01M1671.8 170.9h.01M1658.8 191.7h.01M1633.6 202.4h.01M1644.3 220.5h.01M1668.9 243.2h.01M1626.9 239.8h.01M1655.2 269.1h.01M1660.1 268.7h.01M1653.9 269.1h.01M1670.4 269.0h.01M1658.6 269.6h.01M1643.5 268.8h.01M1630.9 307.2h.01M1669.2 365.9h.01M1662.3 465.7h.01M1648.2 543.0h.01"/>
<path d="M1651.9 74.1h.01M1633.5 74.9h.01M1638.2 73.3h.01M1654.0 73.8h.01M1632.8 74.5h.01M1654.4 74.4h.01M1629.6 75.1h.01M1648.6 73.7h.01M1634.6 72.6h.01M1671.7 73.8h.01M1662.0 73.7h.01M1643.2 73.4h.01M1643.3 73.7h.01M1652.8 72.6h.01M1659.6 72.3h.01M1668.2 72.0h.01M1656.0 73.6h.01M1630.9 75.2h.01M1631.8 74.8h.01M1665.2 73.8h.01M1630.7 72.4h.01M1649.0 73.6h.01M1673.0 74.8h.01M1637.5 75.2h.01M1630.2 74.4h.01M1629.6 74.4h.01M1636.6 137.0h.01M1633.3 139.1h.01M1631.5 137.4h.01M1662.1 138.1h.01M1650.1 158.3h.01M1629.6 158.1h.01M1654.3 159.1h.01M1637.6 155.8h.01M1668.2 171.4h.01M1664.2 189.8h.01M1636.7 218.3h.01M1634.7 221.7h.01M1646.0 239.6h.01M1669.8 240.4h.01M1641.7 269.0h.01M1637.7 268.8h.01M1645.3 266.8h.01M1667.4 268.7h.01M1641.4 269.6h.01M1667.3 266.8h.01M1644.1 307.7h.01M1665.5 367.5h.01M1666.1 465.4h.01M1648.9 543.3h.01"/>
<path d="M1629.4 73.6h.01M1641.2 72.5h.01M1651.4 72.3h.01M1666.2 72.0h.01M1645.1 72.3h.01M1626.9 73.9h.01M1636.5 74.8h.01M1630.7 75.0h.01M1651.7 72.6h.01M1670.7 71.9h.01M1635.1 72.6h.01M1632.9 75.3h.01M1654.1 72.2h.01M1631.7 73.4h.01M1671.0 74.4h.01M1637.0 72.0h.01M1629.7 71.9h.01M1659.0 73.9h.01M1629.1 74.6h.01M1650.0 72.4h.01M1667.6 73.0h.01M1636.1 73.6h.01M1660.7 73.1h.01M1633.0 74.1h.01M1661.0 74.6h.01M1658.3 72.9h.01M1636.6 138.3h.01M1641.6 137.4h.01M1640.1 137.0h.01M1640.2 140.2h.01M1669.3 155.6h.01M1672.2 158.6h.01M1645.1 155.8h.01M1657.0 158.0h.01M1637.7 172.3h.01M1650.4 191.7h.01M1633.4 221.5h.01M1639.9 220.5h.01M1662.7 243.2h.01M1671.0 243.3h.01M1663.5 270.0h.01M1655.9 267.9h.01M1650.5 269.5h.01M1638.9 267.6h.01M1664.1 268.4h.01M1643.8 269.6h.01M1633.6 308.8h.01M1663.6 367.3h.01M1654.9 463.9h.01M1632.7 575.3h.01"/>
<path d="M1628.5 73.8h.01M1635.2 73.3h.01M1661.0 74.3h.01M1649.0 73.0h.01M1630.5 73.8h.01M1644.1 73.4h.01M1642.7 75.2h.01M1642.8 74.4h.01M1642.2 74.6h.01M1671.6 74.1h.01M1642.3 72.5h.01M1672.3 73.1h.01M1646.5 72.1h.01M1638.4 74.4h.01M1653.0 72.0h.01M1645.4 73.6h.01M1663.8 71.9h.01M1630.1 72.1h.01M1641.4 74.3h.01M1645.2 73.6h.01M1640.0 74.5h.01M1626.9 74.4h.01M1628.8 72.4h.01M1631.6 72.4h.01M1661.5 71.9h.01M1658.5 74.3h.01M1633.4 138.5h.01M1626.8 137.7h.01M1638.4 139.4h.01M1670.3 139.9h.01M1647.8 158.6h.01M1650.4 156.9h.01M1665.5 156.1h.01M1632.7 158.2h.01M1671.8 170.6h.01M1672.3 191.3h.01M1629.5 220.3h.01M1671.6 221.3h.01M1628.3 243.1h.01M1637.7 241.1h.01M1636.0 267.6h.01M1661.9 267.3h.01M1664.7 268.0h.01M1671.1 269.9h.01M1629.7 269.9h.01M1660.9 269.6h.01M1651.2 323.2h.01M1645.7 365.1h.01M1656.2 464.7h.01M1631.0 659.1h.01"/>
<path d="M1630.0 75.0h.01M1656.7 74.0h.01M1672.8 74.9h.01M1629.6 72.9h.01M1652.5 72.3h.01M1671.5 72.9h.01M1626.7 74.8h.01M1665.7 74.8h.01M1664.8 71.9h.01M1637.1 74.6h.01M1672.4 74.0h.01M1651.4 72.1h.01M1650.3 73.5h.01M1663.0 73.6h.01M1666.2 74.9h.01M1673.2 72.4h.01M1631.6 74.4h.01M1656.5 72.5h.01M1662.4 74.3h.01M1659.0 71.9h.01M1640.5 73.7h.01M1630.9 74.0h.01M1668.6 73.2h.01M1653.0 73.2h.01M1649.9 74.0h.01M1651.0 73.7h.01M1671.5 139.9h.01M1666.1 139.9h.01M1650.7 139.7h.01M1648.9 139.1h.01M1635.7 158.7h.01M1667.3 158.3h.01M1672.4 158.2h.01M1656.6 156.6h.01M1641.1 192.4h.01M1665.2 191.6h.01M1668.9 218.6h.01M1672.0 221.0h.01M1669.9 242.2h.01M1671.7 238.9h.01M1638.3 270.1h.01M1657.9 269.9h.01M1673.3 269.9h.01M1654.7 268.1h.01M1645.3 268.4h.01M1627.0 267.1h.01M1631.8 324.8h.01M1665.7 367.4h.01M1646.4 463.8h.01M1650.7 660.1h.01"/>
<path d="M1646.7 72.5h.01M1652.4 75.1h.01M1646.4 72.7h.01M1657.1 71.9h.01M1665.2 72.3h.01M1650.9 73.2h.01M1631.5 74.1h.01M1627.8 72.0h.01M1666.8 72.5h.01M1635.9 74.6h.01M1645.6 72.0h.01M1647.1 72.3h.01M1651.3 75.3h.01M1653.1 72.7h.01M1632.4 73.8h.01M1634.3 73.8h.01M1628.6 72.6h.01M1630.6 72.3h.01M1650.2 74.7h.01M1642.8 72.4h.01M1634.1 73.8h.01M1628.7 75.3h.01M1661.2 72.5h.01M1656.1 73.0h.01M1649.2 73.0h.01M1648.6 74.9h.01M1665.3 138.5h.01M1670.2 137.8h.01M1644.2 137.0h.01M1640.7 137.7h.01M1642.8 158.7h.01M1639.4 158.2h.01M1631.8 158.5h.01M1632.0 158.8h.01M1650.1 190.1h.01M1637.1 189.8h.01M1661.1 218.2h.01M1643.5 239.5h.01M1661.8 239.2h.01M1644.9 242.2h.01M1628.3 268.4h.01M1666.2 269.3h.01M1649.0 267.4h.01M1636.9 269.0h.01M1656.7 270.0h.01M1646.6 267.4h.01M1664.5 323.1h.01M1637.0 454.1h.01M1646.7 463.5h.01M1656.6 660.0h.01"/>
<path d="M1632.5 74.6h.01M1629.5 74.6h.01M1633.8 73.6h.01M1665.3 74.4h.01M1639.8 73.9h.01M1658.5 75.2h.01M1627.9 72.3h.01M1651.5 74.8h.01M1665.2 72.8h.01M1656.0 72.2h.01M1660.8 74.8h.01M1665.5 74.6h.01M1647.4 74.7h.01M1669.6 73.8h.01M1630.1 74.5h.01M1650.9 74.2h.01M1639.4 74.9h.01M1629.8 72.3h.01M1643.0 75.3h.01M1659.9 73.1h.01M1639.1 72.0h.01M1641.0 74.5h.01M1633.2 73.5h.01M1649.7 75.3h.01M1662.7 73.2h.01M1668.7 74.7h.01M1668.4 137.9h.01M1669.1 139.3h.01M1668.3 137.5h.01M1672.6 158.2h.01M1637.9 158.2h.01M1645.5 157.5h.01M1651.3 156.7h.01M1651.3 157.0h.01M1646.4 191.5h.01M1640.6 189.1h.01M1670.5 220.5h.01M1665.3 241.3h.01M1642.6 242.1h.01M1646.9 241.1h.01M1642.0 266.9h.01M1653.3 269.0h.01M1666.2 267.1h.01M1633.3 269.6h.01M1634.4 267.9h.01M1645.8 267.2h.01M1636.0 326.0h.01M1651.0 464.5h.01M1647.7 464.3h.01M1661.2 658.3h.01"/>
<path d="M1656.2 72.0h.01M1658.7 73.9h.01M1628.5 73.0h.01M1644.8 73.0h.01M1643.6 72.3h.01M1669.0 72.6h.01M1655.6 74.8h.01M1652.2 75.3h.01M1637.4 73.5h.01M1666.2 73.7h.01M1632.7 74.8h.01M1638.5 74.3h.01M1626.9 72.5h.01M1655.5 73.6h.01M1630.1 73.0h.01M1635.9 74.2h.01M1646.5 72.2h.01M1648.0 74.2h.01M1638.5 75.3h.01M1645.7 74.1h.01M1672.4 73.4h.01M1654.2 73.5h.01M1650.4 72.4h.01M1664.2 72.7h.01M1656.9 75.1h.01M1672.7 72.1h.01M1637.6 137.2h.01M1644.2 139.0h.01M1656.4 137.1h.01M1657.5 158.0h.01M1653.5 156.0h.01M1671.5 156.1h.01M1671.0 156.5h.01M1644.9 158.3h.01M1658.1 189.2h.01M1650.0 191.8h.01M1635.4 218.4h.01M1629.0 241.1h.01M1671.7 240.5h.01M1670.3 250.3h.01M1668.2 266.8h.01M1661.4 269.6h.01M1628.6 269.3h.01M1638.7 268.2h.01M1646.0 269.3h.01M1648.4 269.7h.01M1671.0 323.1h.01M1632.5 465.0h.01M1627.8 512.6h.01"/>
<path d="M1653.8 74.0h.01M1641.5 73.3h.01M1662.6 73.3h.01M1627.8 73.7h.01M1671.7 74.8h.01M1667.8 72.6h.01M1638.6 74.1h.01M1651.5 71.9h.01M1643.4 75.3h.01M1657.4 72.5h.01M1669.2 72.5h.01M1638.0 73.3h.01M1634.8 73.7h.01M1650.8 72.9h.01M1663.5 72.2h.01M1660.6 75.3h.01M1665.2 74.4h.01M1652.7 72.1h.01M1661.2 73.4h.01M1629.3 74.9h.01M1638.2 72.0h.01M1662.0 73.0h.01M1664.5 72.5h.01M1650.3 73.5h.01M1633.6 74.5h.01M1627.5 73.7h.01M1649.5 140.2h.01M1673.6 138.3h.01M1670.9 138.4h.01M1652.9 157.7h.01M1661.9 157.6h.01M1667.7 159.0h.01M1657.1 156.4h.01M1654.9 173.1h.01M1637.4 192.3h.01M1637.2 191.0h.01M1661.8 221.6h.01M1644.2 239.1h.01M1639.0 240.0h.01M1664.4 248.4h.01M1639.1 270.0h.01M1638.3 269.4h.01M1632.3 269.6h.01M1657.3 269.6h.01M1641.2 266.9h.01M1627.4 268.4h.01M1649.4 326.3h.01M1660.8 462.7h.01M1649.7 542.8h.01"/>
</g>
<g stroke="#7ACBB1" stroke-opacity="0.3" stroke-width="6.9" stroke-linecap="round" fill="none">
<path d="M1747.9 75.2h.01M1759.4 74.8h.01M1729.3 73.5h.01M1758.8 75.2h.01M1724.0 74.1h.01M1724.4 73.1h.01M1733.3 73.2h.01M1734.8 75.2h.01M1758.9 72.0h.01M1733.9 73.2h.01M1762.4 72.2h.01M1738.9 73.9h.01M1764.4 75.0h.01M1756.8 73.6h.01M1741.7 72.3h.01M1765.5 74.5h.01M1770.1 72.6h.01M1766.6 73.8h.01M1753.5 74.5h.01M1728.7 73.3h.01M1724.5 73.9h.01M1734.5 72.0h.01M1737.1 74.5h.01M1754.7 74.5h.01M1748.8 72.8h.01M1755.2 72.4h.01M1739.8 108.7h.01M1739.5 139.2h.01M1752.9 138.1h.01M1738.1 138.9h.01M1743.3 158.7h.01M1757.4 156.1h.01M1746.8 158.9h.01M1757.0 156.2h.01M1762.3 170.0h.01M1752.4 190.1h.01M1732.4 219.2h.01M1764.6 220.0h.01M1766.7 242.6h.01M1766.3 239.6h.01M1746.5 242.2h.01M1745.2 269.1h.01M1738.8 267.1h.01M1758.0 269.3h.01M1727.6 270.0h.01M1747.1 270.2h.01M1739.0 267.8h.01M1756.8 325.8h.01M1730.8 366.0h.01M1762.2 462.8h.01"/>
<path d="M1747.6 74.0h.01M1766.0 74.4h.01M1753.8 74.1h.01M1762.4 74.5h.01M1728.9 74.1h.01M1750.3 74.1h.01M1747.7 73.1h.01M1739.7 72.7h.01M1759.0 74.2h.01M1727.6 72.2h.01M1727.0 72.3h.01M1724.9 74.5h.01M1762.4 74.8h.01M1729.1 73.1h.01M1734.9 73.7h.01M1732.9 74.3h.01M1758.4 73.8h.01M1750.9 72.7h.01M1743.8 73.8h.01M1749.3 72.8h.01M1743.7 72.9h.01M1740.5 73.1h.01M1738.1 73.7h.01M1728.7 74.9h.01M1744.5 72.3h.01M1741.5 73.9h.01M1741.1 132.1h.01M1738.0 138.3h.01M1756.6 138.2h.01M1738.9 138.8h.01M1754.2 158.3h.01M1758.2 158.8h.01M1741.2 157.0h.01M1739.5 156.9h.01M1725.9 189.5h.01M1745.8 191.7h.01M1741.0 219.7h.01M1750.6 220.8h.01M1752.0 241.4h.01M1763.2 242.6h.01M1735.1 242.3h.01M1762.6 268.6h.01M1729.3 266.9h.01M1769.9 270.2h.01M1752.5 268.6h.01M1766.7 268.6h.01M1741.8 267.7h.01M1724.7 324.4h.01M1759.0 367.5h.01M1726.4 464.0h.01"/>
<path d="M1768.6 74.9h.01M1762.2 74.9h.01M1764.9 73.4h.01M1753.9 71.9h.01M1734.4 73.3h.01M1754.2 73.8h.01M1762.1 74.7h.01M1756.6 72.4h.01M1765.3 74.2h.01M1730.7 75.3h.01M1766.9 72.0h.01M1737.2 72.8h.01M1724.0 74.6h.01M1727.7 72.6h.01M1748.9 72.7h.01M1756.9 72.4h.01M1733.1 73.1h.01M1743.7 74.6h.01M1753.1 73.9h.01M1748.0 73.1h.01M1740.4 74.4h.01M1762.4 72.5h.01M1744.0 73.1h.01M1734.9 72.6h.01M1750.0 74.4h.01M1769.0 75.1h.01M1748.6 137.6h.01M1753.7 137.6h.01M1755.9 139.6h.01M1754.1 137.1h.01M1731.0 159.0h.01M1753.4 156.6h.01M1744.5 156.7h.01M1769.8 156.1h.01M1762.1 189.4h.01M1735.9 189.8h.01M1742.8 219.9h.01M1760.5 220.2h.01M1729.5 239.4h.01M1760.9 240.3h.01M1755.7 242.7h.01M1753.4 269.8h.01M1726.6 267.2h.01M1761.8 269.1h.01M1736.8 269.6h.01M1764.9 269.4h.01M1726.8 267.2h.01M1751.0 324.7h.01M1762.7 364.8h.01M1768.9 462.5h.01"/>
<path d="M1764.2 71.9h.01M1747.5 72.1h.01M1751.2 72.3h.01M1751.4 73.0h.01M1751.6 74.6h.01M1767.9 72.8h.01M1738.4 74.3h.01M1757.3 74.4h.01M1735.1 72.2h.01M1728.9 72.1h.01M1728.9 74.6h.01M1741.2 74.2h.01M1759.7 71.9h.01M1756.7 72.6h.01M1759.3 73.1h.01M1731.2 74.8h.01M1728.9 74.6h.01M1757.8 72.3h.01M1755.6 72.1h.01M1762.9 73.5h.01M1734.4 72.8h.01M1745.9 74.3h.01M1754.9 74.1h.01M1740.2 74.8h.01M1734.9 74.9h.01M1753.8 73.1h.01M1733.8 138.8h.01M1725.8 137.8h.01M1755.2 138.7h.01M1726.5 138.3h.01M1724.1 156.7h.01M1745.5 155.8h.01M1730.7 156.3h.01M1752.2 158.0h.01M1750.8 191.5h.01M1761.1 190.8h.01M1730.9 221.5h.01M1768.4 219.0h.01M1736.0 240.8h.01M1754.3 239.3h.01M1757.6 269.6h.01M1734.3 270.1h.01M1755.3 269.6h.01M1730.5 270.3h.01M1752.7 267.8h.01M1732.6 267.4h.01M1768.7 268.6h.01M1756.9 326.1h.01M1742.2 366.6h.01M1735.6 464.3h.01"/>
<path d="M1758.3 72.5h.01M1733.7 74.4h.01M1728.8 71.9h.01M1738.6 75.3h.01M1753.2 73.7h.01M1735.6 72.2h.01M1726.2 72.2h.01M1749.9 73.8h.01M1753.5 72.9h.01M1740.1 74.9h.01M1729.2 75.2h.01M1769.2 73.6h.01M1724.1 73.6h.01M1753.4 74.1h.01M1740.3 74.2h.01M1735.5 74.2h.01M1742.2 75.2h.01M1760.3 72.9h.01M1732.5 73.1h.01M1743.2 72.0h.01M1768.1 73.5h.01M1749.7 74.9h.01M1767.6 72.4h.01M1766.4 72.6h.01M1747.1 75.2h.01M1725.2 73.2h.01M1743.8 138.4h.01M1765.5 138.4h.01M1759.7 140.0h.01M1725.8 139.9h.01M1729.6 155.7h.01M1735.8 155.7h.01M1741.0 156.8h.01M1744.0 155.9h.01M1763.9 189.6h.01M1728.0 197.2h.01M1770.8 220.4h.01M1762.4 218.3h.01M1754.0 239.4h.01M1726.5 242.3h.01M1725.6 267.0h.01M1757.4 268.4h.01M1746.3 269.3h.01M1763.0 268.4h.01M1762.0 268.2h.01M1741.2 269.7h.01M1748.0 268.4h.01M1764.8 365.5h.01M1763.4 366.2h.01M1753.6 464.5h.01"/>
<path d="M1733.0 71.9h.01M1747.7 74.2h.01M1753.5 74.0h.01M1725.5 74.8h.01M1730.2 72.1h.01M1726.0 73.5h.01M1760.7 72.8h.01M1761.0 73.5h.01M1755.2 71.9h.01M1725.3 75.2h.01M1763.7 72.5h.01M1763.9 73.2h.01M1747.0 72.6h.01M1742.8 74.0h.01M1731.2 72.4h.01M1748.4 74.8h.01M1742.7 72.6h.01M1764.0 73.0h.01M1760.5 74.0h.01M1733.8 73.0h.01M1734.2 72.5h.01M1763.1 74.1h.01M1726.6 72.4h.01M1731.8 72.2h.01M1745.9 74.8h.01M1756.0 72.1h.01M1762.8 139.3h.01M1726.2 139.3h.01M1732.4 140.2h.01M1762.0 138.3h.01M1728.0 156.0h.01M1757.6 159.0h.01M1753.5 157.6h.01M1741.6 156.7h.01M1756.1 189.2h.01M1760.2 199.2h.01M1728.9 219.5h.01M1735.8 242.6h.01M1755.4 241.4h.01M1759.4 239.5h.01M1734.3 267.0h.01M1730.7 267.2h.01M1736.0 269.6h.01M1732.6 268.8h.01M1733.4 270.1h.01M1741.3 268.2h.01M1749.2 290.2h.01M1726.0 367.6h.01M1742.5 364.8h.01M1748.8 542.9h.01"/>
<path d="M1747.0 72.0h.01M1725.6 74.7h.01M1761.4 74.4h.01M1752.9 73.8h.01M1735.3 74.8h.01M1743.0 74.5h.01M1724.2 72.4h.01M1736.4 73.1h.01M1746.0 72.4h.01M1756.5 73.1h.01M1753.7 72.5h.01M1725.4 73.9h.01M1732.6 73.6h.01M1765.7 75.1h.01M1755.0 72.8h.01M1739.3 74.7h.01M1756.5 73.6h.01M1754.1 73.8h.01M1746.9 71.9h.01M1742.3 72.7h.01M1742.3 74.6h.01M1763.9 74.4h.01M1766.5 72.6h.01M1752.5 72.6h.01M1747.0 73.6h.01M1739.4 71.9h.01M1762.8 138.9h.01M1724.2 139.7h.01M1760.3 137.1h.01M1767.1 157.5h.01M1730.0 159.0h.01M1724.6 156.8h.01M1742.0 156.3h.01M1752.2 170.0h.01M1740.2 192.1h.01M1751.1 196.9h.01M1760.9 221.2h.01M1733.3 242.1h.01M1745.0 242.2h.01M1755.7 241.7h.01M1764.6 267.2h.01M1736.4 268.8h.01M1741.0 266.8h.01M1766.8 269.5h.01M1758.3 268.9h.01M1724.1 268.5h.01M1769.4 309.4h.01M1747.1 366.3h.01M1760.4 464.6h.01M1744.3 541.9h.01"/>
<path d="M1767.0 74.8h.01M1731.5 72.1h.01M1770.5 73.3h.01M1748.0 72.2h.01M1728.4 73.1h.01M1726.6 72.6h.01M1758.9 73.7h.01M1769.3 74.6h.01M1756.7 72.3h.01M1756.7 72.8h.01M1753.6 74.3h.01M1744.4 72.6h.01M1740.2 72.4h.01M1765.7 75.3h.01M1731.9 73.8h.01M1769.7 72.8h.01M1753.6 73.7h.01M1738.6 73.1h.01M1725.7 73.4h.01M1729.7 71.9h.01M1730.0 72.6h.01M1741.6 74.5h.01M1730.5 72.4h.01M1755.3 72.2h.01M1749.3 72.3h.01M1747.9 73.7h.01M1747.6 139.4h.01M1767.2 138.2h.01M1754.7 139.0h.01M1724.6 157.7h.01M1757.7 158.2h.01M1762.3 158.8h.01M1768.3 156.3h.01M1761.9 172.1h.01M1749.9 189.6h.01M1765.5 205.2h.01M1752.0 220.5h.01M1727.8 242.6h.01M1769.3 239.3h.01M1751.7 240.1h.01M1730.5 268.7h.01M1731.2 269.3h.01M1770.8 267.0h.01M1750.8 269.8h.01M1757.8 270.1h.01M1744.9 268.5h.01M1732.5 310.1h.01M1737.0 367.6h.01M1735.2 464.6h.01M1724.9 660.3h.01"/>
<path d="M1761.0 72.1h.01M1755.8 72.2h.01M1740.8 72.7h.01M1730.1 74.6h.01M1764.9 72.6h.01M1724.5 73.4h.01M1758.8 73.8h.01M1765.3 75.3h.01M1744.4 72.8h.01M1727.0 73.3h.01M1728.6 75.0h.01M1740.2 72.9h.01M1736.1 72.0h.01M1733.6 74.4h.01M1760.3 73.3h.01M1728.7 72.0h.01M1730.6 73.2h.01M1728.5 73.9h.01M1731.5 72.6h.01M1740.6 75.2h.01M1761.9 73.1h.01M1743.9 74.7h.01M1753.7 75.3h.01M1760.9 72.4h.01M1724.2 72.4h.01M1766.1 75.2h.01M1747.7 136.9h.01M1754.8 137.6h.01M1762.6 137.6h.01M1751.7 155.8h.01M1758.4 158.4h.01M1738.5 156.5h.01M1750.5 158.0h.01M1724.0 172.2h.01M1733.3 189.8h.01M1746.3 205.0h.01M1748.3 221.6h.01M1750.1 239.7h.01M1734.3 242.6h.01M1728.9 241.6h.01M1728.5 267.0h.01M1763.4 269.1h.01M1728.5 269.3h.01M1732.4 267.6h.01M1762.0 269.1h.01M1729.6 267.8h.01M1735.7 305.9h.01M1743.0 367.6h.01M1744.4 462.4h.01M1769.5 658.0h.01"/>
<path d="M1727.0 74.1h.01M1731.8 72.6h.01M1744.7 74.7h.01M1754.6 75.3h.01M1742.8 74.4h.01M1768.1 74.9h.01M1734.5 75.0h.01M1736.1 74.5h.01M1750.7 74.3h.01M1741.0 72.5h.01M1759.5 74.6h.01M1749.2 74.6h.01M1737.2 74.6h.01M1766.3 73.6h.01M1729.8 73.7h.01M1728.7 74.0h.01M1742.9 72.8h.01M1760.7 72.9h.01M1768.1 73.5h.01M1736.8 74.0h.01M1746.0 73.4h.01M1724.0 72.8h.01M1724.4 72.0h.01M1733.2 72.9h.01M1745.9 73.4h.01M1757.7 73.2h.01M1754.7 137.6h.01M1766.7 138.2h.01M1750.3 139.4h.01M1770.0 157.4h.01M1726.3 156.3h.01M1731.7 156.0h.01M1726.7 155.6h.01M1743.8 171.1h.01M1767.7 191.6h.01M1732.8 221.0h.01M1725.5 218.2h.01M1745.4 239.5h.01M1735.9 241.5h.01M1736.0 242.3h.01M1763.5 268.1h.01M1731.8 268.6h.01M1766.0 270.1h.01M1757.3 269.6h.01M1763.5 267.3h.01M1762.3 267.3h.01M1725.3 310.1h.01M1751.7 365.0h.01M1761.7 462.6h.01"/>
</g>
<g stroke="#7ACBB1" stroke-opacity="0.3" stroke-width="6.9" stroke-linecap="round" fill="none">
<path d="M1865.1 73.1h.01M1826.8 73.3h.01M1830.6 72.9h.01M1835.0 72.6h.01M1859.7 73.5h.01M1849.6 74.0h.01M1864.3 74.2h.01M1837.9 73.3h.01M1829.1 74.2h.01M1837.7 71.9h.01M1848.1 73.9h.01M1825.8 72.2h.01M1849.4 72.0h.01M1846.2 74.0h.01M1841.9 72.4h.01M1849.7 74.6h.01M1838.1 73.6h.01M1840.5 73.0h.01M1851.1 74.7h.01M1831.0 72.1h.01M1841.2 73.6h.01M1854.3 73.0h.01M1857.1 72.4h.01M1825.0 72.8h.01M1860.6 74.3h.01M1847.7 73.1h.01M1855.1 132.1h.01M1830.3 140.0h.01M1837.2 137.2h.01M1833.0 158.7h.01M1867.7 156.5h.01M1862.9 156.9h.01M1846.9 156.2h.01M1862.2 190.5h.01M1862.1 190.3h.01M1823.2 221.2h.01M1858.5 218.6h.01M1837.5 242.3h.01M1848.4 239.3h.01M1851.6 242.1h.01M1853.0 269.1h.01M1828.4 269.8h.01M1842.4 269.3h.01M1865.3 269.0h.01M1824.2 268.0h.01M1831.3 268.3h.01M1838.0 323.8h.01M1854.8 365.0h.01M1829.5 463.4h.01M1840.3 577.0h.01M1868.0 660.7h.01"/>
<path d="M1859.1 72.2h.01M1866.0 73.6h.01M1842.8 73.4h.01M1828.6 75.1h.01M1855.8 72.7h.01M1842.4 73.7h.01M1860.7 72.4h.01M1837.6 72.0h.01M1867.1 72.5h.01M1851.0 75.2h.01M1826.8 74.8h.01M1848.5 74.1h.01M1844.4 72.0h.01M1840.1 75.1h.01M1858.9 74.8h.01M1862.1 74.9h.01M1835.1 75.1h.01M1854.0 74.5h.01M1860.6 73.4h.01M1856.3 75.1h.01M1864.7 74.9h.01M1832.3 74.5h.01M1826.5 74.3h.01M1867.2 73.4h.01M1829.8 73.1h.01M1859.6 72.9h.01M1860.6 137.3h.01M1836.3 138.7h.01M1822.4 139.7h.01M1846.0 158.2h.01M1825.9 156.2h.01M1862.1 157.1h.01M1826.4 155.8h.01M1853.5 189.6h.01M1824.7 191.3h.01M1852.6 220.7h.01M1865.2 219.3h.01M1821.4 239.7h.01M1837.9 240.1h.01M1855.6 266.9h.01M1823.8 268.8h.01M1857.2 270.0h.01M1845.7 267.0h.01M1828.1 269.7h.01M1840.0 267.3h.01M1828.5 290.2h.01M1861.7 325.9h.01M1867.1 425.9h.01M1828.1 463.2h.01M1838.1 585.8h.01M1849.7 657.5h.01"/>
<path d="M1862.7 75.2h.01M1833.7 73.7h.01M1849.9 73.7h.01M1862.0 73.8h.01M1856.8 73.7h.01M1855.1 74.3h.01M1866.2 74.6h.01M1852.9 73.5h.01M1845.2 75.0h.01M1840.4 72.6h.01M1856.8 75.0h.01M1842.2 74.0h.01M1832.5 74.0h.01M1826.9 72.5h.01M1837.7 72.8h.01M1845.2 73.5h.01M1835.7 74.6h.01M1860.9 74.1h.01M1854.8 74.5h.01M1853.7 74.0h.01M1856.9 75.2h.01M1845.3 73.8h.01M1838.0 74.6h.01M1826.2 73.6h.01M1860.8 72.1h.01M1863.6 72.0h.01M1858.1 138.8h.01M1866.8 137.1h.01M1853.0 138.8h.01M1844.1 157.1h.01M1839.5 158.5h.01M1864.2 156.0h.01M1852.8 158.2h.01M1865.7 192.4h.01M1831.3 189.3h.01M1833.9 219.9h.01M1835.4 219.0h.01M1842.4 241.2h.01M1841.2 239.7h.01M1849.3 270.0h.01M1823.2 268.1h.01M1859.4 268.8h.01M1827.3 270.3h.01M1855.8 267.1h.01M1823.9 268.3h.01M1862.0 308.6h.01M1861.7 323.0h.01M1832.1 424.2h.01M1844.6 514.0h.01M1853.4 658.5h.01M1833.1 658.6h.01"/>
<path d="M1851.3 74.4h.01M1846.2 74.8h.01M1835.7 74.5h.01M1824.0 74.0h.01M1858.0 72.9h.01M1839.5 73.4h.01M1841.1 72.2h.01M1825.8 74.0h.01M1863.1 72.9h.01M1835.5 72.9h.01M1825.8 74.8h.01M1823.7 72.2h.01M1854.9 74.6h.01M1837.6 74.5h.01M1838.8 72.0h.01M1833.8 72.6h.01M1827.0 72.8h.01M1850.7 74.7h.01M1841.5 73.0h.01M1856.2 72.4h.01M1854.1 72.5h.01M1865.1 74.1h.01M1823.9 74.4h.01M1841.5 74.7h.01M1829.0 72.6h.01M1844.3 73.6h.01M1834.4 138.0h.01M1861.8 136.9h.01M1825.1 138.0h.01M1831.7 157.1h.01M1866.2 157.1h.01M1829.0 156.5h.01M1830.2 171.5h.01M1837.2 191.9h.01M1848.8 192.3h.01M1833.4 219.7h.01M1855.9 219.9h.01M1847.8 241.7h.01M1824.3 241.1h.01M1859.1 267.2h.01M1836.8 268.6h.01M1846.4 268.2h.01M1843.5 268.0h.01M1828.7 270.2h.01M1840.4 267.1h.01M1856.4 306.6h.01M1835.1 326.4h.01M1853.5 465.7h.01M1837.7 512.7h.01M1846.7 658.8h.01"/>
<path d="M1853.0 74.4h.01M1826.9 74.9h.01M1831.5 73.6h.01M1841.8 72.8h.01M1864.1 74.9h.01M1839.2 74.2h.01M1821.6 75.2h.01M1839.9 73.4h.01M1859.7 71.9h.01M1821.3 74.3h.01M1845.7 72.5h.01M1848.5 72.0h.01M1835.6 72.3h.01M1830.1 74.4h.01M1830.9 72.0h.01M1839.2 73.0h.01M1834.4 73.9h.01M1826.5 72.2h.01M1837.5 75.4h.01M1834.3 75.0h.01M1833.4 73.4h.01M1835.2 72.2h.01M1830.4 72.9h.01M1846.6 75.3h.01M1860.1 72.7h.01M1828.5 74.3h.01M1845.3 138.9h.01M1866.3 138.2h.01M1838.6 138.3h.01M1826.4 157.3h.01M1857.5 158.6h.01M1837.1 156.4h.01M1860.5 171.1h.01M1844.7 189.4h.01M1829.1 191.2h.01M1845.9 218.3h.01M1851.0 220.5h.01M1829.0 242.5h.01M1863.4 241.8h.01M1837.1 269.8h.01M1849.2 269.4h.01M1847.2 268.0h.01M1857.5 269.0h.01M1857.7 269.4h.01M1865.5 268.1h.01M1834.4 325.3h.01M1826.3 364.6h.01M1844.8 465.0h.01M1864.3 542.4h.01M1853.5 657.3h.01"/>
<path d="M1846.6 72.1h.01M1834.9 73.9h.01M1839.1 73.3h.01M1826.2 74.6h.01M1862.0 75.3h.01M1858.1 72.4h.01M1847.7 73.6h.01M1848.1 72.3h.01M1862.8 73.9h.01M1860.7 73.3h.01M1849.9 72.5h.01M1841.8 73.2h.01M1843.9 72.6h.01M1832.2 75.2h.01M1844.8 74.6h.01M1847.8 74.3h.01M1863.8 72.6h.01M1855.6 72.9h.01M1860.3 72.6h.01M1865.6 73.9h.01M1866.7 73.1h.01M1827.8 73.4h.01M1842.2 75.0h.01M1864.3 73.1h.01M1836.5 74.7h.01M1848.4 75.1h.01M1837.0 138.8h.01M1859.2 140.1h.01M1840.7 138.5h.01M1848.8 158.8h.01M1857.6 158.9h.01M1853.1 156.2h.01M1826.4 173.0h.01M1858.7 192.3h.01M1843.1 202.0h.01M1867.7 221.6h.01M1847.0 241.4h.01M1835.3 241.7h.01M1833.2 242.7h.01M1829.9 268.4h.01M1842.9 270.2h.01M1849.4 269.1h.01M1867.6 269.5h.01M1867.3 268.5h.01M1831.6 269.4h.01M1843.9 323.4h.01M1821.5 364.9h.01M1841.3 465.4h.01M1831.2 540.3h.01M1862.2 658.2h.01"/>
<path d="M1850.3 74.5h.01M1834.7 74.5h.01M1821.7 74.1h.01M1866.2 72.8h.01M1857.1 73.3h.01M1844.6 73.8h.01M1864.4 72.6h.01M1866.4 73.6h.01M1828.5 74.3h.01M1852.5 74.7h.01M1824.0 75.3h.01M1832.8 75.2h.01M1832.5 74.7h.01M1852.3 74.2h.01M1842.4 74.9h.01M1839.4 75.1h.01M1862.6 72.3h.01M1823.0 75.2h.01M1834.6 75.2h.01M1864.8 72.9h.01M1846.7 74.5h.01M1836.8 72.5h.01M1836.4 73.7h.01M1850.6 72.1h.01M1859.9 74.2h.01M1853.4 74.8h.01M1852.4 137.4h.01M1852.9 138.2h.01M1847.6 138.9h.01M1840.3 158.8h.01M1832.2 157.8h.01M1826.9 157.8h.01M1826.3 170.3h.01M1829.7 189.6h.01M1839.3 203.1h.01M1847.4 219.0h.01M1823.9 241.6h.01M1855.3 240.8h.01M1828.8 241.8h.01M1862.2 268.0h.01M1864.6 268.3h.01M1855.9 269.4h.01M1856.7 270.0h.01M1851.0 269.1h.01M1833.4 268.8h.01M1828.7 324.1h.01M1828.2 365.5h.01M1822.0 462.3h.01M1862.6 541.1h.01M1839.9 659.6h.01"/>
<path d="M1845.6 73.8h.01M1825.2 73.4h.01M1861.6 74.5h.01M1828.4 74.2h.01M1844.5 72.0h.01M1829.8 74.3h.01M1846.4 71.8h.01M1841.8 73.2h.01M1845.1 73.6h.01M1844.5 73.4h.01M1857.3 74.2h.01M1864.8 72.4h.01M1837.9 74.7h.01M1828.4 72.9h.01M1854.3 74.4h.01M1829.4 72.4h.01M1827.3 74.4h.01M1828.7 74.7h.01M1861.2 73.2h.01M1855.8 72.4h.01M1823.9 74.1h.01M1846.9 72.7h.01M1838.2 74.8h.01M1851.8 74.5h.01M1838.4 73.4h.01M1841.9 71.9h.01M1863.6 139.8h.01M1835.1 138.3h.01M1826.5 139.7h.01M1841.8 156.0h.01M1821.8 157.0h.01M1855.8 155.7h.01M1829.8 190.5h.01M1853.0 191.1h.01M1821.4 202.0h.01M1862.1 219.0h.01M1836.3 239.3h.01M1865.2 241.6h.01M1854.2 242.0h.01M1864.5 269.5h.01M1867.5 270.1h.01M1854.5 267.6h.01M1822.4 269.8h.01M1858.7 268.7h.01M1832.0 269.6h.01M1849.2 324.9h.01M1825.7 367.5h.01M1836.0 462.7h.01M1833.9 543.1h.01M1840.8 657.3h.01"/>
<path d="M1865.8 74.3h.01M1860.6 73.2h.01M1847.3 73.6h.01M1837.7 73.0h.01M1848.0 73.9h.01M1827.9 73.3h.01M1845.4 73.5h.01M1867.9 74.2h.01M1829.9 74.7h.01M1833.6 73.1h.01M1854.7 74.1h.01M1835.9 72.2h.01M1866.8 74.3h.01M1825.5 74.4h.01M1863.4 73.3h.01M1836.2 73.0h.01M1822.5 73.0h.01M1835.3 74.0h.01M1823.3 74.5h.01M1850.6 73.8h.01M1840.4 74.6h.01M1829.1 73.0h.01M1824.5 75.3h.01M1832.7 74.9h.01M1838.5 72.4h.01M1825.3 75.2h.01M1835.0 138.8h.01M1865.9 138.6h.01M1862.9 138.4h.01M1847.0 156.6h.01M1831.1 158.0h.01M1855.0 158.9h.01M1834.7 190.0h.01M1843.5 191.9h.01M1836.8 204.6h.01M1850.9 219.5h.01M1843.7 241.5h.01M1864.4 240.7h.01M1839.9 242.1h.01M1836.5 267.7h.01M1850.0 267.8h.01M1857.6 269.2h.01M1823.9 268.5h.01M1836.3 267.1h.01M1856.8 268.0h.01M1848.3 323.4h.01M1853.2 367.7h.01M1826.8 464.1h.01M1833.5 543.4h.01M1839.3 659.4h.01"/>
<path d="M1835.5 73.1h.01M1847.9 73.1h.01M1834.5 71.9h.01M1850.1 72.4h.01M1857.9 72.3h.01M1848.4 75.0h.01M1853.3 74.0h.01M1846.0 72.5h.01M1850.7 73.2h.01M1846.1 71.9h.01M1829.1 74.4h.01M1859.4 74.3h.01M1847.5 75.0h.01M1860.3 74.9h.01M1838.4 74.5h.01M1826.2 73.4h.01M1852.3 74.1h.01M1822.9 74.3h.01M1826.3 72.6h.01M1823.7 72.9h.01M1835.7 74.9h.01M1849.2 73.7h.01M1867.7 72.7h.01M1822.4 72.6h.01M1832.4 75.2h.01M1841.8 74.7h.01M1847.6 139.1h.01M1851.5 139.3h.01M1826.4 156.0h.01M1856.7 158.7h.01M1854.3 157.6h.01M1849.5 158.7h.01M1839.0 191.9h.01M1860.8 191.1h.01M1842.7 200.1h.01M1838.2 220.7h.01M1832.5 242.0h.01M1824.9 242.2h.01M1849.4 239.7h.01M1851.6 268.9h.01M1836.6 270.0h.01M1857.4 266.9h.01M1847.2 269.7h.01M1826.2 267.7h.01M1835.1 266.8h.01M1831.0 323.4h.01M1837.1 364.8h.01M1827.5 464.3h.01M1823.1 562.4h.01M1840.4 660.3h.01"/>
</g>
<g stroke="#7ACBB1" stroke-opacity="0.3" stroke-width="6.9" stroke-linecap="round" fill="none">
<path d="M1936.0 74.5h.01M1929.3 73.1h.01M1928.7 74.9h.01M1925.5 74.5h.01M1935.7 74.2h.01M1935.8 75.2h.01M1953.8 74.0h.01M1937.2 75.2h.01M1937.9 73.3h.01M1959.0 72.5h.01M1944.9 74.2h.01M1961.7 73.4h.01M1950.5 74.8h.01M1936.2 73.1h.01M1962.0 75.0h.01M1934.0 73.8h.01M1934.9 74.0h.01M1942.1 74.1h.01M1919.8 74.0h.01M1956.4 73.7h.01M1940.8 73.6h.01M1960.8 72.7h.01M1939.8 74.5h.01M1918.5 73.6h.01M1924.0 73.0h.01M1943.1 75.4h.01M1935.3 73.0h.01M1933.6 74.9h.01M1936.2 72.0h.01M1963.7 72.0h.01M1933.1 140.2h.01M1930.8 139.8h.01M1956.2 139.3h.01M1955.4 137.0h.01M1931.1 139.9h.01M1920.2 137.0h.01M1947.9 137.5h.01M1934.4 140.0h.01M1921.2 158.7h.01M1925.5 156.0h.01M1952.7 157.9h.01M1941.1 156.7h.01M1949.9 156.3h.01M1964.2 155.9h.01M1926.0 157.3h.01M1953.3 159.5h.01M1954.1 159.0h.01M1952.0 159.5h.01M1957.6 168.5h.01M1935.6 171.1h.01M1926.6 191.0h.01M1921.4 193.0h.01M1957.4 192.9h.01M1949.0 190.4h.01M1954.2 192.0h.01M1940.8 192.2h.01M1929.6 192.2h.01M1949.0 202.3h.01M1960.7 204.8h.01M1947.5 204.0h.01M1944.7 219.0h.01M1963.3 221.0h.01M1949.2 219.5h.01M1949.9 218.5h.01M1949.5 218.7h.01M1950.1 221.5h.01M1919.0 219.8h.01M1933.3 241.4h.01M1950.9 241.6h.01M1948.1 242.2h.01M1954.6 239.5h.01M1942.8 241.7h.01M1947.4 242.9h.01M1920.7 242.0h.01M1960.2 266.6h.01M1958.5 269.4h.01M1935.9 269.2h.01M1957.8 270.3h.01M1955.1 266.8h.01M1960.4 268.7h.01M1924.2 266.6h.01M1951.7 266.5h.01M1935.3 266.6h.01M1940.3 270.4h.01M1961.8 270.6h.01M1925.9 309.7h.01M1937.3 308.8h.01M1952.8 323.2h.01M1935.4 323.3h.01M1925.8 324.1h.01M1953.5 365.0h.01M1935.3 364.6h.01M1945.4 366.5h.01M1937.8 424.2h.01M1930.6 424.5h.01M1931.3 465.4h.01M1956.3 463.2h.01M1919.9 464.1h.01M1962.0 464.2h.01M1940.1 462.9h.01M1963.4 462.4h.01M1958.8 463.5h.01M1951.8 465.8h.01M1942.5 513.3h.01M1952.4 512.5h.01M1953.9 542.8h.01M1922.5 541.4h.01M1921.0 541.9h.01M1934.0 542.7h.01M1962.2 540.8h.01M1935.5 541.2h.01M1965.1 561.9h.01M1942.0 575.6h.01M1928.3 575.5h.01M1949.8 657.4h.01M1926.9 660.2h.01M1936.1 660.7h.01M1933.6 658.5h.01"/>
<path d="M1927.6 74.9h.01M1953.2 74.0h.01M1961.9 73.5h.01M1923.1 74.1h.01M1936.2 75.3h.01M1939.1 74.1h.01M1943.0 73.6h.01M1950.3 73.4h.01M1965.2 72.5h.01M1958.6 74.5h.01M1931.2 72.6h.01M1955.9 73.6h.01M1921.0 72.9h.01M1928.8 73.4h.01M1941.1 72.3h.01M1929.9 72.7h.01M1949.5 74.8h.01M1927.6 73.9h.01M1942.7 74.3h.01M1961.6 75.3h.01M1954.9 72.2h.01M1957.4 72.5h.01M1941.5 72.2h.01M1919.1 75.0h.01M1920.3 72.5h.01M1926.5 72.0h.01M1948.0 74.0h.01M1963.1 72.2h.01M1951.7 72.9h.01M1927.1 74.3h.01M1953.9 138.7h.01M1921.6 138.4h.01M1927.0 136.8h.01M1925.4 137.8h.01M1928.8 140.5h.01M1923.5 139.9h.01M1945.8 139.0h.01M1937.2 139.6h.01M1918.9 155.6h.01M1940.4 155.0h.01M1956.5 155.7h.01M1928.0 158.5h.01M1929.6 156.6h.01M1920.1 159.4h.01M1923.3 156.0h.01M1957.3 155.9h.01M1946.8 155.1h.01M1950.3 155.7h.01M1953.7 172.7h.01M1963.7 173.3h.01M1950.6 189.8h.01M1935.3 192.4h.01M1957.3 192.0h.01M1928.8 192.7h.01M1927.4 192.0h.01M1929.1 191.0h.01M1958.9 192.0h.01M1919.5 202.6h.01M1928.5 205.1h.01M1957.5 204.1h.01M1924.8 221.2h.01M1962.6 220.4h.01M1956.0 218.1h.01M1918.8 220.1h.01M1924.3 221.2h.01M1935.7 217.8h.01M1952.4 221.0h.01M1940.8 242.2h.01M1952.0 242.3h.01M1930.5 241.4h.01M1952.0 238.9h.01M1952.0 240.9h.01M1939.7 240.4h.01M1954.4 242.7h.01M1940.5 266.4h.01M1926.4 267.4h.01M1936.1 270.4h.01M1943.6 269.3h.01M1928.4 269.3h.01M1960.6 267.4h.01M1919.9 268.1h.01M1927.8 269.5h.01M1928.0 270.8h.01M1918.6 269.3h.01M1962.7 268.8h.01M1922.3 309.9h.01M1938.3 308.8h.01M1925.1 325.2h.01M1934.7 324.6h.01M1919.3 325.8h.01M1936.4 367.7h.01M1938.7 366.7h.01M1959.7 365.9h.01M1945.1 424.0h.01M1925.7 423.6h.01M1959.2 464.3h.01M1939.7 462.8h.01M1922.4 462.8h.01M1955.2 464.9h.01M1963.5 462.6h.01M1924.9 463.8h.01M1935.2 463.7h.01M1920.6 464.3h.01M1963.7 513.0h.01M1935.2 511.2h.01M1957.0 542.8h.01M1938.2 542.6h.01M1934.1 543.3h.01M1949.8 542.9h.01M1940.6 543.2h.01M1931.3 540.2h.01M1961.0 560.2h.01M1949.5 576.4h.01M1935.1 585.8h.01M1956.1 660.0h.01M1931.5 657.5h.01M1935.8 658.1h.01M1946.6 659.0h.01"/>
<path d="M1957.9 72.6h.01M1951.8 74.0h.01M1942.9 73.5h.01M1956.1 73.5h.01M1927.7 73.4h.01M1951.8 74.3h.01M1960.7 72.7h.01M1954.5 72.7h.01M1959.3 74.8h.01M1927.8 75.2h.01M1932.0 72.9h.01M1950.0 73.0h.01M1920.3 72.4h.01M1922.7 73.7h.01M1946.4 73.5h.01M1926.7 72.6h.01M1926.3 72.0h.01M1927.9 74.9h.01M1960.2 75.1h.01M1962.5 73.9h.01M1953.6 73.1h.01M1946.0 73.8h.01M1950.5 72.9h.01M1956.5 73.9h.01M1927.0 74.4h.01M1939.7 72.5h.01M1942.8 73.0h.01M1925.1 73.3h.01M1931.3 74.8h.01M1962.7 74.7h.01M1944.6 137.8h.01M1953.7 137.7h.01M1943.3 138.5h.01M1953.7 138.6h.01M1950.1 136.4h.01M1947.9 139.3h.01M1942.4 138.2h.01M1927.4 137.5h.01M1952.2 156.7h.01M1961.2 155.9h.01M1924.6 159.6h.01M1960.9 157.9h.01M1950.8 157.4h.01M1929.6 155.3h.01M1960.1 155.4h.01M1939.8 159.1h.01M1954.4 159.6h.01M1938.5 155.5h.01M1930.0 171.9h.01M1943.3 170.5h.01M1953.4 189.5h.01M1923.6 190.7h.01M1958.5 189.3h.01M1919.0 189.0h.01M1936.4 191.3h.01M1923.9 192.7h.01M1922.2 191.8h.01M1953.1 202.2h.01M1938.9 204.5h.01M1965.3 202.6h.01M1924.0 217.8h.01M1920.7 218.0h.01M1963.5 221.4h.01M1950.2 219.0h.01M1928.4 221.0h.01M1954.3 218.4h.01M1921.6 222.3h.01M1920.9 243.0h.01M1955.8 239.6h.01M1943.4 240.0h.01M1955.6 241.9h.01M1954.7 242.9h.01M1931.4 243.2h.01M1923.3 243.0h.01M1946.7 269.5h.01M1934.4 270.0h.01M1929.0 266.6h.01M1956.9 269.3h.01M1930.0 270.4h.01M1932.9 266.8h.01M1938.6 267.5h.01M1933.8 267.5h.01M1941.9 266.7h.01M1952.0 267.4h.01M1922.4 270.6h.01M1933.1 307.7h.01M1950.8 325.1h.01M1958.3 323.7h.01M1962.0 324.2h.01M1921.1 336.0h.01M1959.3 365.4h.01M1930.2 367.2h.01M1934.1 366.7h.01M1937.5 423.2h.01M1941.3 436.5h.01M1952.4 464.9h.01M1937.2 462.5h.01M1960.3 465.7h.01M1961.2 465.0h.01M1925.8 463.4h.01M1963.7 464.5h.01M1932.4 462.4h.01M1963.8 464.7h.01M1951.1 514.2h.01M1930.3 513.9h.01M1922.7 542.0h.01M1942.4 540.4h.01M1953.2 541.2h.01M1937.1 541.3h.01M1941.0 543.2h.01M1938.9 543.7h.01M1959.0 560.9h.01M1943.3 576.1h.01M1935.2 658.1h.01M1934.1 660.4h.01M1958.4 659.6h.01M1933.9 658.4h.01"/>
<path d="M1961.0 75.2h.01M1943.0 73.2h.01M1956.5 74.5h.01M1939.6 75.0h.01M1921.0 74.7h.01M1937.5 73.1h.01M1919.5 73.3h.01M1923.9 74.6h.01M1934.0 73.5h.01M1943.5 74.0h.01M1956.0 73.3h.01M1932.2 74.6h.01M1932.1 74.5h.01M1952.5 73.8h.01M1922.5 74.9h.01M1932.3 75.1h.01M1933.9 72.4h.01M1929.6 72.3h.01M1945.5 74.5h.01M1937.4 75.0h.01M1927.7 73.2h.01M1957.1 72.6h.01M1936.7 72.6h.01M1946.7 73.7h.01M1963.3 74.1h.01M1930.1 74.1h.01M1960.9 73.6h.01M1945.4 75.2h.01M1945.3 72.5h.01M1933.4 73.8h.01M1953.7 139.6h.01M1937.7 137.1h.01M1949.8 136.7h.01M1960.5 136.7h.01M1956.0 139.2h.01M1933.9 138.3h.01M1928.9 136.9h.01M1942.6 138.9h.01M1930.7 158.0h.01M1940.7 155.8h.01M1928.4 156.9h.01M1923.2 156.9h.01M1925.0 155.4h.01M1928.6 156.5h.01M1918.4 155.7h.01M1948.9 158.7h.01M1921.8 159.1h.01M1926.8 155.2h.01M1919.3 172.9h.01M1943.6 168.8h.01M1930.0 191.8h.01M1963.9 189.8h.01M1949.8 191.7h.01M1924.4 188.5h.01M1948.4 190.8h.01M1935.3 190.8h.01M1961.7 190.9h.01M1929.3 202.4h.01M1927.3 200.9h.01M1928.9 199.7h.01M1925.3 221.6h.01M1923.2 222.2h.01M1921.9 218.1h.01M1948.7 221.4h.01M1920.0 221.7h.01M1948.5 219.3h.01M1926.4 219.0h.01M1925.9 242.9h.01M1922.7 240.6h.01M1919.8 240.0h.01M1933.1 240.0h.01M1921.6 241.6h.01M1964.4 239.1h.01M1926.0 240.9h.01M1940.2 267.5h.01M1938.0 267.0h.01M1937.6 267.9h.01M1958.0 266.9h.01M1933.7 270.8h.01M1945.2 270.4h.01M1938.5 270.4h.01M1927.1 268.3h.01M1960.6 266.4h.01M1929.4 269.7h.01M1955.8 267.7h.01M1926.9 307.9h.01M1925.5 323.5h.01M1946.0 324.1h.01M1940.7 325.3h.01M1925.2 338.0h.01M1946.4 364.6h.01M1964.1 364.6h.01M1962.6 365.0h.01M1963.2 423.3h.01M1961.7 465.5h.01M1952.6 463.5h.01M1940.5 465.4h.01M1940.1 464.2h.01M1960.9 463.7h.01M1944.3 464.4h.01M1944.0 464.7h.01M1929.8 462.4h.01M1945.0 514.4h.01M1957.3 511.0h.01M1925.7 513.9h.01M1936.5 542.5h.01M1929.8 543.1h.01M1942.3 543.1h.01M1938.5 543.1h.01M1950.5 541.2h.01M1922.6 541.1h.01M1963.9 574.8h.01M1954.5 574.6h.01M1952.8 660.0h.01M1955.7 658.2h.01M1958.3 657.6h.01M1947.7 660.1h.01"/>
<path d="M1950.9 74.2h.01M1950.1 74.2h.01M1926.4 72.5h.01M1936.9 71.9h.01M1952.1 74.4h.01M1956.4 74.1h.01M1940.0 73.7h.01M1921.9 72.5h.01M1918.6 71.9h.01M1940.1 73.6h.01M1939.7 72.1h.01M1957.7 74.8h.01M1945.7 74.2h.01M1950.2 75.0h.01M1931.0 72.2h.01M1944.6 75.0h.01M1959.4 73.7h.01M1941.9 72.2h.01M1946.3 72.6h.01M1929.8 72.8h.01M1958.0 72.6h.01M1959.2 74.3h.01M1955.6 73.0h.01M1934.1 74.6h.01M1928.8 72.2h.01M1923.0 73.4h.01M1935.4 71.9h.01M1936.7 72.7h.01M1955.6 74.1h.01M1923.4 74.4h.01M1935.3 136.6h.01M1923.5 139.5h.01M1924.6 139.3h.01M1953.2 137.1h.01M1951.2 140.6h.01M1928.5 137.2h.01M1965.1 137.2h.01M1927.6 137.6h.01M1926.0 156.7h.01M1924.3 159.1h.01M1936.1 159.6h.01M1924.2 158.7h.01M1946.5 159.4h.01M1962.0 156.7h.01M1944.4 155.8h.01M1938.5 159.1h.01M1950.8 156.8h.01M1939.1 156.3h.01M1960.0 168.9h.01M1937.5 168.9h.01M1919.6 189.8h.01M1931.2 189.4h.01M1918.8 192.1h.01M1935.4 189.6h.01M1959.2 192.8h.01M1962.3 190.4h.01M1952.7 192.7h.01M1946.7 201.5h.01M1945.7 199.8h.01M1933.4 202.9h.01M1942.8 219.6h.01M1931.9 220.9h.01M1945.1 221.4h.01M1963.3 218.6h.01M1937.4 220.3h.01M1951.4 217.8h.01M1918.5 221.2h.01M1947.6 240.1h.01M1927.3 240.1h.01M1928.7 242.0h.01M1920.9 240.5h.01M1941.0 242.2h.01M1924.4 241.2h.01M1957.5 242.6h.01M1952.8 270.3h.01M1958.9 268.2h.01M1960.0 267.3h.01M1959.6 270.2h.01M1955.7 269.8h.01M1945.9 267.0h.01M1942.9 267.0h.01M1941.8 267.7h.01M1942.3 266.5h.01M1942.6 270.1h.01M1925.0 268.7h.01M1939.0 304.4h.01M1945.2 326.5h.01M1934.3 323.2h.01M1936.5 324.4h.01M1921.0 367.1h.01M1920.1 367.9h.01M1951.5 367.4h.01M1961.3 424.6h.01M1947.2 425.5h.01M1962.0 463.2h.01M1922.9 464.1h.01M1953.5 465.3h.01M1952.1 463.3h.01M1963.9 463.1h.01M1926.2 465.3h.01M1919.6 465.1h.01M1921.3 465.8h.01M1937.8 511.2h.01M1923.5 511.8h.01M1946.0 511.6h.01M1954.3 542.9h.01M1932.7 542.5h.01M1949.8 542.2h.01M1921.6 541.8h.01M1945.5 540.2h.01M1958.9 541.4h.01M1962.8 575.1h.01M1955.0 575.2h.01M1929.3 658.0h.01M1941.2 659.5h.01M1938.4 660.1h.01M1919.3 658.4h.01"/>
<path d="M1948.7 73.4h.01M1947.9 73.4h.01M1939.9 73.1h.01M1951.0 73.8h.01M1933.5 74.5h.01M1936.4 73.3h.01M1957.8 73.9h.01M1923.1 75.0h.01M1931.2 74.4h.01M1945.7 74.1h.01M1939.2 72.3h.01M1961.4 74.6h.01M1944.6 74.8h.01M1957.2 74.9h.01M1958.0 74.6h.01M1944.2 72.6h.01M1925.3 75.0h.01M1919.0 72.0h.01M1951.7 75.1h.01M1950.2 74.8h.01M1922.6 72.8h.01M1963.5 73.5h.01M1962.6 72.5h.01M1934.9 72.4h.01M1947.0 72.2h.01M1958.8 73.6h.01M1921.0 72.4h.01M1948.5 74.4h.01M1924.9 73.5h.01M1936.8 74.0h.01M1943.2 139.6h.01M1948.6 136.4h.01M1921.4 139.0h.01M1948.8 136.8h.01M1957.7 139.4h.01M1928.1 137.0h.01M1963.5 139.4h.01M1927.5 139.7h.01M1964.9 158.2h.01M1944.8 157.3h.01M1957.3 156.0h.01M1939.8 156.9h.01M1929.5 155.0h.01M1961.5 158.4h.01M1941.9 156.8h.01M1964.2 157.1h.01M1942.7 157.5h.01M1930.2 172.5h.01M1933.7 169.8h.01M1950.7 168.6h.01M1928.1 191.8h.01M1926.7 192.6h.01M1960.8 192.3h.01M1924.8 189.3h.01M1949.5 189.1h.01M1921.7 192.0h.01M1939.6 191.5h.01M1925.1 200.6h.01M1937.2 201.3h.01M1934.4 219.2h.01M1960.0 222.0h.01M1963.7 218.2h.01M1950.8 221.1h.01M1929.2 220.3h.01M1922.0 219.6h.01M1927.5 218.7h.01M1930.8 240.0h.01M1930.7 239.7h.01M1956.1 239.7h.01M1948.4 240.1h.01M1922.5 243.1h.01M1949.7 242.3h.01M1947.4 242.0h.01M1926.5 267.3h.01M1927.4 266.4h.01M1918.8 267.3h.01M1929.8 266.6h.01M1962.4 267.4h.01M1921.6 270.6h.01M1942.7 268.6h.01M1955.4 269.2h.01M1925.0 266.4h.01M1944.6 270.2h.01M1946.6 266.6h.01M1948.3 288.5h.01M1941.2 304.6h.01M1958.2 323.9h.01M1944.1 325.1h.01M1955.2 325.6h.01M1952.8 365.5h.01M1924.1 368.0h.01M1926.8 367.5h.01M1925.0 426.0h.01M1936.0 425.7h.01M1925.3 463.1h.01M1952.2 465.1h.01M1950.2 465.6h.01M1934.4 462.5h.01M1947.9 463.9h.01M1940.4 464.1h.01M1924.1 464.8h.01M1944.3 465.1h.01M1946.0 511.5h.01M1931.0 513.9h.01M1925.8 512.6h.01M1949.8 540.7h.01M1961.1 541.2h.01M1949.4 543.4h.01M1964.9 540.4h.01M1920.4 541.2h.01M1925.6 540.6h.01M1927.5 575.2h.01M1930.0 573.8h.01M1949.1 658.4h.01M1931.0 659.0h.01M1954.6 659.4h.01M1947.0 659.7h.01"/>
<path d="M1933.1 71.9h.01M1928.8 73.2h.01M1957.2 72.2h.01M1940.8 72.6h.01M1957.5 75.0h.01M1961.8 74.7h.01M1940.6 72.2h.01M1953.7 73.4h.01M1933.0 74.5h.01M1956.0 74.7h.01M1921.0 73.8h.01M1923.0 75.0h.01M1961.2 74.2h.01M1961.7 71.9h.01M1961.8 75.2h.01M1946.3 73.7h.01M1959.6 74.9h.01M1941.3 72.6h.01M1929.9 73.3h.01M1934.5 74.9h.01M1934.7 74.8h.01M1962.8 74.9h.01M1937.4 75.1h.01M1947.4 74.3h.01M1936.8 73.6h.01M1936.0 72.1h.01M1950.4 73.4h.01M1954.1 74.3h.01M1959.5 74.8h.01M1963.6 74.4h.01M1947.9 139.7h.01M1948.1 137.7h.01M1941.9 136.9h.01M1924.5 137.6h.01M1918.5 138.0h.01M1956.3 138.4h.01M1964.7 140.6h.01M1944.6 137.6h.01M1920.4 158.8h.01M1928.1 158.5h.01M1940.1 159.5h.01M1948.2 156.3h.01M1929.0 157.8h.01M1925.5 159.6h.01M1946.2 155.9h.01M1934.9 159.2h.01M1937.4 156.8h.01M1934.7 172.4h.01M1954.7 169.1h.01M1922.5 173.0h.01M1963.6 190.0h.01M1932.5 191.1h.01M1949.3 190.3h.01M1930.1 191.3h.01M1929.3 192.9h.01M1953.3 190.4h.01M1928.0 189.9h.01M1962.7 201.0h.01M1918.9 199.8h.01M1919.4 220.5h.01M1929.3 221.5h.01M1938.0 219.8h.01M1929.4 220.6h.01M1963.3 221.3h.01M1962.6 219.6h.01M1932.4 221.1h.01M1964.7 243.3h.01M1952.6 241.8h.01M1929.2 242.9h.01M1947.2 239.1h.01M1942.4 242.7h.01M1933.3 241.1h.01M1921.5 239.9h.01M1938.3 269.3h.01M1923.3 267.1h.01M1946.8 266.7h.01M1956.1 266.2h.01M1950.1 267.8h.01M1953.1 270.0h.01M1937.9 266.8h.01M1928.7 267.4h.01M1965.3 268.3h.01M1948.0 267.1h.01M1927.8 268.1h.01M1934.1 289.3h.01M1940.5 309.9h.01M1935.0 324.3h.01M1926.9 326.1h.01M1935.7 325.1h.01M1961.1 364.7h.01M1951.6 365.8h.01M1934.8 365.5h.01M1936.3 424.2h.01M1960.8 423.8h.01M1945.2 462.6h.01M1949.1 464.8h.01M1964.7 463.9h.01M1927.0 465.3h.01M1958.5 464.3h.01M1930.9 464.5h.01M1947.9 463.8h.01M1942.2 465.4h.01M1918.9 513.7h.01M1935.4 512.1h.01M1945.3 512.4h.01M1939.6 541.9h.01M1938.5 543.1h.01M1960.7 543.7h.01M1923.0 541.9h.01M1955.9 543.3h.01M1952.0 543.3h.01M1941.0 575.9h.01M1942.3 575.7h.01M1948.2 658.3h.01M1951.8 657.6h.01M1923.9 657.6h.01M1927.7 657.8h.01"/>
<path d="M1918.3 72.7h.01M1930.8 72.2h.01M1959.1 75.2h.01M1954.0 74.8h.01M1948.2 72.3h.01M1964.0 72.9h.01M1939.0 73.6h.01M1920.9 73.0h.01M1958.7 73.4h.01M1961.5 73.4h.01M1948.3 75.2h.01M1955.2 72.0h.01M1957.8 74.8h.01M1962.5 73.5h.01M1946.4 72.0h.01M1919.9 73.6h.01M1941.6 73.5h.01M1945.1 72.9h.01M1964.5 75.2h.01M1927.6 74.6h.01M1963.7 73.0h.01M1963.8 72.6h.01M1949.0 72.4h.01M1922.4 74.4h.01M1963.2 73.6h.01M1960.3 73.0h.01M1939.3 72.7h.01M1943.9 73.9h.01M1953.0 74.8h.01M1927.9 72.2h.01M1954.6 140.7h.01M1954.7 139.1h.01M1949.7 138.2h.01M1951.4 138.1h.01M1924.8 139.6h.01M1919.7 137.3h.01M1940.8 140.3h.01M1964.0 137.4h.01M1935.0 155.4h.01M1919.3 155.4h.01M1960.1 157.2h.01M1939.0 159.3h.01M1955.3 155.8h.01M1953.9 159.2h.01M1921.9 159.4h.01M1952.6 155.7h.01M1948.8 155.4h.01M1922.8 171.7h.01M1955.6 171.2h.01M1931.8 169.0h.01M1946.1 189.9h.01M1950.7 190.9h.01M1949.4 192.2h.01M1942.9 192.5h.01M1938.9 192.5h.01M1959.2 188.5h.01M1935.3 192.5h.01M1958.6 203.2h.01M1929.3 202.5h.01M1925.9 218.4h.01M1945.8 220.2h.01M1958.2 218.5h.01M1942.9 219.1h.01M1937.5 217.8h.01M1935.0 219.0h.01M1956.9 219.5h.01M1923.7 239.0h.01M1941.4 242.5h.01M1949.5 240.7h.01M1927.9 241.9h.01M1962.1 239.3h.01M1951.8 239.8h.01M1954.5 241.3h.01M1924.1 269.7h.01M1934.2 269.7h.01M1963.0 269.3h.01M1952.5 267.3h.01M1920.6 266.8h.01M1940.0 269.0h.01M1949.6 269.9h.01M1956.0 269.9h.01M1955.7 270.0h.01M1938.2 268.1h.01M1952.2 267.4h.01M1929.8 291.3h.01M1946.1 310.3h.01M1961.6 325.1h.01M1960.5 323.7h.01M1935.4 323.3h.01M1944.2 364.8h.01M1923.6 367.5h.01M1921.1 366.2h.01M1918.5 423.8h.01M1955.3 423.7h.01M1945.9 464.3h.01M1935.7 462.6h.01M1953.1 465.4h.01M1956.6 465.4h.01M1922.9 462.6h.01M1944.3 463.1h.01M1962.9 463.4h.01M1957.6 463.5h.01M1926.7 511.5h.01M1963.1 510.9h.01M1937.7 512.5h.01M1961.7 541.6h.01M1920.4 543.2h.01M1928.8 542.3h.01M1941.3 543.0h.01M1933.4 543.5h.01M1936.2 541.3h.01M1935.9 575.3h.01M1931.9 575.6h.01M1931.1 660.5h.01M1958.2 657.7h.01M1939.0 659.4h.01M1961.0 659.9h.01"/>
<path d="M1958.4 73.6h.01M1940.5 72.8h.01M1936.2 72.4h.01M1950.3 74.1h.01M1927.8 73.9h.01M1935.8 73.0h.01M1942.4 72.5h.01M1951.7 73.7h.01M1942.3 73.9h.01M1920.7 74.3h.01M1958.8 75.1h.01M1937.8 73.0h.01M1955.9 71.9h.01M1932.0 74.1h.01M1934.5 72.0h.01M1922.9 73.1h.01M1923.8 73.7h.01M1929.1 72.7h.01M1947.4 72.9h.01M1933.9 71.9h.01M1953.3 74.9h.01M1930.1 72.4h.01M1934.3 73.3h.01M1951.3 73.8h.01M1964.8 74.7h.01M1921.9 73.2h.01M1960.2 72.8h.01M1964.3 73.1h.01M1933.0 75.2h.01M1939.5 72.4h.01M1957.2 138.3h.01M1962.5 137.4h.01M1937.3 138.2h.01M1931.2 140.6h.01M1921.1 138.8h.01M1919.6 138.6h.01M1939.6 137.7h.01M1962.9 136.6h.01M1956.1 157.5h.01M1951.7 155.2h.01M1921.6 158.1h.01M1952.4 159.4h.01M1948.1 156.2h.01M1964.0 156.3h.01M1943.9 158.3h.01M1958.2 159.2h.01M1952.7 155.9h.01M1964.4 170.5h.01M1923.2 169.5h.01M1918.9 172.8h.01M1946.4 189.8h.01M1952.5 192.6h.01M1925.1 192.6h.01M1930.0 189.3h.01M1939.9 189.7h.01M1958.6 192.5h.01M1964.6 190.8h.01M1960.7 204.3h.01M1942.3 199.8h.01M1918.3 219.4h.01M1937.5 218.1h.01M1949.0 219.9h.01M1921.8 218.8h.01M1960.6 221.2h.01M1938.8 221.5h.01M1958.2 218.2h.01M1963.9 242.7h.01M1962.0 240.7h.01M1924.8 242.5h.01M1949.4 242.1h.01M1940.0 242.4h.01M1935.8 241.3h.01M1922.3 241.5h.01M1964.0 270.3h.01M1930.3 268.7h.01M1958.2 267.0h.01M1956.5 269.7h.01M1944.0 268.7h.01M1956.0 266.4h.01M1935.3 269.2h.01M1959.8 266.2h.01M1961.1 268.3h.01M1930.5 269.6h.01M1951.8 267.6h.01M1925.9 308.4h.01M1926.3 310.8h.01M1938.6 325.4h.01M1919.6 325.4h.01M1943.6 325.5h.01M1922.5 364.8h.01M1926.8 365.9h.01M1950.3 367.9h.01M1955.2 424.8h.01M1964.9 424.2h.01M1962.2 465.5h.01M1962.6 462.3h.01M1948.2 464.5h.01M1927.0 464.1h.01M1956.2 463.4h.01M1946.0 465.2h.01M1935.3 462.5h.01M1950.5 462.6h.01M1923.1 511.1h.01M1965.0 512.2h.01M1919.0 514.2h.01M1926.8 543.4h.01M1958.1 541.4h.01M1927.6 543.4h.01M1949.8 541.9h.01M1945.7 541.1h.01M1918.5 543.5h.01M1945.9 576.3h.01M1951.6 574.2h.01M1935.2 660.6h.01M1938.9 659.3h.01M1946.3 659.9h.01M1945.8 658.7h.01"/>
<path d="M1946.1 71.9h.01M1942.8 73.7h.01M1956.7 74.9h.01M1942.8 74.5h.01M1955.5 73.2h.01M1933.8 75.1h.01M1949.8 72.8h.01M1920.9 72.9h.01M1920.7 74.3h.01M1943.4 73.9h.01M1946.3 74.7h.01M1930.4 72.2h.01M1936.7 75.2h.01M1953.6 73.6h.01M1949.2 75.2h.01M1924.5 73.3h.01M1926.0 73.5h.01M1925.5 74.4h.01M1956.6 74.2h.01M1965.2 72.6h.01M1957.2 72.1h.01M1929.2 74.7h.01M1957.6 72.6h.01M1949.4 72.5h.01M1957.3 74.8h.01M1939.2 72.0h.01M1953.5 75.2h.01M1956.1 73.0h.01M1932.3 74.0h.01M1948.2 72.6h.01M1934.9 136.5h.01M1934.4 139.1h.01M1931.2 137.0h.01M1946.7 137.1h.01M1944.4 137.1h.01M1938.2 140.6h.01M1951.6 138.8h.01M1952.3 137.6h.01M1923.1 159.2h.01M1964.4 157.6h.01M1947.7 155.5h.01M1940.4 157.8h.01M1920.1 159.2h.01M1927.1 155.9h.01M1937.0 159.6h.01M1935.6 158.2h.01M1961.2 155.7h.01M1962.1 169.8h.01M1933.0 170.6h.01M1951.9 168.5h.01M1932.6 192.7h.01M1962.1 191.4h.01M1964.5 191.2h.01M1931.7 191.2h.01M1922.7 192.5h.01M1962.7 190.6h.01M1926.8 193.0h.01M1929.0 201.8h.01M1941.4 199.5h.01M1930.4 220.2h.01M1949.4 218.3h.01M1923.8 221.2h.01M1947.6 220.1h.01M1952.9 220.6h.01M1940.9 222.2h.01M1946.0 221.4h.01M1934.1 240.9h.01M1920.7 242.6h.01M1945.7 242.9h.01M1925.7 242.3h.01M1923.9 241.0h.01M1961.9 239.0h.01M1922.7 238.9h.01M1930.5 267.4h.01M1964.9 270.2h.01M1930.8 269.2h.01M1949.1 269.1h.01M1934.2 267.2h.01M1932.9 267.9h.01M1963.4 267.6h.01M1938.7 269.1h.01M1954.0 266.8h.01M1938.1 268.5h.01M1931.1 267.0h.01M1947.4 309.1h.01M1951.3 304.5h.01M1944.3 324.2h.01M1940.8 324.8h.01M1933.9 323.6h.01M1938.7 367.4h.01M1949.9 364.7h.01M1939.0 365.3h.01M1918.6 423.8h.01M1933.3 423.9h.01M1954.8 465.5h.01M1938.4 463.8h.01M1930.0 463.0h.01M1934.1 465.2h.01M1953.3 465.0h.01M1959.9 464.5h.01M1948.1 463.9h.01M1964.9 463.4h.01M1930.9 511.3h.01M1949.0 513.8h.01M1938.2 542.8h.01M1922.2 542.5h.01M1925.7 541.5h.01M1950.6 540.2h.01M1956.3 542.7h.01M1934.7 541.2h.01M1934.9 559.9h.01M1931.3 575.3h.01M1941.0 574.5h.01M1963.5 658.9h.01M1933.1 657.3h.01M1919.3 659.4h.01M1933.4 660.6h.01"/>
</g>
<path d="M1630.5 73.6H1669.9" stroke="#000" stroke-width="5.6"/>
<path d="M1727.7 73.6H1767.1" stroke="#000" stroke-width="5.6"/>
<path d="M1844.6 138.58V219.95" stroke="#000" stroke-width="2.8"/>
<rect x="1824.9" y="73.6" width="39.4" height="64.98" fill="#A0DBC8" fill-opacity="0.88" stroke="#000" stroke-width="2.8"/>
<path d="M1824.9 73.6H1864.3" stroke="#000" stroke-width="5.6"/>
<path d="M1941.8 268.54V541.92" stroke="#000" stroke-width="2.8"/>
<rect x="1922.1" y="73.6" width="39.4" height="194.94" fill="#A0DBC8" fill-opacity="0.88" stroke="#000" stroke-width="2.8"/>
<path d="M1922.1 73.6H1961.5" stroke="#000" stroke-width="5.6"/>
<rect x="1592.2" y="37" width="406.8" height="654" fill="none" stroke="#333" stroke-width="2"/>
<path d="M1592.2 659h-7" stroke="#333" stroke-width="2.7"/>
<text x="1580.6" y="666.6" font-size="20.8" text-anchor="end" fill="#4D4D4D">0.00</text>
<path d="M1592.2 512.65h-7" stroke="#333" stroke-width="2.7"/>
<text x="1580.6" y="520.25" font-size="20.8" text-anchor="end" fill="#4D4D4D">0.25</text>
<path d="M1592.2 366.3h-7" stroke="#333" stroke-width="2.7"/>
<text x="1580.6" y="373.9" font-size="20.8" text-anchor="end" fill="#4D4D4D">0.50</text>
<path d="M1592.2 219.95h-7" stroke="#333" stroke-width="2.7"/>
<text x="1580.6" y="227.55" font-size="20.8" text-anchor="end" fill="#4D4D4D">0.75</text>
<path d="M1592.2 73.6h-7" stroke="#333" stroke-width="2.7"/>
<text x="1580.6" y="81.2" font-size="20.8" text-anchor="end" fill="#4D4D4D">1.00</text>
<path d="M1650.2 691v7" stroke="#333" stroke-width="2.7"/>
<text x="1650.2" y="718.6" font-size="20.8" text-anchor="middle" fill="#4D4D4D">1</text>
<path d="M1747.4 691v7" stroke="#333" stroke-width="2.7"/>
<text x="1747.4" y="718.6" font-size="20.8" text-anchor="middle" fill="#4D4D4D">2</text>
<path d="M1844.6 691v7" stroke="#333" stroke-width="2.7"/>
<text x="1844.6" y="718.6" font-size="20.8" text-anchor="middle" fill="#4D4D4D">3</text>
<path d="M1941.8 691v7" stroke="#333" stroke-width="2.7"/>
<text x="1941.8" y="718.6" font-size="20.8" text-anchor="middle" fill="#4D4D4D">&gt;3</text>
<text x="1796.1" y="29.8" font-size="25.6" text-anchor="middle" fill="#000">Kruskal–Wallis p = 3.3e−45</text>
<text x="1650.2" y="62.6" font-size="25.5" text-anchor="middle" font-weight="bold" fill="#1a1a1a">a</text>
<text x="1747.4" y="62.6" font-size="25.5" text-anchor="middle" font-weight="bold" fill="#1a1a1a">a</text>
<text x="1844.6" y="62.6" font-size="25.5" text-anchor="middle" font-weight="bold" fill="#1a1a1a">b</text>
<text x="1941.8" y="62.6" font-size="25.5" text-anchor="middle" font-weight="bold" fill="#1a1a1a">c</text>
<rect x="1592.2" y="794.5" width="406.8" height="326.7" fill="#fff"/>
<path d="M1592.2 1107.3H1999M1592.2 1037.38H1999M1592.2 967.45H1999M1592.2 897.52H1999M1592.2 827.6H1999" stroke="#EBEBEB" stroke-width="2.4" fill="none"/>
<path d="M1650.2 794.5V1121.2M1747.4 794.5V1121.2M1844.6 794.5V1121.2M1941.8 794.5V1121.2" stroke="#EBEBEB" stroke-width="2.1" fill="none"/>
<g stroke="#FBC896" stroke-opacity="0.3" stroke-width="6.9" stroke-linecap="round" fill="none">
<path d="M1632.5 828.1h.01M1629.3 827.8h.01M1644.0 827.7h.01M1671.6 827.8h.01M1648.2 857.4h.01M1650.6 867.3h.01M1672.3 865.9h.01M1667.2 867.6h.01M1670.2 865.9h.01M1659.4 867.0h.01M1669.9 882.5h.01M1652.7 882.1h.01M1644.9 883.4h.01M1660.9 890.5h.01M1649.7 890.4h.01M1645.1 890.2h.01M1667.3 907.9h.01M1642.0 906.5h.01M1646.2 921.8h.01M1647.4 920.0h.01M1640.9 920.1h.01M1661.6 937.2h.01M1630.7 935.3h.01M1673.6 951.1h.01M1671.8 951.8h.01M1670.8 950.6h.01M1637.2 966.5h.01M1654.1 967.4h.01M1635.7 966.9h.01M1647.6 982.9h.01M1672.4 983.7h.01M1673.5 983.7h.01M1649.8 1005.5h.01M1644.5 1005.8h.01M1659.8 1012.9h.01M1671.4 1014.9h.01M1642.2 1015.1h.01M1662.7 1033.8h.01M1659.5 1048.1h.01M1630.6 1049.3h.01M1642.0 1063.2h.01M1644.7 1061.6h.01M1670.0 1062.2h.01M1644.3 1073.1h.01M1646.7 1073.6h.01M1658.1 1072.4h.01M1665.0 1073.0h.01M1667.5 1072.1h.01M1662.9 1073.4h.01M1651.9 1091.6h.01M1670.8 1092.5h.01M1636.7 1093.0h.01M1655.3 1093.0h.01M1632.2 1108.3h.01"/>
<path d="M1641.3 827.7h.01M1637.4 827.4h.01M1650.6 828.0h.01M1632.1 827.3h.01M1644.3 857.7h.01M1652.6 867.8h.01M1657.4 867.9h.01M1668.9 867.2h.01M1661.1 867.5h.01M1637.2 883.2h.01M1650.5 881.6h.01M1656.1 883.5h.01M1635.3 882.2h.01M1653.6 889.3h.01M1640.8 889.8h.01M1630.1 888.4h.01M1644.0 905.7h.01M1642.5 907.8h.01M1651.3 921.3h.01M1639.7 921.7h.01M1627.6 921.1h.01M1671.1 936.4h.01M1650.0 936.9h.01M1664.8 951.3h.01M1646.7 951.9h.01M1668.0 952.2h.01M1642.2 966.5h.01M1638.3 968.0h.01M1653.6 966.7h.01M1662.4 983.3h.01M1630.3 983.0h.01M1642.5 984.2h.01M1631.5 1004.6h.01M1662.5 1004.9h.01M1627.4 1014.7h.01M1651.0 1014.5h.01M1633.0 1035.1h.01M1656.5 1033.6h.01M1632.4 1047.8h.01M1657.9 1047.5h.01M1667.3 1062.2h.01M1668.6 1062.9h.01M1667.7 1062.8h.01M1653.8 1071.8h.01M1641.5 1072.9h.01M1644.6 1071.7h.01M1660.3 1073.3h.01M1660.5 1073.5h.01M1636.5 1072.1h.01M1661.0 1092.8h.01M1661.9 1091.4h.01M1644.0 1093.0h.01M1670.2 1090.8h.01M1651.5 1108.2h.01"/>
<path d="M1643.8 826.9h.01M1663.3 827.0h.01M1659.7 827.6h.01M1651.7 827.9h.01M1628.1 859.2h.01M1649.4 866.4h.01M1655.5 868.1h.01M1627.9 867.2h.01M1631.0 865.6h.01M1671.5 882.8h.01M1636.0 881.8h.01M1663.2 883.0h.01M1635.6 882.5h.01M1644.2 889.7h.01M1644.2 888.9h.01M1650.8 889.9h.01M1672.7 908.1h.01M1658.2 907.4h.01M1672.2 921.1h.01M1651.1 920.9h.01M1632.7 920.8h.01M1654.8 935.1h.01M1632.1 936.1h.01M1630.4 950.5h.01M1659.4 950.8h.01M1663.7 951.6h.01M1640.9 968.1h.01M1672.3 967.8h.01M1656.2 967.2h.01M1631.9 982.5h.01M1627.5 982.9h.01M1631.1 984.1h.01M1664.3 1004.9h.01M1642.3 1005.1h.01M1667.9 1015.4h.01M1643.0 1013.3h.01M1659.6 1034.4h.01M1673.0 1035.1h.01M1662.7 1049.1h.01M1645.9 1048.7h.01M1649.3 1062.9h.01M1632.5 1062.2h.01M1673.3 1063.9h.01M1671.1 1072.5h.01M1647.7 1071.6h.01M1665.2 1073.5h.01M1664.6 1072.6h.01M1637.6 1072.3h.01M1652.6 1072.2h.01M1641.3 1092.4h.01M1653.1 1092.6h.01M1635.1 1092.6h.01M1628.3 1091.4h.01M1664.1 1108.4h.01"/>
<path d="M1632.2 826.8h.01M1652.5 827.8h.01M1672.8 828.2h.01M1642.1 827.0h.01M1671.8 857.9h.01M1633.0 867.3h.01M1670.6 865.4h.01M1629.8 868.0h.01M1652.7 866.4h.01M1650.7 882.4h.01M1643.3 881.5h.01M1667.3 881.6h.01M1652.0 882.6h.01M1629.8 889.3h.01M1660.7 890.8h.01M1647.2 888.9h.01M1656.2 906.4h.01M1663.9 907.3h.01M1647.2 921.5h.01M1670.8 919.6h.01M1627.4 921.7h.01M1631.4 937.3h.01M1650.4 935.5h.01M1634.9 952.2h.01M1657.3 951.8h.01M1641.4 951.9h.01M1645.3 968.8h.01M1673.2 966.4h.01M1670.0 966.6h.01M1664.7 983.5h.01M1646.1 981.6h.01M1646.6 981.9h.01M1632.1 1004.9h.01M1670.3 1005.0h.01M1663.8 1015.5h.01M1634.9 1014.0h.01M1632.4 1033.7h.01M1665.9 1033.4h.01M1631.3 1049.2h.01M1628.2 1049.0h.01M1670.0 1061.3h.01M1661.5 1061.4h.01M1666.5 1061.7h.01M1643.9 1074.0h.01M1653.2 1073.7h.01M1629.8 1072.7h.01M1657.4 1073.2h.01M1640.7 1072.3h.01M1649.7 1074.2h.01M1631.2 1092.3h.01M1671.3 1090.6h.01M1653.9 1092.1h.01M1637.9 1091.8h.01M1656.0 1106.3h.01"/>
<path d="M1638.0 827.0h.01M1664.3 828.3h.01M1650.7 827.6h.01M1642.6 827.7h.01M1658.5 858.4h.01M1658.6 866.6h.01M1660.9 867.4h.01M1656.0 867.8h.01M1667.2 867.8h.01M1627.9 881.7h.01M1631.1 883.0h.01M1658.6 881.5h.01M1650.4 888.8h.01M1659.2 890.7h.01M1637.2 891.1h.01M1665.7 889.8h.01M1666.3 906.8h.01M1652.4 905.9h.01M1672.2 921.2h.01M1637.9 920.6h.01M1637.2 921.9h.01M1659.3 935.9h.01M1644.3 936.4h.01M1655.7 952.4h.01M1653.5 951.5h.01M1664.2 950.5h.01M1647.2 967.8h.01M1632.6 966.5h.01M1653.3 967.9h.01M1658.8 981.7h.01M1646.1 981.9h.01M1659.5 981.5h.01M1667.6 1003.8h.01M1669.6 1014.0h.01M1657.2 1013.3h.01M1663.1 1012.9h.01M1650.5 1035.6h.01M1641.4 1034.1h.01M1663.0 1048.7h.01M1638.1 1061.7h.01M1647.8 1062.4h.01M1657.7 1063.1h.01M1644.3 1061.6h.01M1629.9 1072.8h.01M1629.2 1073.9h.01M1657.5 1073.7h.01M1653.1 1073.8h.01M1643.1 1072.2h.01M1662.9 1073.7h.01M1661.0 1091.7h.01M1627.3 1092.4h.01M1641.0 1091.8h.01M1665.9 1092.3h.01M1632.6 1108.1h.01"/>
<path d="M1638.1 827.5h.01M1638.9 827.2h.01M1644.2 827.0h.01M1671.7 827.8h.01M1648.9 859.2h.01M1655.7 866.0h.01M1666.5 867.7h.01M1634.2 867.3h.01M1659.6 866.9h.01M1661.7 881.4h.01M1656.6 882.5h.01M1647.2 881.9h.01M1627.5 888.5h.01M1652.6 889.0h.01M1642.2 890.8h.01M1635.1 890.0h.01M1632.9 907.3h.01M1632.1 906.1h.01M1657.1 919.8h.01M1646.3 922.0h.01M1631.0 921.6h.01M1660.6 936.7h.01M1668.7 936.8h.01M1648.4 950.9h.01M1635.5 950.3h.01M1666.4 951.0h.01M1627.3 966.4h.01M1627.7 966.9h.01M1670.3 967.8h.01M1632.7 983.9h.01M1663.3 982.6h.01M1666.0 982.6h.01M1662.3 1006.5h.01M1673.3 1015.5h.01M1637.9 1014.5h.01M1627.6 1014.8h.01M1665.3 1033.7h.01M1658.9 1033.6h.01M1665.0 1049.5h.01M1660.3 1061.8h.01M1667.2 1063.2h.01M1650.9 1063.1h.01M1636.7 1061.8h.01M1654.1 1073.0h.01M1643.0 1072.1h.01M1628.8 1072.9h.01M1672.5 1072.4h.01M1653.6 1072.0h.01M1648.9 1074.3h.01M1634.8 1091.3h.01M1641.8 1092.8h.01M1663.1 1091.3h.01M1650.1 1091.5h.01M1662.7 1107.4h.01"/>
<path d="M1644.4 828.4h.01M1647.4 826.8h.01M1636.5 827.0h.01M1645.6 828.2h.01M1634.8 866.4h.01M1653.6 867.5h.01M1665.6 866.7h.01M1639.8 865.6h.01M1663.6 866.9h.01M1643.5 883.2h.01M1644.4 882.2h.01M1671.5 883.3h.01M1636.1 891.0h.01M1631.5 888.7h.01M1659.5 888.9h.01M1668.6 890.0h.01M1660.2 906.1h.01M1629.9 905.5h.01M1645.2 920.0h.01M1647.6 919.6h.01M1651.0 921.8h.01M1650.1 937.0h.01M1672.8 935.0h.01M1631.2 951.1h.01M1672.0 950.7h.01M1634.7 968.4h.01M1644.3 968.8h.01M1664.8 966.9h.01M1631.5 967.9h.01M1649.9 983.3h.01M1637.9 983.4h.01M1654.0 1006.6h.01M1668.0 1004.7h.01M1648.3 1014.0h.01M1637.3 1013.6h.01M1649.9 1012.9h.01M1636.9 1033.3h.01M1653.3 1049.2h.01M1631.7 1049.0h.01M1651.7 1062.0h.01M1638.9 1063.7h.01M1647.7 1062.6h.01M1648.7 1062.8h.01M1672.9 1073.1h.01M1668.5 1073.6h.01M1628.3 1072.2h.01M1651.7 1072.5h.01M1673.0 1073.2h.01M1638.9 1072.4h.01M1632.2 1091.2h.01M1646.9 1090.8h.01M1642.8 1090.7h.01M1635.7 1106.9h.01M1670.5 1107.8h.01"/>
<path d="M1664.1 827.1h.01M1631.0 827.7h.01M1643.5 827.9h.01M1657.8 827.3h.01M1659.3 867.4h.01M1647.5 865.8h.01M1627.4 865.7h.01M1669.3 865.7h.01M1635.9 865.5h.01M1643.0 881.8h.01M1636.9 882.6h.01M1631.4 882.7h.01M1662.8 889.5h.01M1667.6 891.0h.01M1673.5 890.5h.01M1657.8 906.6h.01M1636.3 906.4h.01M1627.9 906.1h.01M1639.8 921.8h.01M1640.9 920.5h.01M1665.3 921.0h.01M1647.2 936.7h.01M1673.2 934.9h.01M1631.6 951.6h.01M1673.4 951.6h.01M1653.4 968.3h.01M1671.8 968.2h.01M1652.5 966.6h.01M1659.9 966.2h.01M1671.3 981.4h.01M1649.8 983.1h.01M1644.7 1005.9h.01M1639.7 1004.0h.01M1660.9 1012.8h.01M1651.6 1013.9h.01M1634.4 1013.2h.01M1664.8 1035.3h.01M1638.5 1048.4h.01M1668.1 1049.5h.01M1632.7 1062.9h.01M1650.3 1061.8h.01M1669.6 1061.4h.01M1635.9 1072.1h.01M1643.2 1073.1h.01M1663.4 1073.1h.01M1656.1 1073.5h.01M1631.4 1073.4h.01M1673.1 1074.3h.01M1662.6 1091.5h.01M1633.6 1093.0h.01M1627.8 1091.0h.01M1663.9 1091.7h.01M1646.7 1106.0h.01M1645.4 1106.0h.01"/>
<path d="M1639.4 827.1h.01M1636.7 828.4h.01M1655.6 827.5h.01M1647.7 827.8h.01M1657.0 867.8h.01M1653.3 866.1h.01M1647.4 865.8h.01M1673.2 866.9h.01M1639.9 866.1h.01M1657.6 882.7h.01M1626.8 881.6h.01M1650.6 883.4h.01M1652.0 890.5h.01M1638.4 890.9h.01M1628.4 889.0h.01M1648.4 906.5h.01M1657.6 906.3h.01M1644.0 921.6h.01M1628.7 920.9h.01M1660.1 922.0h.01M1638.5 936.8h.01M1654.2 936.7h.01M1638.8 935.2h.01M1657.2 951.0h.01M1666.1 952.2h.01M1642.5 968.6h.01M1638.6 968.8h.01M1634.0 967.3h.01M1657.0 967.0h.01M1647.6 982.0h.01M1657.0 982.8h.01M1655.9 1006.4h.01M1665.5 1004.1h.01M1656.0 1014.2h.01M1642.0 1013.9h.01M1645.4 1014.0h.01M1626.7 1033.6h.01M1633.1 1047.6h.01M1630.2 1047.9h.01M1640.5 1063.2h.01M1634.1 1062.7h.01M1670.2 1062.6h.01M1661.1 1074.0h.01M1634.8 1071.7h.01M1652.0 1072.8h.01M1647.6 1073.6h.01M1637.5 1071.9h.01M1667.9 1074.2h.01M1647.5 1091.3h.01M1638.5 1091.9h.01M1641.2 1093.3h.01M1649.1 1092.4h.01M1635.5 1106.7h.01"/>
<path d="M1649.2 826.8h.01M1631.1 828.3h.01M1640.0 828.3h.01M1637.6 827.1h.01M1655.5 867.7h.01M1643.8 866.9h.01M1659.1 866.7h.01M1664.1 867.4h.01M1665.8 867.5h.01M1651.4 883.4h.01M1638.6 881.5h.01M1637.1 881.4h.01M1663.4 890.2h.01M1638.6 890.9h.01M1646.1 888.5h.01M1638.2 906.6h.01M1627.7 906.9h.01M1645.3 920.7h.01M1667.8 921.6h.01M1670.1 921.8h.01M1666.2 937.4h.01M1639.6 935.7h.01M1655.5 952.3h.01M1628.7 952.4h.01M1661.6 950.9h.01M1634.0 966.8h.01M1631.4 966.9h.01M1639.2 967.7h.01M1670.8 982.1h.01M1656.4 983.7h.01M1641.9 982.5h.01M1652.2 1005.6h.01M1638.3 1005.0h.01M1656.5 1014.1h.01M1671.6 1013.4h.01M1670.3 1015.4h.01M1665.5 1035.7h.01M1668.5 1049.3h.01M1631.0 1048.1h.01M1661.4 1063.3h.01M1673.3 1062.6h.01M1672.0 1063.6h.01M1672.7 1073.7h.01M1654.5 1072.8h.01M1628.7 1074.1h.01M1635.4 1073.8h.01M1627.3 1073.1h.01M1652.3 1073.2h.01M1658.1 1092.7h.01M1639.4 1090.8h.01M1669.0 1092.6h.01M1633.0 1090.8h.01M1628.6 1107.9h.01"/>
</g>
<g stroke="#7ACBB1" stroke-opacity="0.3" stroke-width="6.9" stroke-linecap="round" fill="none">
<path d="M1740.1 826.8h.01M1725.9 826.9h.01M1752.4 828.4h.01M1743.3 826.9h.01M1736.4 828.0h.01M1758.2 827.2h.01M1748.1 827.5h.01M1724.7 857.7h.01M1746.0 858.7h.01M1752.9 867.9h.01M1752.4 867.8h.01M1744.5 865.6h.01M1741.8 867.4h.01M1749.8 867.2h.01M1770.0 881.7h.01M1728.0 881.1h.01M1749.9 881.8h.01M1754.9 882.9h.01M1729.4 890.4h.01M1745.5 888.8h.01M1769.2 891.0h.01M1760.5 907.7h.01M1756.1 906.9h.01M1727.5 920.5h.01M1729.8 921.0h.01M1745.7 921.3h.01M1729.2 919.8h.01M1735.8 937.5h.01M1754.6 937.3h.01M1763.5 951.8h.01M1735.9 950.6h.01M1770.2 952.0h.01M1759.5 967.5h.01M1768.0 967.6h.01M1753.6 968.3h.01M1760.5 967.8h.01M1739.9 967.9h.01M1764.2 983.9h.01M1744.3 983.9h.01M1738.5 983.9h.01M1747.8 1006.4h.01M1747.1 1006.6h.01M1733.6 1013.3h.01M1732.0 1014.6h.01M1748.6 1013.2h.01M1727.7 1033.8h.01M1750.6 1048.7h.01M1746.0 1048.5h.01M1747.1 1061.7h.01M1727.0 1061.9h.01M1761.2 1063.6h.01M1736.3 1061.4h.01M1738.4 1072.0h.01M1732.6 1073.5h.01M1748.1 1072.8h.01M1770.7 1072.6h.01M1752.4 1072.6h.01M1751.0 1071.5h.01M1759.9 1072.9h.01M1751.4 1093.0h.01M1747.8 1092.0h.01M1767.4 1090.9h.01M1739.5 1092.9h.01"/>
<path d="M1765.8 828.1h.01M1742.0 827.1h.01M1767.3 827.7h.01M1724.1 827.7h.01M1745.5 827.4h.01M1738.1 827.2h.01M1767.2 827.4h.01M1742.5 858.5h.01M1734.9 857.5h.01M1751.6 867.0h.01M1743.2 866.4h.01M1731.7 867.6h.01M1730.3 865.7h.01M1735.6 867.3h.01M1739.9 883.7h.01M1725.9 882.1h.01M1765.9 882.5h.01M1730.2 883.4h.01M1728.5 888.6h.01M1739.9 890.2h.01M1762.0 889.6h.01M1748.9 906.0h.01M1750.3 905.9h.01M1739.0 921.4h.01M1770.2 919.8h.01M1725.8 920.8h.01M1739.8 919.6h.01M1768.4 936.8h.01M1767.1 937.3h.01M1750.2 950.5h.01M1764.4 950.4h.01M1738.7 951.6h.01M1746.1 966.9h.01M1754.6 966.4h.01M1764.1 967.7h.01M1748.5 967.7h.01M1727.1 966.1h.01M1739.2 984.2h.01M1770.8 982.8h.01M1726.2 982.2h.01M1738.1 1005.1h.01M1736.1 1005.5h.01M1765.8 1015.2h.01M1733.3 1013.2h.01M1759.3 1015.0h.01M1735.2 1034.3h.01M1734.8 1047.8h.01M1738.4 1049.7h.01M1724.1 1063.6h.01M1741.5 1062.1h.01M1765.7 1062.9h.01M1757.9 1062.5h.01M1768.0 1071.7h.01M1770.2 1074.3h.01M1728.5 1072.7h.01M1729.5 1073.7h.01M1760.1 1072.8h.01M1753.9 1073.8h.01M1740.6 1073.6h.01M1734.1 1092.6h.01M1767.5 1091.2h.01M1754.2 1091.1h.01M1745.7 1093.2h.01"/>
<path d="M1749.6 826.9h.01M1746.1 827.1h.01M1751.9 827.1h.01M1726.6 826.8h.01M1750.7 826.9h.01M1733.6 827.5h.01M1754.7 827.5h.01M1751.7 858.7h.01M1764.5 857.4h.01M1735.6 865.6h.01M1753.9 867.2h.01M1730.1 867.6h.01M1740.8 866.2h.01M1737.1 867.2h.01M1770.0 883.1h.01M1740.3 883.3h.01M1725.9 881.5h.01M1742.8 890.7h.01M1739.0 890.0h.01M1748.0 889.0h.01M1749.9 889.6h.01M1731.2 906.7h.01M1748.8 905.5h.01M1744.9 921.9h.01M1769.0 921.5h.01M1752.9 921.6h.01M1739.4 921.3h.01M1750.3 936.5h.01M1756.6 936.5h.01M1733.3 950.5h.01M1732.1 952.9h.01M1731.5 951.8h.01M1752.5 967.7h.01M1733.5 967.9h.01M1769.0 967.8h.01M1744.5 966.1h.01M1766.3 966.6h.01M1770.1 983.1h.01M1756.9 982.8h.01M1758.3 982.5h.01M1746.5 1004.1h.01M1733.5 1006.6h.01M1747.4 1014.0h.01M1762.4 1013.2h.01M1749.0 1035.5h.01M1748.8 1035.0h.01M1734.3 1048.0h.01M1746.6 1049.8h.01M1733.6 1062.9h.01M1737.2 1061.4h.01M1762.2 1062.6h.01M1752.5 1061.5h.01M1770.2 1074.1h.01M1752.6 1074.0h.01M1744.9 1073.4h.01M1730.0 1072.6h.01M1729.3 1073.7h.01M1751.3 1073.4h.01M1763.2 1071.8h.01M1725.4 1091.5h.01M1728.0 1093.2h.01M1728.0 1092.0h.01M1754.8 1091.5h.01"/>
<path d="M1729.4 827.0h.01M1738.1 827.5h.01M1736.8 828.4h.01M1728.8 826.8h.01M1747.9 827.6h.01M1751.9 827.1h.01M1747.1 827.2h.01M1735.1 859.7h.01M1729.3 858.1h.01M1758.2 867.8h.01M1725.5 867.8h.01M1739.5 867.1h.01M1745.6 866.7h.01M1761.1 881.6h.01M1763.7 883.5h.01M1744.4 881.2h.01M1724.8 882.9h.01M1742.0 889.5h.01M1749.2 890.8h.01M1765.4 890.1h.01M1743.2 889.5h.01M1766.2 906.1h.01M1724.2 905.6h.01M1766.6 919.8h.01M1734.3 922.1h.01M1764.3 919.7h.01M1732.2 919.4h.01M1751.0 934.9h.01M1730.6 937.3h.01M1725.1 951.4h.01M1759.3 951.2h.01M1756.8 952.0h.01M1732.6 967.6h.01M1770.2 968.7h.01M1753.0 967.3h.01M1767.1 966.3h.01M1724.1 967.7h.01M1760.1 982.0h.01M1760.0 983.3h.01M1733.6 982.2h.01M1751.0 1004.8h.01M1736.1 1005.9h.01M1729.4 1014.7h.01M1741.8 1012.9h.01M1735.3 1035.6h.01M1768.4 1034.9h.01M1746.9 1048.8h.01M1732.0 1048.7h.01M1742.7 1062.9h.01M1741.2 1063.2h.01M1765.8 1062.6h.01M1768.7 1062.3h.01M1742.2 1073.0h.01M1759.2 1073.1h.01M1762.9 1072.4h.01M1753.2 1071.9h.01M1754.6 1074.1h.01M1746.1 1072.3h.01M1768.0 1073.6h.01M1750.8 1090.7h.01M1756.8 1091.6h.01M1762.0 1092.4h.01M1766.4 1091.2h.01"/>
<path d="M1760.3 827.2h.01M1725.1 827.6h.01M1767.3 828.0h.01M1763.4 827.2h.01M1770.4 828.1h.01M1731.8 827.9h.01M1750.8 828.2h.01M1765.0 857.1h.01M1770.2 857.8h.01M1734.7 867.2h.01M1750.2 867.7h.01M1759.6 867.0h.01M1733.6 867.7h.01M1756.7 881.3h.01M1754.6 882.8h.01M1735.5 883.4h.01M1730.6 882.1h.01M1749.8 890.0h.01M1757.1 888.9h.01M1756.5 890.0h.01M1728.1 888.5h.01M1742.6 906.8h.01M1757.5 906.8h.01M1750.2 920.9h.01M1736.8 922.0h.01M1764.0 919.9h.01M1751.6 919.8h.01M1768.4 935.1h.01M1770.8 935.3h.01M1750.9 952.5h.01M1741.0 952.9h.01M1761.3 952.4h.01M1749.7 966.3h.01M1738.3 967.5h.01M1736.3 966.7h.01M1758.5 966.9h.01M1729.1 982.2h.01M1751.2 981.5h.01M1743.3 982.1h.01M1762.7 982.5h.01M1751.4 1004.4h.01M1739.1 1005.4h.01M1753.0 1013.7h.01M1736.1 1014.0h.01M1727.5 1035.0h.01M1743.8 1034.5h.01M1757.1 1047.9h.01M1740.3 1048.6h.01M1769.3 1062.7h.01M1765.9 1063.3h.01M1736.0 1063.5h.01M1726.3 1061.5h.01M1736.0 1072.2h.01M1767.4 1073.7h.01M1729.6 1074.0h.01M1724.4 1074.3h.01M1728.9 1073.6h.01M1724.9 1072.9h.01M1727.2 1072.5h.01M1750.0 1090.7h.01M1754.6 1091.9h.01M1730.7 1090.9h.01M1727.5 1106.3h.01"/>
<path d="M1752.1 828.3h.01M1727.6 827.0h.01M1725.8 828.2h.01M1725.9 827.3h.01M1724.7 827.9h.01M1762.6 827.1h.01M1743.9 827.7h.01M1737.3 858.5h.01M1745.5 867.8h.01M1750.8 867.2h.01M1738.3 866.4h.01M1746.2 867.0h.01M1739.7 866.3h.01M1754.6 883.5h.01M1765.7 883.0h.01M1753.5 882.0h.01M1760.6 883.5h.01M1761.5 890.8h.01M1761.3 888.6h.01M1764.4 889.0h.01M1728.7 907.8h.01M1737.0 905.5h.01M1763.8 907.7h.01M1738.4 920.5h.01M1748.7 921.3h.01M1746.9 921.6h.01M1726.9 936.0h.01M1736.0 935.2h.01M1745.5 935.3h.01M1767.2 951.7h.01M1744.2 952.2h.01M1728.7 951.2h.01M1770.7 967.3h.01M1758.9 967.1h.01M1724.1 968.2h.01M1730.6 968.7h.01M1761.9 982.0h.01M1760.3 981.6h.01M1756.9 981.7h.01M1734.6 982.7h.01M1741.1 1006.6h.01M1740.8 1014.7h.01M1753.4 1013.8h.01M1755.5 1014.9h.01M1765.6 1034.1h.01M1763.4 1033.2h.01M1770.4 1047.2h.01M1748.8 1062.9h.01M1751.0 1061.3h.01M1736.6 1062.6h.01M1747.2 1063.8h.01M1731.6 1063.3h.01M1766.4 1073.9h.01M1765.1 1073.7h.01M1726.4 1073.6h.01M1769.6 1073.6h.01M1761.3 1072.8h.01M1738.7 1072.6h.01M1725.1 1071.9h.01M1745.9 1091.9h.01M1725.6 1092.1h.01M1757.0 1093.3h.01M1749.4 1106.1h.01"/>
<path d="M1768.9 828.3h.01M1755.7 827.7h.01M1770.7 827.2h.01M1747.1 827.6h.01M1738.6 828.2h.01M1769.9 828.2h.01M1744.2 827.5h.01M1739.1 859.6h.01M1726.7 866.1h.01M1744.6 865.9h.01M1766.2 866.7h.01M1760.3 865.6h.01M1749.4 868.1h.01M1726.0 883.4h.01M1728.6 883.3h.01M1747.9 883.3h.01M1737.7 881.4h.01M1739.4 888.5h.01M1738.8 890.7h.01M1750.0 890.1h.01M1755.5 906.4h.01M1760.7 906.3h.01M1739.8 906.2h.01M1740.2 919.4h.01M1755.6 920.6h.01M1736.6 920.1h.01M1758.4 934.8h.01M1724.8 936.4h.01M1769.5 934.9h.01M1732.6 951.8h.01M1751.5 950.2h.01M1745.2 950.3h.01M1739.3 968.2h.01M1767.6 967.0h.01M1739.0 966.4h.01M1763.0 967.0h.01M1761.1 983.9h.01M1769.2 984.0h.01M1738.4 981.9h.01M1742.5 983.5h.01M1770.0 1004.4h.01M1724.8 1013.2h.01M1741.7 1015.4h.01M1741.8 1015.3h.01M1728.0 1035.4h.01M1760.1 1034.5h.01M1761.5 1049.2h.01M1730.2 1063.9h.01M1754.1 1062.3h.01M1770.0 1063.6h.01M1731.6 1061.5h.01M1730.3 1062.5h.01M1747.7 1071.6h.01M1726.1 1074.1h.01M1753.8 1071.6h.01M1736.3 1071.9h.01M1740.7 1071.6h.01M1762.5 1073.0h.01M1755.8 1073.4h.01M1737.1 1092.0h.01M1763.2 1091.6h.01M1726.9 1091.8h.01M1747.0 1108.5h.01"/>
<path d="M1760.7 827.2h.01M1769.7 826.9h.01M1733.8 828.2h.01M1730.7 827.6h.01M1743.6 828.4h.01M1733.8 828.3h.01M1740.9 827.8h.01M1765.9 857.4h.01M1727.1 865.9h.01M1732.4 866.1h.01M1735.9 866.5h.01M1743.9 865.6h.01M1757.3 866.9h.01M1736.0 882.3h.01M1761.8 881.1h.01M1765.0 883.5h.01M1756.3 883.5h.01M1764.5 888.5h.01M1759.7 889.2h.01M1736.8 888.6h.01M1761.8 906.2h.01M1738.2 906.1h.01M1762.6 907.1h.01M1768.8 920.1h.01M1752.0 921.3h.01M1770.2 921.8h.01M1767.9 937.2h.01M1768.3 936.8h.01M1748.9 936.8h.01M1751.7 951.7h.01M1733.7 952.7h.01M1728.8 950.8h.01M1753.5 966.8h.01M1724.0 968.6h.01M1747.4 968.7h.01M1753.5 968.0h.01M1724.5 984.0h.01M1759.2 983.6h.01M1758.5 982.6h.01M1730.9 981.8h.01M1729.9 1006.3h.01M1758.6 1014.2h.01M1724.7 1013.2h.01M1761.3 1015.0h.01M1751.7 1034.5h.01M1757.6 1048.2h.01M1755.4 1048.6h.01M1750.2 1061.2h.01M1762.8 1063.0h.01M1733.8 1061.7h.01M1750.9 1061.5h.01M1751.3 1062.7h.01M1765.7 1073.0h.01M1727.5 1073.2h.01M1769.4 1071.9h.01M1729.1 1072.1h.01M1751.2 1073.6h.01M1753.5 1073.5h.01M1744.6 1072.4h.01M1767.9 1092.0h.01M1726.0 1093.0h.01M1768.7 1091.6h.01M1757.0 1108.2h.01"/>
<path d="M1738.8 827.3h.01M1768.9 828.3h.01M1766.1 827.3h.01M1761.6 828.2h.01M1767.2 827.6h.01M1757.9 827.2h.01M1744.0 827.8h.01M1735.2 859.1h.01M1755.2 866.8h.01M1739.4 865.5h.01M1736.9 866.0h.01M1735.7 865.4h.01M1727.1 867.4h.01M1762.5 882.2h.01M1754.1 881.9h.01M1732.1 883.1h.01M1756.2 881.6h.01M1759.9 889.6h.01M1741.4 890.1h.01M1761.5 890.2h.01M1767.6 908.0h.01M1746.8 905.9h.01M1770.6 906.3h.01M1762.7 921.9h.01M1758.4 920.2h.01M1724.2 921.2h.01M1741.4 934.7h.01M1741.2 935.9h.01M1748.3 934.8h.01M1724.0 952.6h.01M1756.5 952.6h.01M1755.4 951.9h.01M1735.5 966.9h.01M1725.6 967.6h.01M1738.0 967.1h.01M1736.5 966.3h.01M1763.5 981.9h.01M1739.2 983.3h.01M1743.1 982.6h.01M1753.6 981.6h.01M1734.3 1004.8h.01M1724.0 1014.9h.01M1764.5 1013.0h.01M1730.3 1014.8h.01M1725.2 1035.7h.01M1769.0 1047.2h.01M1768.1 1048.7h.01M1737.1 1063.0h.01M1725.6 1061.3h.01M1727.4 1062.8h.01M1731.0 1062.6h.01M1746.0 1063.6h.01M1728.8 1073.0h.01M1769.6 1073.3h.01M1729.7 1072.1h.01M1766.0 1072.7h.01M1750.5 1071.9h.01M1735.9 1072.9h.01M1731.4 1092.3h.01M1724.0 1092.3h.01M1766.4 1091.8h.01M1765.1 1093.0h.01M1770.2 1107.2h.01"/>
<path d="M1743.2 827.2h.01M1757.0 827.2h.01M1751.3 828.2h.01M1765.1 827.7h.01M1765.2 827.3h.01M1754.4 827.1h.01M1769.6 828.3h.01M1756.7 857.5h.01M1765.8 865.5h.01M1768.6 867.2h.01M1731.2 867.4h.01M1748.6 866.2h.01M1733.8 865.9h.01M1744.1 883.1h.01M1737.2 883.1h.01M1748.0 882.5h.01M1743.1 883.4h.01M1760.9 889.5h.01M1731.1 888.8h.01M1727.9 890.5h.01M1724.4 907.5h.01M1741.0 905.7h.01M1726.0 921.8h.01M1729.7 921.2h.01M1757.5 920.8h.01M1740.3 920.5h.01M1749.0 934.8h.01M1735.0 935.5h.01M1758.2 951.0h.01M1757.4 952.5h.01M1734.4 951.7h.01M1729.9 967.1h.01M1770.9 967.8h.01M1725.2 967.4h.01M1761.9 968.5h.01M1748.9 968.8h.01M1748.2 983.6h.01M1770.4 984.1h.01M1727.5 984.0h.01M1732.0 983.5h.01M1730.1 1006.6h.01M1766.2 1014.3h.01M1727.5 1013.4h.01M1754.0 1013.8h.01M1750.5 1034.3h.01M1759.6 1049.4h.01M1740.7 1049.9h.01M1738.9 1061.9h.01M1749.0 1062.3h.01M1760.7 1062.0h.01M1745.9 1063.6h.01M1757.6 1062.4h.01M1748.2 1072.1h.01M1757.6 1074.2h.01M1759.7 1073.0h.01M1752.5 1074.3h.01M1741.2 1073.1h.01M1748.9 1073.7h.01M1760.9 1091.4h.01M1733.2 1091.6h.01M1731.6 1091.3h.01M1751.0 1092.8h.01M1766.3 1107.3h.01"/>
</g>
<g stroke="#7ACBB1" stroke-opacity="0.3" stroke-width="6.9" stroke-linecap="round" fill="none">
<path d="M1836.4 827.3h.01M1857.6 828.4h.01M1823.0 826.8h.01M1862.3 827.3h.01M1838.0 828.3h.01M1836.4 828.4h.01M1858.3 826.8h.01M1838.0 827.8h.01M1823.2 827.3h.01M1864.7 827.9h.01M1852.2 827.9h.01M1851.1 859.5h.01M1862.2 858.0h.01M1824.9 866.8h.01M1844.9 868.0h.01M1851.8 866.4h.01M1850.1 866.2h.01M1839.7 881.6h.01M1845.0 882.3h.01M1861.4 883.3h.01M1866.2 883.2h.01M1846.9 890.2h.01M1838.7 889.8h.01M1826.9 907.2h.01M1857.2 906.6h.01M1843.5 920.8h.01M1845.5 920.8h.01M1858.9 919.4h.01M1866.7 921.6h.01M1826.1 935.2h.01M1832.4 936.2h.01M1835.9 935.7h.01M1846.4 951.3h.01M1833.0 951.6h.01M1831.5 950.3h.01M1848.9 951.5h.01M1858.0 966.9h.01M1827.9 966.6h.01M1853.3 967.9h.01M1866.7 966.8h.01M1858.2 982.7h.01M1854.9 982.3h.01M1836.9 983.1h.01M1840.1 1004.1h.01M1825.3 1004.4h.01M1854.3 1012.9h.01M1843.6 1014.5h.01M1825.3 1034.8h.01M1865.8 1047.3h.01M1859.6 1061.3h.01M1835.8 1061.6h.01M1853.8 1062.4h.01M1840.9 1074.3h.01M1840.2 1072.9h.01M1825.9 1072.4h.01M1830.8 1073.6h.01M1849.1 1071.6h.01M1833.6 1092.6h.01M1854.9 1092.4h.01M1822.0 1091.8h.01M1836.1 1090.7h.01"/>
<path d="M1854.5 827.7h.01M1854.2 827.4h.01M1863.8 827.3h.01M1844.1 827.5h.01M1844.7 826.8h.01M1857.7 827.4h.01M1854.8 827.5h.01M1861.3 827.5h.01M1828.0 828.0h.01M1841.4 827.9h.01M1863.8 828.0h.01M1857.5 857.3h.01M1850.2 858.5h.01M1845.7 865.9h.01M1862.6 866.5h.01M1867.7 866.3h.01M1865.8 867.3h.01M1851.9 882.3h.01M1842.8 882.7h.01M1836.9 882.4h.01M1824.1 883.2h.01M1856.1 889.4h.01M1846.0 889.2h.01M1825.1 906.8h.01M1860.0 907.9h.01M1856.3 921.9h.01M1852.6 921.3h.01M1866.2 920.5h.01M1843.1 921.9h.01M1832.8 934.8h.01M1821.8 937.4h.01M1862.6 935.6h.01M1862.9 952.1h.01M1853.1 952.5h.01M1856.5 952.8h.01M1856.6 967.4h.01M1826.7 968.1h.01M1840.6 967.9h.01M1822.2 966.5h.01M1859.3 966.8h.01M1858.6 983.3h.01M1830.4 984.1h.01M1831.5 983.4h.01M1852.3 1004.5h.01M1821.7 1004.9h.01M1847.3 1012.9h.01M1868.1 1015.4h.01M1867.5 1034.9h.01M1850.0 1047.6h.01M1852.7 1062.7h.01M1823.1 1062.2h.01M1827.3 1062.7h.01M1837.6 1072.8h.01M1826.0 1072.2h.01M1862.8 1071.6h.01M1830.1 1072.5h.01M1858.8 1073.4h.01M1862.3 1091.6h.01M1856.8 1091.0h.01M1845.7 1092.7h.01M1858.3 1106.0h.01"/>
<path d="M1834.1 827.7h.01M1843.8 827.3h.01M1828.5 827.0h.01M1862.4 828.3h.01M1856.9 827.8h.01M1851.9 828.3h.01M1859.8 827.1h.01M1850.7 827.7h.01M1840.9 827.2h.01M1846.2 828.0h.01M1832.7 828.1h.01M1838.6 858.7h.01M1841.1 859.4h.01M1830.6 867.6h.01M1837.4 867.4h.01M1845.6 868.1h.01M1853.2 867.0h.01M1862.2 883.7h.01M1853.5 883.5h.01M1855.3 882.6h.01M1828.3 888.7h.01M1863.8 889.4h.01M1829.0 888.7h.01M1837.4 906.1h.01M1860.9 906.7h.01M1845.1 921.4h.01M1863.9 920.4h.01M1855.6 920.3h.01M1833.1 919.8h.01M1853.0 937.0h.01M1842.2 937.1h.01M1829.7 934.8h.01M1834.0 952.4h.01M1826.9 952.0h.01M1825.5 951.1h.01M1834.2 967.4h.01M1835.8 967.9h.01M1842.9 966.8h.01M1856.5 966.4h.01M1829.5 968.2h.01M1823.1 984.0h.01M1851.2 982.3h.01M1856.2 981.8h.01M1847.9 1004.5h.01M1846.2 1006.4h.01M1841.2 1013.7h.01M1829.6 1015.3h.01M1844.9 1033.9h.01M1865.3 1048.7h.01M1840.8 1062.6h.01M1837.0 1062.8h.01M1824.0 1063.4h.01M1836.9 1071.5h.01M1845.5 1073.8h.01M1859.0 1074.2h.01M1849.1 1072.8h.01M1826.0 1071.7h.01M1856.3 1091.0h.01M1827.7 1090.8h.01M1845.8 1093.3h.01M1856.6 1107.6h.01"/>
<path d="M1854.7 828.1h.01M1845.6 828.1h.01M1834.4 827.1h.01M1837.9 827.3h.01M1834.1 826.9h.01M1824.7 826.9h.01M1850.7 827.3h.01M1842.7 826.8h.01M1841.6 827.7h.01M1852.6 827.7h.01M1827.9 827.3h.01M1845.2 859.1h.01M1846.9 859.0h.01M1835.5 865.9h.01M1829.9 865.5h.01M1866.1 866.8h.01M1863.1 865.8h.01M1821.7 882.5h.01M1853.6 881.2h.01M1835.3 881.4h.01M1845.4 891.0h.01M1829.7 890.6h.01M1828.7 890.2h.01M1844.3 905.5h.01M1850.8 907.5h.01M1848.8 921.4h.01M1824.5 919.8h.01M1839.9 920.7h.01M1822.6 919.9h.01M1854.5 936.6h.01M1862.9 937.2h.01M1855.1 936.1h.01M1826.4 950.5h.01M1825.4 952.6h.01M1828.0 951.0h.01M1831.1 968.8h.01M1844.2 968.0h.01M1863.1 966.3h.01M1834.9 968.1h.01M1822.9 982.7h.01M1855.1 982.8h.01M1821.5 981.9h.01M1842.6 981.9h.01M1827.4 1003.8h.01M1840.8 1013.7h.01M1821.1 1014.4h.01M1847.0 1012.9h.01M1859.3 1033.9h.01M1861.3 1049.9h.01M1827.0 1063.7h.01M1846.6 1061.2h.01M1867.2 1062.9h.01M1837.1 1071.9h.01M1862.3 1074.2h.01M1843.8 1073.7h.01M1857.5 1072.8h.01M1824.1 1071.7h.01M1841.6 1092.1h.01M1841.5 1092.5h.01M1822.8 1090.6h.01M1845.7 1106.5h.01"/>
<path d="M1828.5 827.6h.01M1853.8 828.2h.01M1851.7 827.4h.01M1846.2 827.6h.01M1823.6 827.0h.01M1838.2 827.6h.01M1829.5 827.9h.01M1834.1 827.6h.01M1840.0 827.6h.01M1854.4 827.9h.01M1848.3 828.0h.01M1831.0 859.4h.01M1826.8 865.7h.01M1832.0 866.4h.01M1860.6 867.1h.01M1861.4 868.0h.01M1857.0 866.5h.01M1825.7 881.5h.01M1856.9 882.3h.01M1839.5 882.6h.01M1833.9 889.7h.01M1854.2 888.8h.01M1861.0 888.3h.01M1860.7 907.7h.01M1853.8 907.0h.01M1830.8 921.5h.01M1862.7 921.3h.01M1845.0 921.5h.01M1858.6 919.7h.01M1845.9 937.3h.01M1856.3 935.3h.01M1861.0 937.2h.01M1864.3 952.6h.01M1825.9 950.7h.01M1852.7 952.3h.01M1845.6 966.4h.01M1868.0 966.8h.01M1857.1 968.4h.01M1853.8 968.4h.01M1824.9 983.7h.01M1857.0 983.7h.01M1863.3 983.2h.01M1827.0 982.8h.01M1848.4 1004.9h.01M1861.9 1015.3h.01M1822.2 1015.2h.01M1857.6 1015.2h.01M1839.0 1034.0h.01M1857.8 1048.1h.01M1834.2 1063.5h.01M1867.8 1062.9h.01M1827.5 1062.7h.01M1859.2 1072.1h.01M1830.1 1073.0h.01M1826.8 1073.6h.01M1835.9 1072.4h.01M1865.0 1072.4h.01M1841.4 1092.3h.01M1838.9 1091.8h.01M1862.7 1093.1h.01M1823.8 1107.2h.01"/>
<path d="M1852.0 828.3h.01M1835.7 827.0h.01M1855.9 828.0h.01M1833.3 828.1h.01M1861.3 828.3h.01M1866.8 828.1h.01M1836.4 827.0h.01M1843.6 828.2h.01M1834.3 826.8h.01M1842.6 827.5h.01M1859.2 827.3h.01M1853.4 858.3h.01M1848.1 865.7h.01M1822.6 867.9h.01M1849.4 866.6h.01M1860.4 866.8h.01M1833.4 865.6h.01M1825.2 881.4h.01M1837.7 883.5h.01M1831.6 882.5h.01M1829.3 890.2h.01M1824.0 889.9h.01M1838.3 888.4h.01M1864.2 905.7h.01M1855.0 906.5h.01M1863.2 921.1h.01M1854.5 919.7h.01M1833.4 919.8h.01M1833.2 919.5h.01M1860.2 935.3h.01M1835.9 936.0h.01M1849.2 935.3h.01M1838.0 950.4h.01M1862.4 952.8h.01M1843.5 952.3h.01M1854.9 968.3h.01M1838.5 966.9h.01M1838.5 968.8h.01M1866.5 967.0h.01M1829.3 981.7h.01M1834.2 983.6h.01M1845.5 982.4h.01M1856.1 982.0h.01M1830.0 1006.4h.01M1845.1 1013.3h.01M1859.1 1015.2h.01M1846.5 1014.6h.01M1830.5 1034.3h.01M1857.6 1049.5h.01M1863.4 1062.9h.01M1866.1 1061.3h.01M1823.9 1072.6h.01M1844.2 1072.9h.01M1868.0 1073.9h.01M1855.6 1072.7h.01M1865.7 1074.2h.01M1865.7 1091.6h.01M1857.7 1090.8h.01M1845.9 1092.5h.01M1851.9 1091.9h.01M1847.8 1106.7h.01"/>
<path d="M1833.9 826.8h.01M1847.8 827.6h.01M1860.3 827.5h.01M1852.6 827.9h.01M1865.8 827.4h.01M1851.0 828.3h.01M1857.8 828.0h.01M1828.0 827.6h.01M1830.0 828.2h.01M1854.9 827.3h.01M1841.2 827.4h.01M1866.0 857.1h.01M1834.9 866.5h.01M1854.4 866.8h.01M1830.5 868.1h.01M1831.3 867.0h.01M1866.6 881.2h.01M1831.7 883.4h.01M1825.4 882.3h.01M1854.3 882.8h.01M1863.6 889.8h.01M1834.4 889.8h.01M1822.9 888.4h.01M1847.7 906.7h.01M1827.7 907.3h.01M1862.5 920.1h.01M1862.6 921.9h.01M1860.9 920.2h.01M1838.6 936.3h.01M1848.4 935.6h.01M1867.7 935.8h.01M1857.6 935.6h.01M1861.7 950.2h.01M1858.9 950.5h.01M1862.1 951.1h.01M1845.0 967.2h.01M1864.6 968.4h.01M1830.5 967.9h.01M1846.9 968.7h.01M1858.2 983.4h.01M1861.1 982.3h.01M1864.6 982.4h.01M1839.3 983.8h.01M1854.2 1004.6h.01M1826.6 1013.1h.01M1835.2 1014.1h.01M1867.0 1013.6h.01M1821.9 1035.4h.01M1825.0 1048.5h.01M1862.2 1062.4h.01M1845.8 1062.4h.01M1831.8 1073.7h.01M1860.7 1074.0h.01M1833.6 1072.1h.01M1827.2 1073.5h.01M1843.9 1073.9h.01M1856.2 1091.6h.01M1835.1 1091.3h.01M1823.9 1091.6h.01M1846.4 1091.0h.01M1837.2 1107.0h.01"/>
<path d="M1833.7 827.1h.01M1854.5 827.6h.01M1856.7 827.0h.01M1865.2 826.9h.01M1839.4 827.7h.01M1847.5 827.2h.01M1867.8 828.3h.01M1858.6 827.7h.01M1846.9 827.8h.01M1841.3 828.3h.01M1852.0 827.7h.01M1862.2 857.1h.01M1834.1 865.8h.01M1826.4 866.8h.01M1855.7 867.7h.01M1824.6 866.5h.01M1837.0 881.5h.01M1856.5 881.9h.01M1862.5 881.4h.01M1852.2 882.4h.01M1832.1 889.4h.01M1862.1 889.5h.01M1830.5 908.1h.01M1829.1 907.3h.01M1856.4 922.1h.01M1833.7 920.6h.01M1860.4 921.4h.01M1853.5 920.7h.01M1865.8 936.0h.01M1837.1 937.2h.01M1839.3 934.8h.01M1824.0 951.6h.01M1867.7 952.1h.01M1851.7 952.1h.01M1853.6 951.2h.01M1848.3 967.6h.01M1850.7 966.2h.01M1829.4 967.5h.01M1834.4 967.7h.01M1866.7 983.8h.01M1828.4 982.2h.01M1845.3 982.1h.01M1866.3 982.5h.01M1852.4 1005.9h.01M1865.2 1014.6h.01M1845.8 1015.5h.01M1849.5 1014.8h.01M1829.3 1035.0h.01M1849.6 1048.0h.01M1863.3 1061.4h.01M1830.4 1061.7h.01M1851.0 1071.7h.01M1831.7 1074.3h.01M1836.9 1071.7h.01M1824.2 1071.7h.01M1856.2 1073.1h.01M1831.6 1093.1h.01M1831.2 1093.3h.01M1854.8 1091.4h.01M1851.2 1090.7h.01M1855.7 1107.6h.01"/>
<path d="M1835.5 828.3h.01M1839.1 827.5h.01M1833.1 827.7h.01M1866.7 828.0h.01M1849.7 827.6h.01M1828.5 827.2h.01M1824.0 827.9h.01M1823.9 826.9h.01M1855.0 828.4h.01M1826.4 828.2h.01M1825.4 827.8h.01M1860.5 859.7h.01M1830.9 866.3h.01M1865.3 867.1h.01M1847.7 868.1h.01M1831.4 866.2h.01M1853.0 881.5h.01M1840.4 882.2h.01M1829.7 881.7h.01M1821.7 881.1h.01M1826.4 889.6h.01M1856.1 889.0h.01M1856.9 907.7h.01M1831.4 907.6h.01M1850.8 920.6h.01M1821.5 919.5h.01M1858.8 920.2h.01M1848.0 920.3h.01M1853.1 937.2h.01M1836.4 935.5h.01M1833.3 934.9h.01M1833.7 951.2h.01M1824.2 952.2h.01M1859.6 952.7h.01M1824.0 950.4h.01M1845.0 966.9h.01M1838.7 966.4h.01M1827.3 967.0h.01M1867.2 968.4h.01M1827.7 983.2h.01M1822.9 982.9h.01M1844.1 984.1h.01M1851.8 983.3h.01M1844.0 1004.5h.01M1830.9 1015.2h.01M1826.3 1013.7h.01M1841.6 1034.5h.01M1855.8 1035.9h.01M1829.5 1048.4h.01M1854.5 1062.7h.01M1843.9 1061.8h.01M1821.7 1072.3h.01M1844.2 1073.0h.01M1822.0 1073.6h.01M1856.5 1073.0h.01M1860.5 1072.4h.01M1856.0 1092.1h.01M1853.3 1091.1h.01M1839.7 1090.9h.01M1853.1 1090.8h.01M1853.1 1106.2h.01"/>
<path d="M1844.0 827.0h.01M1822.1 827.8h.01M1838.1 828.3h.01M1845.3 828.3h.01M1861.9 826.9h.01M1866.6 827.1h.01M1824.7 826.8h.01M1827.6 827.0h.01M1852.9 827.8h.01M1829.7 828.1h.01M1865.6 827.8h.01M1827.2 857.0h.01M1847.2 867.2h.01M1847.3 867.0h.01M1822.1 867.7h.01M1829.3 866.2h.01M1858.8 882.5h.01M1847.1 881.2h.01M1859.0 882.5h.01M1834.6 882.3h.01M1851.5 890.8h.01M1834.2 889.4h.01M1856.5 908.1h.01M1850.0 907.2h.01M1854.7 921.2h.01M1850.8 921.8h.01M1843.0 919.6h.01M1821.4 920.9h.01M1821.3 936.8h.01M1847.6 937.1h.01M1835.7 936.3h.01M1839.8 951.6h.01M1844.7 952.9h.01M1823.3 950.2h.01M1857.7 951.5h.01M1862.5 967.4h.01M1858.9 968.0h.01M1840.4 968.2h.01M1848.9 968.6h.01M1859.0 984.0h.01M1833.2 982.1h.01M1846.8 983.1h.01M1826.4 1005.0h.01M1851.2 1004.1h.01M1831.4 1014.4h.01M1840.1 1015.3h.01M1838.9 1034.4h.01M1862.3 1049.7h.01M1866.6 1049.3h.01M1832.6 1062.4h.01M1864.4 1062.2h.01M1848.5 1072.9h.01M1866.0 1071.7h.01M1835.7 1071.9h.01M1866.3 1071.6h.01M1866.2 1072.7h.01M1827.0 1091.8h.01M1836.6 1090.5h.01M1821.9 1093.0h.01M1826.6 1091.0h.01"/>
</g>
<g stroke="#7ACBB1" stroke-opacity="0.3" stroke-width="6.9" stroke-linecap="round" fill="none">
<path d="M1935.7 827.6h.01M1919.7 828.0h.01M1948.9 828.4h.01M1928.9 828.2h.01M1959.8 827.0h.01M1963.8 827.8h.01M1943.3 827.8h.01M1956.1 827.6h.01M1961.9 828.3h.01M1947.8 826.8h.01M1948.7 827.0h.01M1954.2 827.0h.01M1953.2 827.2h.01M1945.3 827.0h.01M1952.3 828.2h.01M1937.0 827.0h.01M1948.7 827.3h.01M1920.7 827.3h.01M1940.4 827.1h.01M1958.5 827.5h.01M1922.6 859.6h.01M1960.5 857.4h.01M1938.1 857.0h.01M1950.6 857.6h.01M1950.6 866.3h.01M1952.3 866.6h.01M1946.9 867.9h.01M1935.8 866.2h.01M1957.6 866.4h.01M1933.2 867.9h.01M1923.9 867.2h.01M1933.2 866.0h.01M1955.1 882.8h.01M1933.8 883.8h.01M1960.2 881.9h.01M1920.9 883.8h.01M1936.5 882.3h.01M1933.5 881.9h.01M1937.7 883.6h.01M1925.3 882.2h.01M1930.4 882.8h.01M1934.5 889.5h.01M1934.3 889.6h.01M1936.4 888.4h.01M1923.7 891.1h.01M1931.9 890.5h.01M1949.9 888.8h.01M1959.3 890.6h.01M1927.7 906.1h.01M1942.4 906.9h.01M1929.3 906.1h.01M1936.8 906.1h.01M1934.0 906.4h.01M1920.2 919.7h.01M1945.0 920.6h.01M1921.6 921.5h.01M1947.2 921.1h.01M1937.5 920.2h.01M1924.4 920.3h.01M1935.6 921.4h.01M1959.2 921.3h.01M1924.4 920.5h.01M1937.8 937.1h.01M1942.7 934.9h.01M1946.2 935.6h.01M1950.9 936.5h.01M1946.6 934.8h.01M1930.6 935.0h.01M1930.7 937.0h.01M1962.1 950.2h.01M1946.8 950.2h.01M1964.1 951.4h.01M1938.5 950.7h.01M1933.3 952.7h.01M1931.8 951.7h.01M1964.1 966.6h.01M1946.0 967.2h.01M1919.4 968.3h.01M1932.9 967.2h.01M1963.1 966.1h.01M1942.0 966.8h.01M1929.0 967.5h.01M1920.2 966.2h.01M1947.3 966.1h.01M1920.4 966.7h.01M1934.3 982.4h.01M1939.6 981.5h.01M1936.3 984.0h.01M1926.2 982.8h.01M1939.9 983.9h.01M1955.2 983.6h.01M1957.3 982.4h.01M1928.8 983.5h.01M1958.4 983.7h.01M1930.7 982.4h.01M1918.5 984.0h.01M1937.5 1005.2h.01M1929.3 1005.9h.01M1945.6 1005.9h.01M1948.5 1006.2h.01M1954.0 1014.0h.01M1929.5 1014.5h.01M1923.1 1014.1h.01M1960.4 1015.2h.01M1961.3 1014.0h.01M1931.3 1014.4h.01M1939.0 1033.6h.01M1958.7 1034.8h.01M1929.7 1033.6h.01M1926.9 1047.8h.01M1921.1 1047.9h.01M1946.7 1049.6h.01M1928.2 1047.3h.01M1955.1 1061.4h.01M1950.0 1061.9h.01M1950.3 1061.5h.01M1927.6 1063.8h.01M1960.9 1063.8h.01M1941.0 1073.0h.01M1937.4 1072.2h.01M1947.0 1073.8h.01M1933.8 1074.0h.01M1939.3 1073.3h.01M1931.1 1073.6h.01M1963.8 1073.3h.01M1940.9 1071.8h.01M1921.9 1072.0h.01M1963.2 1072.4h.01M1925.0 1073.7h.01M1938.4 1073.4h.01M1932.0 1093.1h.01M1920.6 1093.3h.01M1942.4 1090.7h.01M1944.2 1090.9h.01M1956.5 1092.2h.01M1931.4 1091.7h.01M1948.9 1091.4h.01M1932.8 1090.7h.01M1964.0 1090.7h.01M1927.1 1091.5h.01M1950.5 1090.6h.01M1940.4 1091.8h.01M1945.5 1107.5h.01"/>
<path d="M1941.0 827.0h.01M1934.2 827.3h.01M1957.1 827.7h.01M1939.2 828.0h.01M1924.9 828.2h.01M1928.7 826.8h.01M1918.6 827.6h.01M1940.7 827.6h.01M1960.2 827.5h.01M1961.0 828.1h.01M1960.2 827.8h.01M1936.2 827.6h.01M1936.0 828.4h.01M1924.5 827.0h.01M1920.6 827.3h.01M1932.4 827.8h.01M1928.7 828.1h.01M1942.5 827.1h.01M1937.6 826.8h.01M1953.1 827.2h.01M1925.4 858.6h.01M1938.8 858.3h.01M1931.0 859.6h.01M1927.4 859.5h.01M1956.0 865.9h.01M1962.8 865.7h.01M1960.7 868.0h.01M1935.5 867.7h.01M1929.8 867.2h.01M1933.2 866.7h.01M1935.6 866.1h.01M1951.9 867.0h.01M1939.8 882.2h.01M1925.8 881.4h.01M1946.2 882.7h.01M1931.8 881.4h.01M1935.4 883.3h.01M1945.0 881.3h.01M1956.3 883.1h.01M1931.0 882.8h.01M1939.2 881.3h.01M1936.7 890.1h.01M1962.1 889.2h.01M1960.9 889.2h.01M1957.6 889.8h.01M1919.7 888.8h.01M1949.0 891.1h.01M1952.2 890.0h.01M1953.0 906.2h.01M1961.5 907.1h.01M1931.2 907.0h.01M1933.2 907.6h.01M1938.1 905.8h.01M1942.2 919.4h.01M1923.1 920.6h.01M1948.1 921.0h.01M1950.9 920.0h.01M1930.5 920.8h.01M1943.9 921.1h.01M1926.0 920.0h.01M1960.6 919.8h.01M1932.2 921.8h.01M1944.0 935.9h.01M1935.8 937.5h.01M1946.6 934.9h.01M1923.8 935.9h.01M1952.2 935.0h.01M1956.0 935.9h.01M1945.1 952.0h.01M1935.6 951.4h.01M1964.0 951.3h.01M1944.1 951.8h.01M1950.2 952.6h.01M1928.4 952.9h.01M1947.0 950.8h.01M1944.3 968.0h.01M1920.4 968.7h.01M1960.1 966.9h.01M1937.9 968.2h.01M1965.0 966.3h.01M1950.6 967.6h.01M1946.0 968.8h.01M1939.6 966.7h.01M1951.0 967.6h.01M1938.4 967.7h.01M1925.5 983.7h.01M1936.4 983.1h.01M1928.3 982.5h.01M1951.3 982.8h.01M1952.8 982.7h.01M1951.5 983.2h.01M1919.8 983.2h.01M1954.5 982.8h.01M1920.9 984.0h.01M1954.9 981.9h.01M1961.0 984.0h.01M1920.2 1004.5h.01M1961.4 1004.6h.01M1950.6 1005.4h.01M1928.0 1006.2h.01M1964.4 1014.1h.01M1924.8 1013.2h.01M1934.7 1014.2h.01M1950.0 1013.3h.01M1947.4 1013.4h.01M1949.0 1013.8h.01M1953.8 1035.6h.01M1959.3 1033.4h.01M1949.2 1033.4h.01M1927.5 1049.0h.01M1936.2 1049.4h.01M1957.2 1047.4h.01M1948.4 1049.9h.01M1964.0 1063.4h.01M1956.3 1063.3h.01M1949.6 1061.8h.01M1928.7 1063.4h.01M1928.8 1062.5h.01M1957.8 1072.6h.01M1959.1 1071.5h.01M1941.9 1072.0h.01M1963.5 1072.7h.01M1926.0 1074.0h.01M1932.6 1073.2h.01M1932.3 1071.8h.01M1949.0 1071.6h.01M1933.4 1073.1h.01M1936.5 1074.2h.01M1928.9 1073.1h.01M1920.8 1073.9h.01M1926.8 1090.8h.01M1961.7 1091.8h.01M1947.1 1090.9h.01M1929.6 1092.0h.01M1951.8 1091.8h.01M1941.9 1092.8h.01M1931.8 1091.4h.01M1964.4 1091.2h.01M1922.9 1092.1h.01M1926.3 1092.1h.01M1922.5 1091.0h.01M1951.2 1090.9h.01M1936.3 1108.0h.01"/>
<path d="M1931.0 828.0h.01M1926.5 827.6h.01M1939.7 827.6h.01M1950.0 827.0h.01M1960.7 827.3h.01M1938.4 827.7h.01M1935.0 828.4h.01M1952.9 827.2h.01M1965.2 827.2h.01M1954.5 827.8h.01M1964.7 827.8h.01M1928.6 828.0h.01M1957.9 827.5h.01M1932.9 828.0h.01M1921.4 826.9h.01M1950.2 826.8h.01M1932.5 827.9h.01M1952.2 827.2h.01M1959.3 827.9h.01M1947.6 826.9h.01M1926.1 858.5h.01M1958.2 858.7h.01M1960.6 859.6h.01M1921.5 858.2h.01M1947.7 865.9h.01M1953.5 866.6h.01M1923.8 866.3h.01M1939.7 867.8h.01M1959.6 868.0h.01M1953.7 866.7h.01M1955.1 866.2h.01M1925.4 866.0h.01M1956.1 882.7h.01M1924.7 882.2h.01M1936.2 882.7h.01M1953.6 883.1h.01M1959.4 883.6h.01M1925.9 882.9h.01M1952.0 882.5h.01M1940.2 883.0h.01M1954.8 882.5h.01M1961.8 889.2h.01M1957.0 889.5h.01M1938.7 889.7h.01M1939.0 891.0h.01M1931.2 889.0h.01M1937.3 888.9h.01M1951.2 889.1h.01M1924.6 908.0h.01M1924.9 905.5h.01M1940.4 907.5h.01M1943.6 905.6h.01M1944.5 906.1h.01M1958.7 921.0h.01M1962.0 921.5h.01M1954.2 920.1h.01M1950.2 921.5h.01M1928.3 922.1h.01M1951.8 921.5h.01M1938.6 921.7h.01M1961.6 921.7h.01M1951.6 920.6h.01M1947.7 935.0h.01M1938.3 936.0h.01M1927.8 937.4h.01M1934.2 936.0h.01M1934.8 934.9h.01M1932.5 937.5h.01M1928.4 950.5h.01M1937.7 950.7h.01M1934.2 951.1h.01M1944.0 950.6h.01M1944.1 952.2h.01M1930.9 951.2h.01M1950.2 951.7h.01M1926.7 967.7h.01M1942.1 966.3h.01M1922.4 968.0h.01M1921.5 966.4h.01M1941.3 967.0h.01M1942.8 968.5h.01M1929.7 966.8h.01M1952.9 968.6h.01M1946.1 967.3h.01M1920.8 967.5h.01M1959.9 982.9h.01M1964.0 982.2h.01M1956.2 983.8h.01M1941.8 982.4h.01M1964.9 981.7h.01M1940.1 983.4h.01M1951.1 982.7h.01M1919.2 983.4h.01M1922.0 983.4h.01M1964.1 983.0h.01M1937.0 982.4h.01M1923.1 1005.0h.01M1938.5 1005.6h.01M1925.0 1004.2h.01M1941.8 1003.8h.01M1960.8 1015.2h.01M1955.8 1012.9h.01M1923.4 1014.6h.01M1939.4 1013.9h.01M1948.3 1012.9h.01M1947.3 1015.4h.01M1927.8 1035.4h.01M1958.6 1033.9h.01M1932.4 1034.1h.01M1964.0 1049.6h.01M1960.2 1048.1h.01M1943.3 1049.4h.01M1964.4 1062.0h.01M1935.4 1061.7h.01M1941.6 1063.9h.01M1957.7 1062.3h.01M1918.7 1063.9h.01M1930.8 1062.6h.01M1944.2 1072.9h.01M1940.9 1073.1h.01M1955.2 1072.6h.01M1941.4 1074.1h.01M1952.5 1072.5h.01M1948.6 1073.2h.01M1957.5 1071.8h.01M1958.7 1072.9h.01M1934.5 1072.0h.01M1925.2 1072.1h.01M1929.5 1072.4h.01M1925.0 1073.7h.01M1940.5 1090.9h.01M1959.8 1090.6h.01M1927.5 1091.9h.01M1930.3 1091.1h.01M1929.1 1092.5h.01M1931.3 1090.8h.01M1961.2 1092.0h.01M1934.9 1091.0h.01M1957.5 1092.9h.01M1925.3 1093.1h.01M1934.5 1092.8h.01M1963.7 1092.4h.01M1918.5 1108.0h.01"/>
<path d="M1936.7 827.3h.01M1931.0 827.5h.01M1935.8 828.1h.01M1921.7 828.4h.01M1954.1 828.3h.01M1932.9 827.2h.01M1965.0 827.9h.01M1934.0 827.1h.01M1952.1 827.2h.01M1946.4 827.5h.01M1952.5 827.0h.01M1958.3 827.4h.01M1945.6 827.3h.01M1920.1 828.3h.01M1950.8 828.2h.01M1934.5 827.7h.01M1960.3 827.0h.01M1930.7 828.0h.01M1943.5 827.5h.01M1920.9 827.9h.01M1926.0 857.7h.01M1930.3 859.7h.01M1955.3 858.1h.01M1923.3 857.4h.01M1924.2 865.5h.01M1920.4 867.5h.01M1927.5 866.0h.01M1940.6 867.9h.01M1940.8 866.7h.01M1958.1 865.4h.01M1926.8 866.9h.01M1951.2 866.6h.01M1960.5 883.2h.01M1936.0 881.9h.01M1951.9 882.6h.01M1937.3 882.7h.01M1960.9 883.6h.01M1950.8 881.3h.01M1939.2 883.7h.01M1926.3 882.0h.01M1921.5 882.8h.01M1965.2 890.2h.01M1947.4 890.7h.01M1920.4 888.6h.01M1923.1 891.1h.01M1956.5 888.9h.01M1924.5 889.7h.01M1937.5 905.5h.01M1945.7 907.9h.01M1954.1 905.6h.01M1957.0 905.5h.01M1948.6 907.8h.01M1945.2 906.2h.01M1934.5 920.9h.01M1954.7 921.4h.01M1935.6 920.5h.01M1963.7 919.6h.01M1958.9 921.1h.01M1946.9 921.0h.01M1959.3 921.7h.01M1938.2 919.8h.01M1931.1 921.4h.01M1946.9 935.4h.01M1954.6 936.9h.01M1943.6 936.5h.01M1949.1 937.5h.01M1960.8 936.8h.01M1923.8 935.2h.01M1935.6 952.9h.01M1926.2 952.3h.01M1952.6 951.0h.01M1942.9 951.5h.01M1953.4 951.9h.01M1960.3 952.6h.01M1934.2 951.2h.01M1938.3 967.6h.01M1951.5 967.6h.01M1936.9 967.5h.01M1949.7 968.0h.01M1961.0 967.6h.01M1929.7 967.9h.01M1949.6 967.6h.01M1945.9 968.6h.01M1931.7 968.0h.01M1960.5 968.1h.01M1956.0 983.6h.01M1939.9 983.1h.01M1964.2 981.7h.01M1938.1 981.5h.01M1960.8 983.5h.01M1929.0 983.4h.01M1962.8 982.0h.01M1962.7 983.5h.01M1945.5 982.4h.01M1944.1 983.2h.01M1920.0 981.6h.01M1930.9 1006.2h.01M1952.8 1006.2h.01M1952.0 1005.9h.01M1963.7 1014.5h.01M1952.9 1013.9h.01M1950.0 1015.1h.01M1942.1 1015.3h.01M1934.0 1013.3h.01M1963.2 1013.5h.01M1960.3 1013.6h.01M1953.3 1035.3h.01M1945.0 1034.5h.01M1960.1 1033.5h.01M1945.6 1049.2h.01M1934.7 1049.8h.01M1922.3 1049.2h.01M1927.0 1061.5h.01M1933.9 1061.3h.01M1934.9 1062.3h.01M1943.3 1063.5h.01M1956.2 1061.5h.01M1941.9 1063.2h.01M1960.2 1073.3h.01M1957.1 1073.1h.01M1948.0 1073.8h.01M1961.2 1073.6h.01M1950.6 1072.5h.01M1958.8 1073.9h.01M1938.8 1073.1h.01M1919.3 1074.1h.01M1939.0 1074.1h.01M1949.4 1073.5h.01M1929.6 1073.6h.01M1933.9 1074.0h.01M1958.0 1092.6h.01M1929.5 1090.6h.01M1961.4 1091.7h.01M1951.7 1093.3h.01M1949.8 1090.9h.01M1947.9 1091.6h.01M1936.9 1091.4h.01M1921.4 1093.3h.01M1921.4 1092.7h.01M1941.1 1091.8h.01M1949.1 1090.9h.01M1926.6 1090.8h.01M1952.3 1106.5h.01"/>
<path d="M1925.6 826.8h.01M1950.6 827.6h.01M1950.8 827.4h.01M1923.6 827.9h.01M1947.4 828.4h.01M1964.5 827.7h.01M1962.1 828.4h.01M1936.0 827.3h.01M1938.1 828.2h.01M1953.1 827.9h.01M1935.4 827.7h.01M1939.3 827.4h.01M1944.1 826.9h.01M1930.9 827.6h.01M1937.5 828.3h.01M1937.2 828.1h.01M1955.5 827.8h.01M1946.4 828.4h.01M1939.5 827.1h.01M1926.0 827.4h.01M1959.5 858.9h.01M1927.9 859.4h.01M1931.6 857.4h.01M1937.8 857.0h.01M1949.6 867.9h.01M1948.9 867.8h.01M1950.6 867.7h.01M1952.5 867.6h.01M1938.5 868.1h.01M1945.0 868.0h.01M1961.3 867.7h.01M1953.4 865.5h.01M1942.8 883.4h.01M1959.3 881.5h.01M1951.8 881.4h.01M1951.6 883.0h.01M1944.3 882.3h.01M1940.2 881.6h.01M1929.0 881.7h.01M1947.7 883.6h.01M1956.7 882.6h.01M1940.2 890.1h.01M1957.4 889.3h.01M1957.3 889.4h.01M1960.4 891.0h.01M1919.5 889.5h.01M1950.4 889.6h.01M1938.9 906.8h.01M1952.0 906.6h.01M1964.6 906.9h.01M1961.8 907.7h.01M1938.6 907.5h.01M1936.6 907.7h.01M1954.5 920.8h.01M1951.8 921.3h.01M1925.2 920.4h.01M1938.7 919.5h.01M1932.2 919.5h.01M1924.9 920.0h.01M1929.1 921.7h.01M1932.9 921.5h.01M1952.3 919.6h.01M1923.7 935.1h.01M1919.5 935.5h.01M1936.9 936.4h.01M1920.4 935.2h.01M1954.6 935.0h.01M1963.4 934.8h.01M1918.7 951.4h.01M1939.5 951.4h.01M1950.0 951.8h.01M1934.8 952.4h.01M1928.8 952.8h.01M1930.9 950.4h.01M1939.9 950.3h.01M1930.3 967.5h.01M1930.5 968.5h.01M1919.5 966.3h.01M1940.4 966.4h.01M1961.5 966.6h.01M1935.1 967.0h.01M1945.1 967.4h.01M1952.7 967.9h.01M1955.8 966.6h.01M1953.2 966.7h.01M1940.4 983.6h.01M1928.9 983.8h.01M1935.5 982.7h.01M1928.4 984.2h.01M1923.5 982.0h.01M1931.1 983.7h.01M1957.6 981.5h.01M1931.9 983.0h.01M1931.7 982.8h.01M1931.8 982.8h.01M1928.0 1003.9h.01M1963.1 1004.9h.01M1952.2 1006.0h.01M1938.4 1004.7h.01M1960.5 1013.6h.01M1959.8 1014.6h.01M1938.2 1012.8h.01M1941.9 1013.2h.01M1950.5 1015.3h.01M1956.2 1015.2h.01M1960.9 1013.8h.01M1960.1 1034.8h.01M1952.0 1034.3h.01M1951.1 1033.6h.01M1953.8 1049.8h.01M1948.8 1049.8h.01M1964.0 1049.1h.01M1946.4 1062.2h.01M1934.1 1062.2h.01M1930.5 1061.7h.01M1929.4 1063.7h.01M1958.9 1063.7h.01M1923.8 1062.8h.01M1924.5 1073.8h.01M1927.8 1073.0h.01M1920.9 1071.9h.01M1954.5 1073.7h.01M1942.4 1073.7h.01M1958.5 1073.1h.01M1962.8 1073.7h.01M1945.4 1071.9h.01M1940.6 1073.9h.01M1926.0 1072.5h.01M1938.0 1073.8h.01M1947.2 1073.7h.01M1928.9 1090.8h.01M1931.2 1092.8h.01M1955.6 1091.1h.01M1923.4 1092.9h.01M1961.4 1092.9h.01M1933.4 1092.5h.01M1959.3 1091.4h.01M1921.3 1092.4h.01M1922.3 1091.2h.01M1958.1 1093.3h.01M1926.2 1092.8h.01M1946.7 1106.2h.01M1950.5 1107.5h.01"/>
<path d="M1941.9 827.2h.01M1953.6 827.4h.01M1920.9 828.0h.01M1924.6 827.7h.01M1952.9 827.1h.01M1958.5 827.8h.01M1935.2 827.1h.01M1936.0 826.9h.01M1958.5 827.0h.01M1950.2 827.8h.01M1935.5 827.9h.01M1927.0 828.4h.01M1918.7 826.8h.01M1962.5 828.2h.01M1922.4 827.8h.01M1935.0 827.1h.01M1939.8 828.1h.01M1962.3 827.2h.01M1951.4 827.1h.01M1928.6 828.4h.01M1921.7 857.1h.01M1962.0 858.9h.01M1938.5 857.0h.01M1952.8 858.6h.01M1926.2 866.4h.01M1948.5 867.2h.01M1961.0 865.4h.01M1962.3 867.9h.01M1923.3 865.8h.01M1924.6 866.3h.01M1934.7 866.4h.01M1929.8 866.2h.01M1926.3 883.0h.01M1963.6 881.1h.01M1922.4 883.8h.01M1935.0 882.4h.01M1937.5 882.1h.01M1923.4 882.0h.01M1939.9 881.4h.01M1964.0 883.5h.01M1936.7 882.0h.01M1959.0 890.1h.01M1948.8 890.2h.01M1940.2 888.8h.01M1933.4 889.8h.01M1958.3 889.3h.01M1933.8 891.0h.01M1951.9 907.7h.01M1962.1 905.9h.01M1925.6 906.8h.01M1919.5 906.9h.01M1956.5 907.0h.01M1935.4 921.2h.01M1952.1 919.4h.01M1946.3 920.0h.01M1948.7 921.5h.01M1965.0 921.2h.01M1935.7 920.6h.01M1927.0 919.9h.01M1944.6 920.0h.01M1919.3 920.6h.01M1934.8 920.5h.01M1962.0 935.9h.01M1927.3 935.1h.01M1959.8 936.7h.01M1959.1 937.3h.01M1928.3 936.4h.01M1931.5 934.9h.01M1919.7 951.3h.01M1964.9 952.0h.01M1952.0 951.9h.01M1928.3 952.7h.01M1964.6 952.6h.01M1945.9 951.8h.01M1943.2 951.3h.01M1945.3 968.6h.01M1948.7 966.7h.01M1943.3 968.1h.01M1925.1 967.1h.01M1931.6 967.8h.01M1929.7 968.2h.01M1934.6 968.6h.01M1936.0 968.1h.01M1963.7 966.9h.01M1949.3 967.2h.01M1956.0 982.6h.01M1940.5 982.4h.01M1949.9 983.3h.01M1945.0 982.3h.01M1923.4 982.3h.01M1959.4 983.2h.01M1934.4 981.7h.01M1960.0 982.0h.01M1933.9 982.6h.01M1964.0 984.1h.01M1938.7 1005.0h.01M1952.7 1004.9h.01M1956.2 1006.4h.01M1935.7 1005.9h.01M1921.8 1013.0h.01M1940.1 1013.3h.01M1918.3 1014.6h.01M1946.0 1015.2h.01M1951.4 1015.2h.01M1930.7 1013.6h.01M1948.7 1013.1h.01M1927.4 1034.8h.01M1964.0 1035.5h.01M1948.1 1034.4h.01M1950.1 1049.2h.01M1929.5 1049.8h.01M1931.5 1048.5h.01M1919.6 1063.3h.01M1930.3 1061.9h.01M1928.3 1062.7h.01M1923.5 1062.9h.01M1919.4 1061.5h.01M1956.4 1063.6h.01M1929.8 1074.0h.01M1932.7 1073.6h.01M1919.2 1073.6h.01M1931.0 1073.9h.01M1961.3 1072.8h.01M1955.5 1073.2h.01M1926.1 1073.8h.01M1933.9 1073.9h.01M1919.0 1074.2h.01M1962.0 1073.6h.01M1920.7 1074.0h.01M1942.3 1072.4h.01M1929.4 1091.6h.01M1931.1 1090.5h.01M1939.1 1091.4h.01M1946.1 1091.1h.01M1930.5 1093.0h.01M1954.1 1093.3h.01M1961.9 1091.1h.01M1929.6 1090.9h.01M1951.8 1090.6h.01M1935.0 1093.1h.01M1941.8 1092.7h.01M1925.2 1106.5h.01M1937.6 1108.2h.01"/>
<path d="M1937.7 828.4h.01M1922.2 827.3h.01M1962.1 828.0h.01M1935.4 827.2h.01M1933.4 828.4h.01M1938.1 827.1h.01M1949.9 827.3h.01M1962.5 827.1h.01M1952.2 828.1h.01M1955.1 827.6h.01M1937.7 827.0h.01M1935.1 827.5h.01M1947.3 827.8h.01M1931.9 827.8h.01M1959.5 826.9h.01M1927.1 827.6h.01M1939.9 826.8h.01M1941.5 827.8h.01M1930.2 827.6h.01M1924.7 828.1h.01M1922.3 857.9h.01M1934.9 857.0h.01M1944.5 857.1h.01M1926.9 858.6h.01M1932.7 865.5h.01M1936.5 865.9h.01M1949.2 865.4h.01M1948.0 866.4h.01M1939.7 867.3h.01M1924.4 865.6h.01M1965.1 868.1h.01M1956.2 867.4h.01M1920.5 882.2h.01M1937.0 881.1h.01M1962.5 883.3h.01M1929.4 882.6h.01M1959.8 882.9h.01M1933.8 881.9h.01M1956.2 882.3h.01M1928.8 883.0h.01M1920.2 882.0h.01M1950.3 890.6h.01M1954.2 889.6h.01M1919.3 890.0h.01M1945.2 890.5h.01M1946.7 889.9h.01M1951.4 890.6h.01M1960.4 907.2h.01M1949.1 905.8h.01M1941.3 907.1h.01M1953.1 906.6h.01M1939.1 905.7h.01M1919.0 920.0h.01M1953.5 920.7h.01M1919.8 919.8h.01M1949.6 921.8h.01M1927.3 921.5h.01M1924.9 921.0h.01M1954.1 920.9h.01M1919.8 919.6h.01M1944.2 921.5h.01M1928.7 936.2h.01M1957.2 936.0h.01M1944.9 937.1h.01M1950.8 935.9h.01M1928.8 936.3h.01M1954.5 935.9h.01M1939.0 936.5h.01M1919.5 951.6h.01M1918.5 951.8h.01M1929.2 952.6h.01M1931.7 952.8h.01M1930.1 950.3h.01M1921.7 952.7h.01M1949.6 967.5h.01M1949.3 966.9h.01M1936.8 968.6h.01M1919.8 967.3h.01M1929.3 966.3h.01M1950.8 968.4h.01M1959.4 966.7h.01M1953.2 966.7h.01M1956.4 967.1h.01M1942.0 967.7h.01M1930.0 967.0h.01M1936.8 983.2h.01M1923.3 982.9h.01M1935.5 982.2h.01M1936.3 983.1h.01M1926.6 982.3h.01M1944.6 982.0h.01M1918.4 982.0h.01M1936.4 982.4h.01M1923.4 982.5h.01M1953.4 983.3h.01M1946.7 1006.4h.01M1944.8 1004.2h.01M1961.3 1004.2h.01M1943.0 1003.9h.01M1931.2 1012.8h.01M1930.3 1014.5h.01M1925.3 1015.1h.01M1948.0 1015.3h.01M1940.9 1015.0h.01M1945.6 1013.1h.01M1953.4 1013.8h.01M1924.9 1033.5h.01M1960.5 1033.9h.01M1927.3 1034.5h.01M1963.3 1049.0h.01M1926.4 1047.9h.01M1919.9 1047.8h.01M1955.5 1063.9h.01M1931.6 1062.8h.01M1950.4 1063.3h.01M1932.0 1062.4h.01M1935.9 1063.0h.01M1943.6 1061.7h.01M1964.2 1072.7h.01M1954.6 1073.3h.01M1937.1 1072.3h.01M1943.4 1073.5h.01M1939.8 1073.6h.01M1930.4 1071.8h.01M1932.5 1073.1h.01M1954.0 1072.8h.01M1936.2 1073.0h.01M1965.2 1072.8h.01M1918.5 1072.4h.01M1941.7 1072.2h.01M1962.3 1092.0h.01M1962.5 1092.3h.01M1950.8 1092.1h.01M1934.5 1093.1h.01M1927.2 1092.2h.01M1949.0 1090.6h.01M1963.3 1092.6h.01M1939.3 1090.9h.01M1920.7 1091.3h.01M1944.3 1092.9h.01M1942.1 1090.5h.01M1923.9 1108.3h.01M1929.7 1105.9h.01"/>
<path d="M1936.4 827.5h.01M1941.0 827.2h.01M1932.1 827.5h.01M1963.7 826.8h.01M1952.7 826.8h.01M1963.9 827.2h.01M1941.2 828.3h.01M1936.2 827.8h.01M1941.8 827.6h.01M1948.5 826.8h.01M1921.1 826.8h.01M1927.0 827.5h.01M1960.9 826.9h.01M1948.4 827.8h.01M1953.7 827.4h.01M1931.6 827.5h.01M1922.6 827.8h.01M1921.9 827.5h.01M1943.8 827.5h.01M1943.7 827.7h.01M1953.9 858.4h.01M1950.8 858.6h.01M1962.0 858.7h.01M1946.8 857.4h.01M1931.4 866.8h.01M1957.8 866.1h.01M1956.0 866.8h.01M1927.6 866.4h.01M1939.5 868.0h.01M1920.9 868.0h.01M1950.8 866.9h.01M1960.7 882.9h.01M1947.4 882.7h.01M1954.1 883.0h.01M1956.6 882.7h.01M1953.4 882.4h.01M1921.1 883.3h.01M1932.3 883.3h.01M1964.5 883.8h.01M1935.4 882.4h.01M1950.5 883.5h.01M1943.8 890.3h.01M1933.4 888.3h.01M1930.1 889.4h.01M1948.7 889.3h.01M1957.0 889.6h.01M1946.6 889.6h.01M1960.0 907.7h.01M1942.2 907.3h.01M1955.3 907.5h.01M1963.5 905.4h.01M1932.3 906.9h.01M1943.0 920.8h.01M1953.2 920.8h.01M1942.9 921.5h.01M1964.0 920.6h.01M1941.3 921.7h.01M1959.4 919.8h.01M1939.6 921.6h.01M1951.3 919.8h.01M1930.5 920.4h.01M1945.6 936.7h.01M1938.7 937.1h.01M1942.8 935.4h.01M1931.7 935.0h.01M1957.4 936.7h.01M1961.4 936.3h.01M1961.0 935.2h.01M1947.4 951.4h.01M1959.5 952.6h.01M1944.3 952.4h.01M1937.8 951.3h.01M1920.7 951.8h.01M1928.5 951.2h.01M1941.4 967.0h.01M1927.5 968.2h.01M1931.3 966.9h.01M1962.1 966.8h.01M1955.9 966.2h.01M1930.3 968.3h.01M1962.1 966.7h.01M1938.7 966.7h.01M1932.3 966.8h.01M1951.4 967.0h.01M1945.8 966.1h.01M1928.2 983.6h.01M1926.4 982.5h.01M1941.1 983.0h.01M1934.4 983.6h.01M1920.8 984.0h.01M1950.2 983.8h.01M1922.4 982.8h.01M1919.6 984.1h.01M1918.3 981.7h.01M1946.4 983.5h.01M1942.1 1004.5h.01M1921.3 1005.5h.01M1919.4 1006.2h.01M1922.8 1005.9h.01M1924.5 1013.0h.01M1958.1 1013.7h.01M1931.2 1013.8h.01M1925.0 1015.5h.01M1941.1 1013.7h.01M1954.7 1014.6h.01M1920.2 1015.5h.01M1919.4 1034.8h.01M1939.1 1033.6h.01M1964.2 1033.3h.01M1949.8 1049.9h.01M1930.9 1047.2h.01M1954.9 1049.1h.01M1927.4 1063.8h.01M1952.3 1061.6h.01M1949.5 1062.8h.01M1957.2 1063.2h.01M1951.2 1062.5h.01M1945.1 1063.0h.01M1955.8 1073.0h.01M1947.7 1073.4h.01M1951.1 1071.9h.01M1945.2 1072.3h.01M1936.0 1071.6h.01M1948.2 1072.3h.01M1936.3 1073.0h.01M1940.3 1073.9h.01M1918.3 1073.9h.01M1928.1 1073.8h.01M1920.6 1073.0h.01M1955.0 1092.1h.01M1938.3 1090.6h.01M1941.0 1091.0h.01M1942.7 1091.0h.01M1945.8 1091.6h.01M1952.1 1090.8h.01M1948.2 1093.2h.01M1949.9 1092.7h.01M1941.2 1092.3h.01M1955.6 1092.8h.01M1933.9 1090.6h.01M1919.5 1092.1h.01M1924.0 1107.7h.01"/>
<path d="M1922.5 826.8h.01M1962.3 827.8h.01M1935.8 826.8h.01M1938.1 827.4h.01M1947.5 827.8h.01M1951.4 827.1h.01M1957.4 827.2h.01M1938.7 827.4h.01M1935.4 827.6h.01M1931.5 828.4h.01M1955.5 827.5h.01M1933.6 828.0h.01M1946.3 828.4h.01M1949.8 828.2h.01M1945.8 827.6h.01M1954.6 828.2h.01M1927.5 827.0h.01M1954.6 828.2h.01M1919.1 827.1h.01M1940.1 828.4h.01M1960.2 859.4h.01M1923.3 858.7h.01M1950.8 857.7h.01M1960.2 858.9h.01M1942.0 865.5h.01M1939.3 866.7h.01M1957.0 865.5h.01M1944.1 866.4h.01M1922.1 865.8h.01M1965.1 867.0h.01M1943.2 865.8h.01M1963.2 882.2h.01M1955.8 882.3h.01M1933.7 882.4h.01M1928.9 883.8h.01M1920.9 882.8h.01M1959.6 882.1h.01M1930.9 881.8h.01M1937.1 882.3h.01M1960.7 883.5h.01M1937.9 888.7h.01M1961.2 890.1h.01M1954.6 889.2h.01M1934.9 889.4h.01M1964.6 890.8h.01M1934.8 889.7h.01M1952.3 890.8h.01M1924.1 906.5h.01M1921.2 906.2h.01M1963.9 907.6h.01M1950.4 907.4h.01M1964.4 907.3h.01M1951.4 922.0h.01M1945.6 921.0h.01M1932.7 920.6h.01M1961.6 920.3h.01M1929.5 920.1h.01M1956.7 919.6h.01M1924.9 920.2h.01M1938.1 920.9h.01M1926.4 919.9h.01M1946.7 936.0h.01M1940.9 935.5h.01M1928.8 934.8h.01M1930.3 936.7h.01M1963.3 937.3h.01M1939.4 937.1h.01M1950.2 936.7h.01M1928.5 950.6h.01M1942.7 951.2h.01M1931.6 952.1h.01M1923.7 950.8h.01M1938.6 951.0h.01M1921.0 951.5h.01M1946.5 966.1h.01M1920.1 967.5h.01M1954.5 967.7h.01M1958.7 966.4h.01M1936.3 967.4h.01M1923.3 966.3h.01M1927.5 967.5h.01M1957.2 966.9h.01M1927.0 966.6h.01M1962.6 966.8h.01M1942.5 967.9h.01M1950.8 983.4h.01M1934.5 982.4h.01M1944.8 983.9h.01M1955.5 981.8h.01M1959.1 982.8h.01M1963.1 981.6h.01M1939.0 984.0h.01M1935.8 982.5h.01M1928.1 982.7h.01M1952.1 982.8h.01M1955.4 1004.6h.01M1928.6 1004.9h.01M1961.3 1004.3h.01M1941.0 1003.9h.01M1942.4 1014.1h.01M1941.3 1015.5h.01M1921.5 1013.1h.01M1943.2 1015.1h.01M1952.8 1014.6h.01M1926.4 1013.7h.01M1952.0 1033.6h.01M1936.1 1035.9h.01M1931.8 1034.9h.01M1920.3 1035.1h.01M1962.5 1048.2h.01M1931.4 1047.7h.01M1919.7 1047.4h.01M1945.7 1063.6h.01M1924.9 1063.5h.01M1920.6 1063.7h.01M1960.3 1061.6h.01M1933.8 1063.5h.01M1961.9 1061.8h.01M1942.8 1073.7h.01M1923.7 1072.1h.01M1962.0 1073.5h.01M1928.9 1073.9h.01M1937.4 1072.0h.01M1942.9 1072.3h.01M1920.0 1073.3h.01M1944.3 1072.7h.01M1960.7 1072.8h.01M1951.7 1071.7h.01M1960.1 1072.6h.01M1928.3 1093.2h.01M1958.9 1090.7h.01M1956.1 1090.8h.01M1959.7 1090.6h.01M1938.5 1092.6h.01M1946.1 1092.9h.01M1919.9 1091.1h.01M1923.8 1092.4h.01M1934.3 1093.2h.01M1922.0 1090.6h.01M1948.8 1091.4h.01M1927.8 1092.8h.01M1937.8 1106.9h.01"/>
<path d="M1945.9 827.7h.01M1958.3 828.1h.01M1964.5 828.2h.01M1924.5 827.4h.01M1933.8 827.1h.01M1961.5 826.8h.01M1940.8 827.5h.01M1919.9 827.5h.01M1939.8 826.8h.01M1960.4 827.6h.01M1948.5 827.9h.01M1953.1 827.8h.01M1947.6 827.7h.01M1920.4 827.5h.01M1949.1 827.6h.01M1941.2 828.1h.01M1932.5 827.6h.01M1923.0 827.3h.01M1939.4 828.2h.01M1943.1 828.0h.01M1952.2 857.2h.01M1932.0 857.1h.01M1949.1 859.7h.01M1919.4 866.3h.01M1932.6 865.7h.01M1964.6 865.6h.01M1951.0 867.9h.01M1927.0 866.8h.01M1954.0 867.6h.01M1944.4 866.5h.01M1922.8 866.5h.01M1964.0 881.3h.01M1950.4 883.6h.01M1958.0 883.5h.01M1938.4 882.1h.01M1945.1 883.2h.01M1953.7 882.7h.01M1951.8 881.3h.01M1920.8 881.4h.01M1945.3 882.1h.01M1930.6 889.6h.01M1963.1 889.5h.01M1957.8 889.1h.01M1960.5 889.9h.01M1932.2 890.8h.01M1940.5 890.6h.01M1964.1 889.0h.01M1929.6 906.9h.01M1949.6 906.4h.01M1931.6 905.8h.01M1937.2 908.0h.01M1943.7 906.3h.01M1924.2 920.1h.01M1962.3 919.4h.01M1953.1 921.6h.01M1928.4 920.1h.01M1919.2 920.4h.01M1929.1 922.0h.01M1935.7 920.6h.01M1922.7 921.4h.01M1959.3 921.0h.01M1920.3 937.2h.01M1955.6 935.0h.01M1921.0 937.1h.01M1927.4 935.6h.01M1960.9 937.4h.01M1931.2 935.1h.01M1923.3 937.0h.01M1964.0 950.6h.01M1957.7 952.0h.01M1935.8 951.7h.01M1939.5 951.2h.01M1955.1 950.2h.01M1956.7 952.9h.01M1932.6 967.5h.01M1950.0 967.7h.01M1960.0 967.8h.01M1949.6 968.7h.01M1933.4 967.9h.01M1965.2 966.6h.01M1957.5 966.6h.01M1956.3 966.1h.01M1946.7 966.7h.01M1936.3 968.1h.01M1960.9 967.1h.01M1923.2 983.2h.01M1955.1 983.1h.01M1940.4 983.4h.01M1931.4 982.7h.01M1939.5 981.5h.01M1957.7 983.3h.01M1948.2 982.0h.01M1924.9 984.1h.01M1927.2 983.0h.01M1932.9 983.0h.01M1950.3 1006.2h.01M1936.8 1004.0h.01M1932.0 1004.4h.01M1965.0 1006.6h.01M1926.9 1014.2h.01M1954.2 1014.4h.01M1938.5 1015.1h.01M1931.4 1015.2h.01M1920.9 1014.3h.01M1923.5 1014.2h.01M1936.5 1035.4h.01M1928.7 1033.2h.01M1945.4 1033.3h.01M1929.6 1033.6h.01M1961.3 1047.9h.01M1952.9 1048.2h.01M1956.4 1047.8h.01M1955.2 1062.7h.01M1928.3 1061.8h.01M1949.0 1061.6h.01M1927.3 1062.3h.01M1923.7 1062.0h.01M1965.2 1063.1h.01M1960.2 1073.1h.01M1954.7 1072.3h.01M1930.0 1074.0h.01M1942.5 1073.2h.01M1924.1 1072.6h.01M1963.3 1072.2h.01M1942.2 1074.1h.01M1951.7 1071.8h.01M1964.4 1072.8h.01M1927.9 1073.6h.01M1932.7 1073.2h.01M1950.9 1092.3h.01M1951.5 1092.7h.01M1935.3 1092.7h.01M1935.6 1091.4h.01M1934.6 1092.7h.01M1936.0 1092.9h.01M1927.0 1092.1h.01M1962.8 1092.5h.01M1939.7 1090.7h.01M1955.5 1093.1h.01M1946.8 1092.8h.01M1946.0 1090.7h.01M1962.4 1107.5h.01"/>
</g>
<path d="M1650.2 1014.16V1107.3" stroke="#000" stroke-width="2.8"/>
<rect x="1630.5" y="827.6" width="39.4" height="186.56" fill="#FDDEBE" fill-opacity="0.88" stroke="#000" stroke-width="2.8"/>
<path d="M1630.5 893.33H1669.9" stroke="#000" stroke-width="5.6"/>
<path d="M1747.4 1014.16V1107.3" stroke="#000" stroke-width="2.8"/>
<rect x="1727.7" y="827.6" width="39.4" height="186.56" fill="#A0DBC8" fill-opacity="0.88" stroke="#000" stroke-width="2.8"/>
<path d="M1727.7 889.13H1767.1" stroke="#000" stroke-width="5.6"/>
<path d="M1844.6 866.48V827.6" stroke="#000" stroke-width="2.8"/>
<path d="M1844.6 1014.16V1107.3" stroke="#000" stroke-width="2.8"/>
<rect x="1824.9" y="866.48" width="39.4" height="147.68" fill="#A0DBC8" fill-opacity="0.88" stroke="#000" stroke-width="2.8"/>
<path d="M1824.9 920.74H1864.3" stroke="#000" stroke-width="5.6"/>
<path d="M1941.8 866.48V827.6" stroke="#000" stroke-width="2.8"/>
<path d="M1941.8 1065.9V1107.3" stroke="#000" stroke-width="2.8"/>
<rect x="1922.1" y="866.48" width="39.4" height="199.43" fill="#A0DBC8" fill-opacity="0.88" stroke="#000" stroke-width="2.8"/>
<path d="M1922.1 933.05H1961.5" stroke="#000" stroke-width="5.6"/>
<rect x="1592.2" y="794.5" width="406.8" height="326.7" fill="none" stroke="#333" stroke-width="2"/>
<path d="M1592.2 1107.3h-7" stroke="#333" stroke-width="2.7"/>
<text x="1580.6" y="1114.9" font-size="20.8" text-anchor="end" fill="#4D4D4D">0.00</text>
<path d="M1592.2 1037.38h-7" stroke="#333" stroke-width="2.7"/>
<text x="1580.6" y="1044.97" font-size="20.8" text-anchor="end" fill="#4D4D4D">0.25</text>
<path d="M1592.2 967.45h-7" stroke="#333" stroke-width="2.7"/>
<text x="1580.6" y="975.05" font-size="20.8" text-anchor="end" fill="#4D4D4D">0.50</text>
<path d="M1592.2 897.52h-7" stroke="#333" stroke-width="2.7"/>
<text x="1580.6" y="905.12" font-size="20.8" text-anchor="end" fill="#4D4D4D">0.75</text>
<path d="M1592.2 827.6h-7" stroke="#333" stroke-width="2.7"/>
<text x="1580.6" y="835.2" font-size="20.8" text-anchor="end" fill="#4D4D4D">1.00</text>
<path d="M1650.2 1121.2v7" stroke="#333" stroke-width="2.7"/>
<text x="1650.2" y="1148.8" font-size="20.8" text-anchor="middle" fill="#4D4D4D">1</text>
<path d="M1747.4 1121.2v7" stroke="#333" stroke-width="2.7"/>
<text x="1747.4" y="1148.8" font-size="20.8" text-anchor="middle" fill="#4D4D4D">2</text>
<path d="M1844.6 1121.2v7" stroke="#333" stroke-width="2.7"/>
<text x="1844.6" y="1148.8" font-size="20.8" text-anchor="middle" fill="#4D4D4D">3</text>
<path d="M1941.8 1121.2v7" stroke="#333" stroke-width="2.7"/>
<text x="1941.8" y="1148.8" font-size="20.8" text-anchor="middle" fill="#4D4D4D">&gt;3</text>
<text x="1796.1" y="784.3" font-size="25.6" text-anchor="middle" fill="#000">Kruskal–Wallis p = 4.9e−04</text>
<text x="1650.2" y="817.5" font-size="25.5" text-anchor="middle" font-weight="bold" fill="#1a1a1a">a</text>
<text x="1747.4" y="817.5" font-size="25.5" text-anchor="middle" font-weight="bold" fill="#1a1a1a">a</text>
<text x="1844.6" y="817.5" font-size="25.5" text-anchor="middle" font-weight="bold" fill="#1a1a1a">ab</text>
<text x="1941.8" y="817.5" font-size="25.5" text-anchor="middle" font-weight="bold" fill="#1a1a1a">b</text>
<text x="1527.9" y="366" font-size="25.6" text-anchor="middle" fill="#000" transform="rotate(-90 1527.9 366)">Average pathway completeness</text>
<text x="1527.9" y="966.9" font-size="25.6" text-anchor="middle" fill="#000" transform="rotate(-90 1527.9 966.9)">Average pathway completeness</text>
<text x="1786.2" y="1179" font-size="25.6" text-anchor="middle" fill="#000">Number of species per culture</text>
</svg>
</body></html>
